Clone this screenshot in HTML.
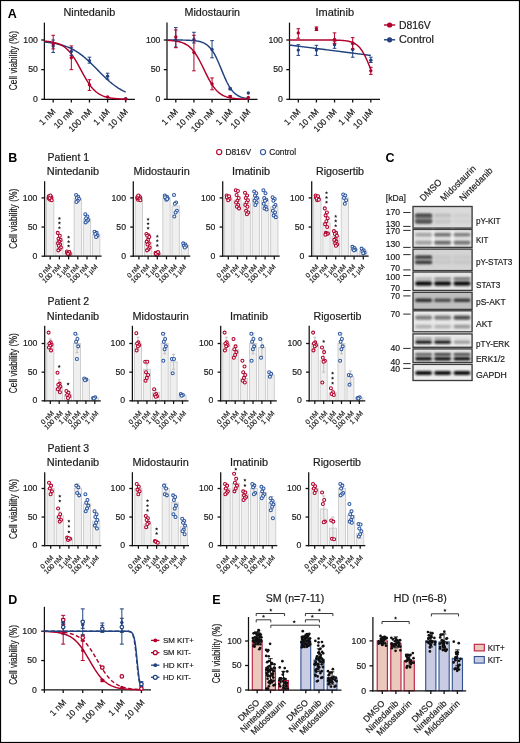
<!DOCTYPE html>
<html><head><meta charset="utf-8"><style>
html,body{margin:0;padding:0;background:#fff;}
svg{display:block;will-change:transform;}
text{font-family:"Liberation Sans", sans-serif;}
</style></head><body>
<svg width="520" height="743" viewBox="0 0 520 743">
<defs><filter id="b1" x="-20%" y="-60%" width="140%" height="220%"><feGaussianBlur stdDeviation="0.8"/></filter></defs>
<rect x="0" y="0" width="520" height="743" fill="#fff"/>
<text x="7.8" y="17.9" font-size="12.5" fill="#000" font-weight="bold">A</text>
<line x1="44.4" y1="22.6" x2="44.4" y2="99.9" stroke="#111" stroke-width="1.25"/>
<line x1="43.8" y1="99.3" x2="134.9" y2="99.3" stroke="#111" stroke-width="1.25"/>
<line x1="41.2" y1="99.3" x2="44.4" y2="99.3" stroke="#111" stroke-width="1.3"/>
<text x="37.8" y="101.8" font-size="8.7" fill="#1a1a1a" text-anchor="end" stroke="#1a1a1a" stroke-width="0.18">0</text>
<line x1="41.2" y1="69.65" x2="44.4" y2="69.65" stroke="#111" stroke-width="1.3"/>
<text x="37.8" y="72.15" font-size="8.7" fill="#1a1a1a" text-anchor="end" stroke="#1a1a1a" stroke-width="0.18">50</text>
<line x1="41.2" y1="40" x2="44.4" y2="40" stroke="#111" stroke-width="1.3"/>
<text x="37.8" y="42.5" font-size="8.7" fill="#1a1a1a" text-anchor="end" stroke="#1a1a1a" stroke-width="0.18">100</text>
<line x1="53.2" y1="99.3" x2="53.2" y2="102.5" stroke="#111" stroke-width="1.3"/>
<text x="56" y="112.2" font-size="8.6" fill="#1a1a1a" transform="rotate(-45 56 112.2)" text-anchor="end" stroke="#1a1a1a" stroke-width="0.18">1 nM</text>
<line x1="71.33" y1="99.3" x2="71.33" y2="102.5" stroke="#111" stroke-width="1.3"/>
<text x="74.13" y="112.2" font-size="8.6" fill="#1a1a1a" transform="rotate(-45 74.13 112.2)" text-anchor="end" stroke="#1a1a1a" stroke-width="0.18">10 nM</text>
<line x1="89.46" y1="99.3" x2="89.46" y2="102.5" stroke="#111" stroke-width="1.3"/>
<text x="92.26" y="112.2" font-size="8.6" fill="#1a1a1a" transform="rotate(-45 92.26 112.2)" text-anchor="end" stroke="#1a1a1a" stroke-width="0.18">100 nM</text>
<line x1="107.59" y1="99.3" x2="107.59" y2="102.5" stroke="#111" stroke-width="1.3"/>
<text x="110.39" y="112.2" font-size="8.6" fill="#1a1a1a" transform="rotate(-45 110.39 112.2)" text-anchor="end" stroke="#1a1a1a" stroke-width="0.18">1 µM</text>
<line x1="125.72" y1="99.3" x2="125.72" y2="102.5" stroke="#111" stroke-width="1.3"/>
<text x="128.52" y="112.2" font-size="8.6" fill="#1a1a1a" transform="rotate(-45 128.52 112.2)" text-anchor="end" stroke="#1a1a1a" stroke-width="0.18">10 µM</text>
<text x="89.35" y="16.3" font-size="10" fill="#1a1a1a" textLength="51.7" lengthAdjust="spacingAndGlyphs" text-anchor="middle" stroke="#1a1a1a" stroke-width="0.18">Nintedanib</text>
<path d="M44.4,41.99 L45.42,42.09 L46.43,42.19 L47.45,42.31 L48.47,42.43 L49.48,42.56 L50.5,42.7 L51.52,42.85 L52.53,43.01 L53.55,43.18 L54.56,43.36 L55.58,43.55 L56.6,43.76 L57.61,43.98 L58.63,44.21 L59.65,44.46 L60.66,44.72 L61.68,45 L62.7,45.3 L63.71,45.62 L64.73,45.96 L65.75,46.31 L66.76,46.69 L67.78,47.09 L68.8,47.51 L69.81,47.95 L70.83,48.42 L71.85,48.92 L72.86,49.44 L73.88,49.99 L74.89,50.56 L75.91,51.16 L76.93,51.79 L77.94,52.45 L78.96,53.13 L79.98,53.85 L80.99,54.59 L82.01,55.36 L83.03,56.16 L84.04,56.99 L85.06,57.84 L86.08,58.72 L87.09,59.62 L88.11,60.54 L89.13,61.49 L90.14,62.45 L91.16,63.43 L92.18,64.43 L93.19,65.44 L94.21,66.47 L95.22,67.5 L96.24,68.54 L97.26,69.58 L98.27,70.62 L99.29,71.66 L100.31,72.7 L101.32,73.72 L102.34,74.74 L103.36,75.75 L104.37,76.75 L105.39,77.72 L106.41,78.68 L107.42,79.62 L108.44,80.54 L109.46,81.44 L110.47,82.31 L111.49,83.15 L112.51,83.97 L113.52,84.76 L114.54,85.52 L115.56,86.26 L116.57,86.96 L117.59,87.64 L118.6,88.29 L119.62,88.91 L120.64,89.5 L121.65,90.07 L122.67,90.61 L123.69,91.12 L124.7,91.61 L125.72,92.07" stroke="#22427f" stroke-width="1.45" fill="none"/>
<path d="M44.4,41.15 L45.42,41.23 L46.43,41.32 L47.45,41.42 L48.47,41.53 L49.48,41.65 L50.5,41.8 L51.52,41.96 L52.53,42.14 L53.55,42.35 L54.56,42.58 L55.58,42.85 L56.6,43.14 L57.61,43.48 L58.63,43.85 L59.65,44.28 L60.66,44.75 L61.68,45.27 L62.7,45.86 L63.71,46.51 L64.73,47.24 L65.75,48.04 L66.76,48.92 L67.78,49.88 L68.8,50.94 L69.81,52.08 L70.83,53.32 L71.85,54.66 L72.86,56.09 L73.88,57.6 L74.89,59.2 L75.91,60.88 L76.93,62.63 L77.94,64.43 L78.96,66.28 L79.98,68.16 L80.99,70.05 L82.01,71.94 L83.03,73.82 L84.04,75.66 L85.06,77.46 L86.08,79.2 L87.09,80.87 L88.11,82.46 L89.13,83.97 L90.14,85.38 L91.16,86.71 L92.18,87.94 L93.19,89.07 L94.21,90.12 L95.22,91.07 L96.24,91.95 L97.26,92.74 L98.27,93.45 L99.29,94.1 L100.31,94.68 L101.32,95.2 L102.34,95.67 L103.36,96.08 L104.37,96.45 L105.39,96.78 L106.41,97.08 L107.42,97.34 L108.44,97.57 L109.46,97.77 L110.47,97.95 L111.49,98.11 L112.51,98.25 L113.52,98.38 L114.54,98.49 L115.56,98.59 L116.57,98.67 L117.59,98.75 L118.6,98.81 L119.62,98.87 L120.64,98.92 L121.65,98.97 L122.67,99.01 L123.69,99.04 L124.7,99.07 L125.72,99.1" stroke="#b0002b" stroke-width="1.45" fill="none"/>
<line x1="53.2" y1="40" x2="53.2" y2="52.45" stroke="#22427f" stroke-width="1"/>
<line x1="51.4" y1="40" x2="55" y2="40" stroke="#22427f" stroke-width="1"/>
<line x1="51.4" y1="52.45" x2="55" y2="52.45" stroke="#22427f" stroke-width="1"/>
<circle cx="53.2" cy="45.93" r="1.7" fill="#22427f" stroke="none" stroke-width="0"/>
<line x1="71.33" y1="47.71" x2="71.33" y2="55.42" stroke="#22427f" stroke-width="1"/>
<line x1="69.53" y1="47.71" x2="73.13" y2="47.71" stroke="#22427f" stroke-width="1"/>
<line x1="69.53" y1="55.42" x2="73.13" y2="55.42" stroke="#22427f" stroke-width="1"/>
<circle cx="71.33" cy="51.56" r="1.7" fill="#22427f" stroke="none" stroke-width="0"/>
<line x1="89.46" y1="57.2" x2="89.46" y2="63.13" stroke="#22427f" stroke-width="1"/>
<line x1="87.66" y1="57.2" x2="91.26" y2="57.2" stroke="#22427f" stroke-width="1"/>
<line x1="87.66" y1="63.13" x2="91.26" y2="63.13" stroke="#22427f" stroke-width="1"/>
<circle cx="89.46" cy="60.75" r="1.7" fill="#22427f" stroke="none" stroke-width="0"/>
<line x1="107.59" y1="73.21" x2="107.59" y2="79.14" stroke="#22427f" stroke-width="1"/>
<line x1="105.79" y1="73.21" x2="109.39" y2="73.21" stroke="#22427f" stroke-width="1"/>
<line x1="105.79" y1="79.14" x2="109.39" y2="79.14" stroke="#22427f" stroke-width="1"/>
<circle cx="107.59" cy="76.17" r="1.7" fill="#22427f" stroke="none" stroke-width="0"/>
<circle cx="125.72" cy="98.71" r="1.7" fill="#22427f" stroke="none" stroke-width="0"/>
<line x1="53.2" y1="35.26" x2="53.2" y2="48.89" stroke="#b0002b" stroke-width="1"/>
<line x1="51.4" y1="35.26" x2="55" y2="35.26" stroke="#b0002b" stroke-width="1"/>
<line x1="51.4" y1="48.89" x2="55" y2="48.89" stroke="#b0002b" stroke-width="1"/>
<circle cx="53.2" cy="43.85" r="1.7" fill="#b0002b" stroke="none" stroke-width="0"/>
<line x1="71.33" y1="45.93" x2="71.33" y2="69.65" stroke="#b0002b" stroke-width="1"/>
<line x1="69.53" y1="45.93" x2="73.13" y2="45.93" stroke="#b0002b" stroke-width="1"/>
<line x1="69.53" y1="69.65" x2="73.13" y2="69.65" stroke="#b0002b" stroke-width="1"/>
<circle cx="71.33" cy="57.79" r="1.7" fill="#b0002b" stroke="none" stroke-width="0"/>
<line x1="89.46" y1="79.73" x2="89.46" y2="90.41" stroke="#b0002b" stroke-width="1"/>
<line x1="87.66" y1="79.73" x2="91.26" y2="79.73" stroke="#b0002b" stroke-width="1"/>
<line x1="87.66" y1="90.41" x2="91.26" y2="90.41" stroke="#b0002b" stroke-width="1"/>
<circle cx="89.46" cy="84.77" r="1.7" fill="#b0002b" stroke="none" stroke-width="0"/>
<circle cx="107.59" cy="96.93" r="1.7" fill="#b0002b" stroke="none" stroke-width="0"/>
<circle cx="125.72" cy="99" r="1.7" fill="#b0002b" stroke="none" stroke-width="0"/>
<line x1="167" y1="22.6" x2="167" y2="99.9" stroke="#111" stroke-width="1.25"/>
<line x1="166.4" y1="99.3" x2="257.5" y2="99.3" stroke="#111" stroke-width="1.25"/>
<line x1="163.8" y1="99.3" x2="167" y2="99.3" stroke="#111" stroke-width="1.3"/>
<text x="160.4" y="101.8" font-size="8.7" fill="#1a1a1a" text-anchor="end" stroke="#1a1a1a" stroke-width="0.18">0</text>
<line x1="163.8" y1="69.65" x2="167" y2="69.65" stroke="#111" stroke-width="1.3"/>
<text x="160.4" y="72.15" font-size="8.7" fill="#1a1a1a" text-anchor="end" stroke="#1a1a1a" stroke-width="0.18">50</text>
<line x1="163.8" y1="40" x2="167" y2="40" stroke="#111" stroke-width="1.3"/>
<text x="160.4" y="42.5" font-size="8.7" fill="#1a1a1a" text-anchor="end" stroke="#1a1a1a" stroke-width="0.18">100</text>
<line x1="175.8" y1="99.3" x2="175.8" y2="102.5" stroke="#111" stroke-width="1.3"/>
<text x="178.6" y="112.2" font-size="8.6" fill="#1a1a1a" transform="rotate(-45 178.6 112.2)" text-anchor="end" stroke="#1a1a1a" stroke-width="0.18">1 nM</text>
<line x1="193.93" y1="99.3" x2="193.93" y2="102.5" stroke="#111" stroke-width="1.3"/>
<text x="196.73" y="112.2" font-size="8.6" fill="#1a1a1a" transform="rotate(-45 196.73 112.2)" text-anchor="end" stroke="#1a1a1a" stroke-width="0.18">10 nM</text>
<line x1="212.06" y1="99.3" x2="212.06" y2="102.5" stroke="#111" stroke-width="1.3"/>
<text x="214.86" y="112.2" font-size="8.6" fill="#1a1a1a" transform="rotate(-45 214.86 112.2)" text-anchor="end" stroke="#1a1a1a" stroke-width="0.18">100 nM</text>
<line x1="230.19" y1="99.3" x2="230.19" y2="102.5" stroke="#111" stroke-width="1.3"/>
<text x="232.99" y="112.2" font-size="8.6" fill="#1a1a1a" transform="rotate(-45 232.99 112.2)" text-anchor="end" stroke="#1a1a1a" stroke-width="0.18">1 µM</text>
<line x1="248.32" y1="99.3" x2="248.32" y2="102.5" stroke="#111" stroke-width="1.3"/>
<text x="251.12" y="112.2" font-size="8.6" fill="#1a1a1a" transform="rotate(-45 251.12 112.2)" text-anchor="end" stroke="#1a1a1a" stroke-width="0.18">10 µM</text>
<text x="212.25" y="16.3" font-size="10" fill="#1a1a1a" textLength="55.5" lengthAdjust="spacingAndGlyphs" text-anchor="middle" stroke="#1a1a1a" stroke-width="0.18">Midostaurin</text>
<path d="M167,40.01 L168.02,40.01 L169.03,40.01 L170.05,40.01 L171.07,40.01 L172.08,40.02 L173.1,40.02 L174.12,40.02 L175.13,40.03 L176.15,40.03 L177.16,40.04 L178.18,40.05 L179.2,40.05 L180.21,40.07 L181.23,40.08 L182.25,40.09 L183.26,40.11 L184.28,40.13 L185.3,40.15 L186.31,40.18 L187.33,40.21 L188.35,40.25 L189.36,40.29 L190.38,40.35 L191.4,40.41 L192.41,40.48 L193.43,40.57 L194.45,40.67 L195.46,40.8 L196.48,40.94 L197.5,41.11 L198.51,41.31 L199.53,41.54 L200.54,41.81 L201.56,42.13 L202.58,42.5 L203.59,42.94 L204.61,43.44 L205.63,44.03 L206.64,44.71 L207.66,45.49 L208.68,46.38 L209.69,47.4 L210.71,48.56 L211.73,49.86 L212.74,51.32 L213.76,52.94 L214.78,54.72 L215.79,56.65 L216.81,58.73 L217.82,60.95 L218.84,63.27 L219.86,65.69 L220.87,68.15 L221.89,70.64 L222.91,73.11 L223.92,75.53 L224.94,77.88 L225.96,80.12 L226.97,82.23 L227.99,84.19 L229.01,86.01 L230.02,87.66 L231.04,89.15 L232.06,90.48 L233.07,91.67 L234.09,92.72 L235.11,93.64 L236.12,94.44 L237.14,95.14 L238.16,95.74 L239.17,96.26 L240.19,96.71 L241.2,97.1 L242.22,97.43 L243.24,97.71 L244.25,97.95 L245.27,98.15 L246.29,98.33 L247.3,98.48 L248.32,98.6" stroke="#22427f" stroke-width="1.45" fill="none"/>
<path d="M167,40.33 L168.02,40.38 L169.03,40.44 L170.05,40.51 L171.07,40.58 L172.08,40.67 L173.1,40.77 L174.12,40.89 L175.13,41.02 L176.15,41.17 L177.16,41.35 L178.18,41.55 L179.2,41.78 L180.21,42.04 L181.23,42.34 L182.25,42.68 L183.26,43.07 L184.28,43.51 L185.3,44.01 L186.31,44.57 L187.33,45.21 L188.35,45.92 L189.36,46.72 L190.38,47.62 L191.4,48.61 L192.41,49.71 L193.43,50.92 L194.45,52.24 L195.46,53.68 L196.48,55.23 L197.5,56.89 L198.51,58.66 L199.53,60.52 L200.54,62.47 L201.56,64.48 L202.58,66.54 L203.59,68.64 L204.61,70.74 L205.63,72.84 L206.64,74.9 L207.66,76.91 L208.68,78.85 L209.69,80.71 L210.71,82.47 L211.73,84.13 L212.74,85.68 L213.76,87.11 L214.78,88.43 L215.79,89.63 L216.81,90.73 L217.82,91.72 L218.84,92.61 L219.86,93.41 L220.87,94.12 L221.89,94.75 L222.91,95.31 L223.92,95.81 L224.94,96.25 L225.96,96.63 L226.97,96.97 L227.99,97.27 L229.01,97.53 L230.02,97.76 L231.04,97.96 L232.06,98.13 L233.07,98.28 L234.09,98.42 L235.11,98.53 L236.12,98.63 L237.14,98.72 L238.16,98.8 L239.17,98.86 L240.19,98.92 L241.2,98.97 L242.22,99.01 L243.24,99.05 L244.25,99.08 L245.27,99.11 L246.29,99.14 L247.3,99.16 L248.32,99.18" stroke="#b0002b" stroke-width="1.45" fill="none"/>
<line x1="175.8" y1="27.55" x2="175.8" y2="47.12" stroke="#22427f" stroke-width="1"/>
<line x1="174" y1="27.55" x2="177.6" y2="27.55" stroke="#22427f" stroke-width="1"/>
<line x1="174" y1="47.12" x2="177.6" y2="47.12" stroke="#22427f" stroke-width="1"/>
<circle cx="175.8" cy="40" r="1.7" fill="#22427f" stroke="none" stroke-width="0"/>
<line x1="193.93" y1="32.29" x2="193.93" y2="42.97" stroke="#22427f" stroke-width="1"/>
<line x1="192.13" y1="32.29" x2="195.73" y2="32.29" stroke="#22427f" stroke-width="1"/>
<line x1="192.13" y1="42.97" x2="195.73" y2="42.97" stroke="#22427f" stroke-width="1"/>
<circle cx="193.93" cy="39.41" r="1.7" fill="#22427f" stroke="none" stroke-width="0"/>
<line x1="212.06" y1="40.59" x2="212.06" y2="57.79" stroke="#22427f" stroke-width="1"/>
<line x1="210.26" y1="40.59" x2="213.86" y2="40.59" stroke="#22427f" stroke-width="1"/>
<line x1="210.26" y1="57.79" x2="213.86" y2="57.79" stroke="#22427f" stroke-width="1"/>
<circle cx="212.06" cy="49.49" r="1.7" fill="#22427f" stroke="none" stroke-width="0"/>
<line x1="230.19" y1="88.03" x2="230.19" y2="89.81" stroke="#22427f" stroke-width="1"/>
<line x1="228.39" y1="88.03" x2="231.99" y2="88.03" stroke="#22427f" stroke-width="1"/>
<line x1="228.39" y1="89.81" x2="231.99" y2="89.81" stroke="#22427f" stroke-width="1"/>
<circle cx="230.19" cy="88.8" r="1.7" fill="#22427f" stroke="none" stroke-width="0"/>
<circle cx="248.32" cy="93.07" r="1.7" fill="#22427f" stroke="none" stroke-width="0"/>
<line x1="175.8" y1="29.92" x2="175.8" y2="47.71" stroke="#b0002b" stroke-width="1"/>
<line x1="174" y1="29.92" x2="177.6" y2="29.92" stroke="#b0002b" stroke-width="1"/>
<line x1="174" y1="47.71" x2="177.6" y2="47.71" stroke="#b0002b" stroke-width="1"/>
<circle cx="175.8" cy="37.03" r="1.7" fill="#b0002b" stroke="none" stroke-width="0"/>
<line x1="193.93" y1="35.26" x2="193.93" y2="70.84" stroke="#b0002b" stroke-width="1"/>
<line x1="192.13" y1="35.26" x2="195.73" y2="35.26" stroke="#b0002b" stroke-width="1"/>
<line x1="192.13" y1="70.84" x2="195.73" y2="70.84" stroke="#b0002b" stroke-width="1"/>
<circle cx="193.93" cy="52.45" r="1.7" fill="#b0002b" stroke="none" stroke-width="0"/>
<line x1="212.06" y1="77.95" x2="212.06" y2="89.81" stroke="#b0002b" stroke-width="1"/>
<line x1="210.26" y1="77.95" x2="213.86" y2="77.95" stroke="#b0002b" stroke-width="1"/>
<line x1="210.26" y1="89.81" x2="213.86" y2="89.81" stroke="#b0002b" stroke-width="1"/>
<circle cx="212.06" cy="83.88" r="1.7" fill="#b0002b" stroke="none" stroke-width="0"/>
<line x1="230.19" y1="95.74" x2="230.19" y2="97.52" stroke="#b0002b" stroke-width="1"/>
<line x1="228.39" y1="95.74" x2="231.99" y2="95.74" stroke="#b0002b" stroke-width="1"/>
<line x1="228.39" y1="97.52" x2="231.99" y2="97.52" stroke="#b0002b" stroke-width="1"/>
<circle cx="230.19" cy="96.57" r="1.7" fill="#b0002b" stroke="none" stroke-width="0"/>
<circle cx="248.32" cy="97.52" r="1.7" fill="#b0002b" stroke="none" stroke-width="0"/>
<line x1="289.5" y1="22.6" x2="289.5" y2="99.9" stroke="#111" stroke-width="1.25"/>
<line x1="288.9" y1="99.3" x2="380" y2="99.3" stroke="#111" stroke-width="1.25"/>
<line x1="286.3" y1="99.3" x2="289.5" y2="99.3" stroke="#111" stroke-width="1.3"/>
<text x="282.9" y="101.8" font-size="8.7" fill="#1a1a1a" text-anchor="end" stroke="#1a1a1a" stroke-width="0.18">0</text>
<line x1="286.3" y1="69.65" x2="289.5" y2="69.65" stroke="#111" stroke-width="1.3"/>
<text x="282.9" y="72.15" font-size="8.7" fill="#1a1a1a" text-anchor="end" stroke="#1a1a1a" stroke-width="0.18">50</text>
<line x1="286.3" y1="40" x2="289.5" y2="40" stroke="#111" stroke-width="1.3"/>
<text x="282.9" y="42.5" font-size="8.7" fill="#1a1a1a" text-anchor="end" stroke="#1a1a1a" stroke-width="0.18">100</text>
<line x1="298.3" y1="99.3" x2="298.3" y2="102.5" stroke="#111" stroke-width="1.3"/>
<text x="301.1" y="112.2" font-size="8.6" fill="#1a1a1a" transform="rotate(-45 301.1 112.2)" text-anchor="end" stroke="#1a1a1a" stroke-width="0.18">1 nM</text>
<line x1="316.43" y1="99.3" x2="316.43" y2="102.5" stroke="#111" stroke-width="1.3"/>
<text x="319.23" y="112.2" font-size="8.6" fill="#1a1a1a" transform="rotate(-45 319.23 112.2)" text-anchor="end" stroke="#1a1a1a" stroke-width="0.18">10 nM</text>
<line x1="334.56" y1="99.3" x2="334.56" y2="102.5" stroke="#111" stroke-width="1.3"/>
<text x="337.36" y="112.2" font-size="8.6" fill="#1a1a1a" transform="rotate(-45 337.36 112.2)" text-anchor="end" stroke="#1a1a1a" stroke-width="0.18">100 nM</text>
<line x1="352.69" y1="99.3" x2="352.69" y2="102.5" stroke="#111" stroke-width="1.3"/>
<text x="355.49" y="112.2" font-size="8.6" fill="#1a1a1a" transform="rotate(-45 355.49 112.2)" text-anchor="end" stroke="#1a1a1a" stroke-width="0.18">1 µM</text>
<line x1="370.82" y1="99.3" x2="370.82" y2="102.5" stroke="#111" stroke-width="1.3"/>
<text x="373.62" y="112.2" font-size="8.6" fill="#1a1a1a" transform="rotate(-45 373.62 112.2)" text-anchor="end" stroke="#1a1a1a" stroke-width="0.18">10 µM</text>
<text x="334.75" y="16.3" font-size="10" fill="#1a1a1a" textLength="38.5" lengthAdjust="spacingAndGlyphs" text-anchor="middle" stroke="#1a1a1a" stroke-width="0.18">Imatinib</text>
<path d="M289.5,45.05 L290.52,45.18 L291.53,45.31 L292.55,45.44 L293.57,45.57 L294.58,45.7 L295.6,45.83 L296.62,45.96 L297.63,46.09 L298.65,46.22 L299.67,46.35 L300.68,46.48 L301.7,46.61 L302.71,46.74 L303.73,46.87 L304.75,47 L305.76,47.13 L306.78,47.26 L307.8,47.39 L308.81,47.51 L309.83,47.64 L310.85,47.77 L311.86,47.9 L312.88,48.03 L313.9,48.16 L314.91,48.29 L315.93,48.42 L316.95,48.55 L317.96,48.68 L318.98,48.81 L320,48.94 L321.01,49.07 L322.03,49.2 L323.04,49.33 L324.06,49.46 L325.08,49.59 L326.09,49.72 L327.11,49.85 L328.13,49.98 L329.14,50.11 L330.16,50.24 L331.18,50.37 L332.19,50.5 L333.21,50.63 L334.23,50.76 L335.24,50.89 L336.26,51.02 L337.28,51.15 L338.29,51.28 L339.31,51.4 L340.32,51.53 L341.34,51.66 L342.36,51.79 L343.37,51.92 L344.39,52.05 L345.41,52.18 L346.42,52.31 L347.44,52.44 L348.46,52.57 L349.47,52.7 L350.49,52.83 L351.51,52.96 L352.52,53.09 L353.54,53.22 L354.56,53.35 L355.57,53.48 L356.59,53.61 L357.61,53.74 L358.62,53.87 L359.64,54 L360.65,54.13 L361.67,54.26 L362.69,54.39 L363.7,54.52 L364.72,54.65 L365.74,54.78 L366.75,54.91 L367.77,55.04 L368.79,55.17 L369.8,55.29 L370.82,55.42" stroke="#22427f" stroke-width="1.45" fill="none"/>
<path d="M289.5,40 L290.52,40 L291.53,40 L292.55,40 L293.57,40 L294.58,40 L295.6,40 L296.62,40 L297.63,40 L298.65,40 L299.67,40 L300.68,40 L301.7,40 L302.71,40 L303.73,40 L304.75,40 L305.76,40 L306.78,40 L307.8,40 L308.81,40 L309.83,40 L310.85,40 L311.86,40 L312.88,40 L313.9,40 L314.91,40 L315.93,40 L316.95,40.01 L317.96,40.01 L318.98,40.01 L320,40.01 L321.01,40.01 L322.03,40.01 L323.04,40.02 L324.06,40.02 L325.08,40.02 L326.09,40.03 L327.11,40.03 L328.13,40.04 L329.14,40.05 L330.16,40.06 L331.18,40.07 L332.19,40.08 L333.21,40.09 L334.23,40.11 L335.24,40.13 L336.26,40.16 L337.28,40.19 L338.29,40.22 L339.31,40.27 L340.32,40.32 L341.34,40.38 L342.36,40.45 L343.37,40.53 L344.39,40.63 L345.41,40.75 L346.42,40.89 L347.44,41.06 L348.46,41.25 L349.47,41.49 L350.49,41.76 L351.51,42.09 L352.52,42.47 L353.54,42.91 L354.56,43.44 L355.57,44.05 L356.59,44.75 L357.61,45.57 L358.62,46.52 L359.64,47.6 L360.65,48.83 L361.67,50.22 L362.69,51.78 L363.7,53.52 L364.72,55.42 L365.74,57.49 L366.75,59.71 L367.77,62.07 L368.79,64.53 L369.8,67.07 L370.82,69.65" stroke="#b0002b" stroke-width="1.45" fill="none"/>
<line x1="298.3" y1="44.74" x2="298.3" y2="55.42" stroke="#22427f" stroke-width="1"/>
<line x1="296.5" y1="44.74" x2="300.1" y2="44.74" stroke="#22427f" stroke-width="1"/>
<line x1="296.5" y1="55.42" x2="300.1" y2="55.42" stroke="#22427f" stroke-width="1"/>
<circle cx="298.3" cy="50.08" r="1.7" fill="#22427f" stroke="none" stroke-width="0"/>
<line x1="316.43" y1="45.34" x2="316.43" y2="55.42" stroke="#22427f" stroke-width="1"/>
<line x1="314.63" y1="45.34" x2="318.23" y2="45.34" stroke="#22427f" stroke-width="1"/>
<line x1="314.63" y1="55.42" x2="318.23" y2="55.42" stroke="#22427f" stroke-width="1"/>
<circle cx="316.43" cy="50.08" r="1.7" fill="#22427f" stroke="none" stroke-width="0"/>
<line x1="334.56" y1="41.78" x2="334.56" y2="48.3" stroke="#22427f" stroke-width="1"/>
<line x1="332.76" y1="41.78" x2="336.36" y2="41.78" stroke="#22427f" stroke-width="1"/>
<line x1="332.76" y1="48.3" x2="336.36" y2="48.3" stroke="#22427f" stroke-width="1"/>
<circle cx="334.56" cy="44.74" r="1.7" fill="#22427f" stroke="none" stroke-width="0"/>
<line x1="352.69" y1="44.15" x2="352.69" y2="57.2" stroke="#22427f" stroke-width="1"/>
<line x1="350.89" y1="44.15" x2="354.49" y2="44.15" stroke="#22427f" stroke-width="1"/>
<line x1="350.89" y1="57.2" x2="354.49" y2="57.2" stroke="#22427f" stroke-width="1"/>
<circle cx="352.69" cy="49.49" r="1.7" fill="#22427f" stroke="none" stroke-width="0"/>
<line x1="370.82" y1="57.2" x2="370.82" y2="62.53" stroke="#22427f" stroke-width="1"/>
<line x1="369.02" y1="57.2" x2="372.62" y2="57.2" stroke="#22427f" stroke-width="1"/>
<line x1="369.02" y1="62.53" x2="372.62" y2="62.53" stroke="#22427f" stroke-width="1"/>
<circle cx="370.82" cy="60.16" r="1.7" fill="#22427f" stroke="none" stroke-width="0"/>
<line x1="298.3" y1="28.73" x2="298.3" y2="38.22" stroke="#b0002b" stroke-width="1"/>
<line x1="296.5" y1="28.73" x2="300.1" y2="28.73" stroke="#b0002b" stroke-width="1"/>
<line x1="296.5" y1="38.22" x2="300.1" y2="38.22" stroke="#b0002b" stroke-width="1"/>
<circle cx="298.3" cy="32.88" r="1.7" fill="#b0002b" stroke="none" stroke-width="0"/>
<line x1="316.43" y1="26.95" x2="316.43" y2="30.51" stroke="#b0002b" stroke-width="1"/>
<line x1="314.63" y1="26.95" x2="318.23" y2="26.95" stroke="#b0002b" stroke-width="1"/>
<line x1="314.63" y1="30.51" x2="318.23" y2="30.51" stroke="#b0002b" stroke-width="1"/>
<circle cx="316.43" cy="28.73" r="1.7" fill="#b0002b" stroke="none" stroke-width="0"/>
<line x1="334.56" y1="32.88" x2="334.56" y2="43.56" stroke="#b0002b" stroke-width="1"/>
<line x1="332.76" y1="32.88" x2="336.36" y2="32.88" stroke="#b0002b" stroke-width="1"/>
<line x1="332.76" y1="43.56" x2="336.36" y2="43.56" stroke="#b0002b" stroke-width="1"/>
<circle cx="334.56" cy="39.41" r="1.7" fill="#b0002b" stroke="none" stroke-width="0"/>
<line x1="352.69" y1="37.63" x2="352.69" y2="48.89" stroke="#b0002b" stroke-width="1"/>
<line x1="350.89" y1="37.63" x2="354.49" y2="37.63" stroke="#b0002b" stroke-width="1"/>
<line x1="350.89" y1="48.89" x2="354.49" y2="48.89" stroke="#b0002b" stroke-width="1"/>
<circle cx="352.69" cy="42.97" r="1.7" fill="#b0002b" stroke="none" stroke-width="0"/>
<line x1="370.82" y1="67.28" x2="370.82" y2="74.39" stroke="#b0002b" stroke-width="1"/>
<line x1="369.02" y1="67.28" x2="372.62" y2="67.28" stroke="#b0002b" stroke-width="1"/>
<line x1="369.02" y1="74.39" x2="372.62" y2="74.39" stroke="#b0002b" stroke-width="1"/>
<circle cx="370.82" cy="70.84" r="1.7" fill="#b0002b" stroke="none" stroke-width="0"/>
<text x="17" y="60.6" font-size="10" fill="#1a1a1a" textLength="59.3" lengthAdjust="spacingAndGlyphs" transform="rotate(-90 17 60.6)" text-anchor="middle" stroke="#1a1a1a" stroke-width="0.18">Cell viability (%)</text>
<line x1="384" y1="25" x2="395.2" y2="25" stroke="#b0002b" stroke-width="1.4"/>
<circle cx="389.6" cy="25" r="2.6" fill="#b0002b" stroke="none" stroke-width="0"/>
<text x="399" y="28.6" font-size="10.3" fill="#1a1a1a" textLength="31.8" lengthAdjust="spacingAndGlyphs" stroke="#1a1a1a" stroke-width="0.18">D816V</text>
<line x1="384" y1="39.8" x2="395.2" y2="39.8" stroke="#22427f" stroke-width="1.4"/>
<circle cx="389.6" cy="39.8" r="2.6" fill="#22427f" stroke="none" stroke-width="0"/>
<text x="399" y="43.4" font-size="10.3" fill="#1a1a1a" textLength="35" lengthAdjust="spacingAndGlyphs" stroke="#1a1a1a" stroke-width="0.18">Control</text>
<text x="8.3" y="162" font-size="12.5" fill="#000" font-weight="bold">B</text>
<rect x="46.55" y="197.9" width="7.3" height="58.3" fill="#efefef" stroke="#cbcbcb" stroke-width="0.9"/>
<rect x="55.75" y="241.04" width="7.3" height="15.16" fill="#efefef" stroke="#cbcbcb" stroke-width="0.9"/>
<rect x="64.95" y="252.7" width="7.3" height="3.5" fill="#efefef" stroke="#cbcbcb" stroke-width="0.9"/>
<rect x="74.15" y="198.77" width="7.3" height="57.43" fill="#efefef" stroke="#cbcbcb" stroke-width="0.9"/>
<rect x="83.35" y="218.89" width="7.3" height="37.31" fill="#efefef" stroke="#cbcbcb" stroke-width="0.9"/>
<rect x="92.55" y="234.05" width="7.3" height="22.15" fill="#efefef" stroke="#cbcbcb" stroke-width="0.9"/>
<circle cx="48.5" cy="197.9" r="1.5" fill="#fff" stroke="#b0002b" stroke-width="1.05"/>
<circle cx="50.6" cy="196.73" r="1.5" fill="#fff" stroke="#b0002b" stroke-width="1.05"/>
<circle cx="49.3" cy="199.07" r="1.5" fill="#fff" stroke="#b0002b" stroke-width="1.05"/>
<circle cx="51.4" cy="197.32" r="1.5" fill="#fff" stroke="#b0002b" stroke-width="1.05"/>
<circle cx="50.1" cy="199.65" r="1.5" fill="#fff" stroke="#b0002b" stroke-width="1.05"/>
<circle cx="48.81" cy="196.15" r="1.5" fill="#fff" stroke="#b0002b" stroke-width="1.05"/>
<circle cx="50.91" cy="198.48" r="1.5" fill="#fff" stroke="#b0002b" stroke-width="1.05"/>
<circle cx="49.61" cy="197.9" r="1.5" fill="#fff" stroke="#b0002b" stroke-width="1.05"/>
<circle cx="51.71" cy="200.23" r="1.5" fill="#fff" stroke="#b0002b" stroke-width="1.05"/>
<circle cx="50.41" cy="195.57" r="1.5" fill="#fff" stroke="#b0002b" stroke-width="1.05"/>
<circle cx="57.7" cy="232.88" r="1.5" fill="#fff" stroke="#b0002b" stroke-width="1.05"/>
<circle cx="59.8" cy="235.79" r="1.5" fill="#fff" stroke="#b0002b" stroke-width="1.05"/>
<circle cx="58.5" cy="238.71" r="1.5" fill="#fff" stroke="#b0002b" stroke-width="1.05"/>
<circle cx="60.6" cy="239.88" r="1.5" fill="#fff" stroke="#b0002b" stroke-width="1.05"/>
<circle cx="59.3" cy="241.62" r="1.5" fill="#fff" stroke="#b0002b" stroke-width="1.05"/>
<circle cx="58.01" cy="243.37" r="1.5" fill="#fff" stroke="#b0002b" stroke-width="1.05"/>
<circle cx="60.11" cy="244.54" r="1.5" fill="#fff" stroke="#b0002b" stroke-width="1.05"/>
<circle cx="58.81" cy="245.71" r="1.5" fill="#fff" stroke="#b0002b" stroke-width="1.05"/>
<circle cx="60.91" cy="247.45" r="1.5" fill="#fff" stroke="#b0002b" stroke-width="1.05"/>
<circle cx="59.61" cy="249.2" r="1.5" fill="#fff" stroke="#b0002b" stroke-width="1.05"/>
<circle cx="58.31" cy="250.37" r="1.5" fill="#fff" stroke="#b0002b" stroke-width="1.05"/>
<circle cx="66.9" cy="251.54" r="1.5" fill="#fff" stroke="#b0002b" stroke-width="1.05"/>
<circle cx="69" cy="252.7" r="1.5" fill="#fff" stroke="#b0002b" stroke-width="1.05"/>
<circle cx="67.7" cy="253.28" r="1.5" fill="#fff" stroke="#b0002b" stroke-width="1.05"/>
<circle cx="69.8" cy="253.87" r="1.5" fill="#fff" stroke="#b0002b" stroke-width="1.05"/>
<circle cx="68.5" cy="254.45" r="1.5" fill="#fff" stroke="#b0002b" stroke-width="1.05"/>
<circle cx="67.21" cy="253.28" r="1.5" fill="#fff" stroke="#b0002b" stroke-width="1.05"/>
<circle cx="69.31" cy="252.12" r="1.5" fill="#fff" stroke="#b0002b" stroke-width="1.05"/>
<circle cx="68.01" cy="253.87" r="1.5" fill="#fff" stroke="#b0002b" stroke-width="1.05"/>
<circle cx="76.1" cy="194.99" r="1.5" fill="#fff" stroke="#2d57a0" stroke-width="1.05"/>
<circle cx="78.2" cy="196.73" r="1.5" fill="#fff" stroke="#2d57a0" stroke-width="1.05"/>
<circle cx="76.9" cy="197.9" r="1.5" fill="#fff" stroke="#2d57a0" stroke-width="1.05"/>
<circle cx="79" cy="199.07" r="1.5" fill="#fff" stroke="#2d57a0" stroke-width="1.05"/>
<circle cx="77.7" cy="200.81" r="1.5" fill="#fff" stroke="#2d57a0" stroke-width="1.05"/>
<circle cx="76.41" cy="201.98" r="1.5" fill="#fff" stroke="#2d57a0" stroke-width="1.05"/>
<circle cx="85.3" cy="214.22" r="1.5" fill="#fff" stroke="#2d57a0" stroke-width="1.05"/>
<circle cx="87.4" cy="216.56" r="1.5" fill="#fff" stroke="#2d57a0" stroke-width="1.05"/>
<circle cx="86.1" cy="218.31" r="1.5" fill="#fff" stroke="#2d57a0" stroke-width="1.05"/>
<circle cx="88.2" cy="220.05" r="1.5" fill="#fff" stroke="#2d57a0" stroke-width="1.05"/>
<circle cx="86.9" cy="221.22" r="1.5" fill="#fff" stroke="#2d57a0" stroke-width="1.05"/>
<circle cx="85.61" cy="222.39" r="1.5" fill="#fff" stroke="#2d57a0" stroke-width="1.05"/>
<circle cx="94.5" cy="231.71" r="1.5" fill="#fff" stroke="#2d57a0" stroke-width="1.05"/>
<circle cx="96.6" cy="232.88" r="1.5" fill="#fff" stroke="#2d57a0" stroke-width="1.05"/>
<circle cx="95.3" cy="234.05" r="1.5" fill="#fff" stroke="#2d57a0" stroke-width="1.05"/>
<circle cx="97.4" cy="235.79" r="1.5" fill="#fff" stroke="#2d57a0" stroke-width="1.05"/>
<circle cx="96.1" cy="236.96" r="1.5" fill="#fff" stroke="#2d57a0" stroke-width="1.05"/>
<polygon points="59.4,216.7 59.88,217.75 61.02,217.87 60.17,218.65 60.4,219.78 59.4,219.21 58.4,219.78 58.63,218.65 57.78,217.87 58.92,217.75" fill="#222"/>
<polygon points="59.4,221.3 59.88,222.35 61.02,222.47 60.17,223.25 60.4,224.38 59.4,223.81 58.4,224.38 58.63,223.25 57.78,222.47 58.92,222.35" fill="#222"/>
<polygon points="59.4,226.1 59.88,227.15 61.02,227.27 60.17,228.05 60.4,229.18 59.4,228.61 58.4,229.18 58.63,228.05 57.78,227.27 58.92,227.15" fill="#222"/>
<polygon points="68.6,235.5 69.08,236.55 70.22,236.67 69.37,237.45 69.6,238.58 68.6,238.01 67.6,238.58 67.83,237.45 66.98,236.67 68.12,236.55" fill="#222"/>
<polygon points="68.6,239.9 69.08,240.95 70.22,241.07 69.37,241.85 69.6,242.98 68.6,242.41 67.6,242.98 67.83,241.85 66.98,241.07 68.12,240.95" fill="#222"/>
<polygon points="68.6,244.3 69.08,245.35 70.22,245.47 69.37,246.25 69.6,247.38 68.6,246.81 67.6,247.38 67.83,246.25 66.98,245.47 68.12,245.35" fill="#222"/>
<line x1="44.6" y1="181.2" x2="44.6" y2="256.8" stroke="#111" stroke-width="1.25"/>
<line x1="44" y1="256.2" x2="101.6" y2="256.2" stroke="#111" stroke-width="1.25"/>
<line x1="41.5" y1="256.2" x2="44.6" y2="256.2" stroke="#111" stroke-width="1.3"/>
<text x="37.3" y="258.8" font-size="8.7" fill="#1a1a1a" text-anchor="end" stroke="#1a1a1a" stroke-width="0.18">0</text>
<line x1="41.5" y1="227.05" x2="44.6" y2="227.05" stroke="#111" stroke-width="1.3"/>
<text x="37.3" y="229.65" font-size="8.7" fill="#1a1a1a" text-anchor="end" stroke="#1a1a1a" stroke-width="0.18">50</text>
<line x1="41.5" y1="197.9" x2="44.6" y2="197.9" stroke="#111" stroke-width="1.3"/>
<text x="37.3" y="200.5" font-size="8.7" fill="#1a1a1a" text-anchor="end" stroke="#1a1a1a" stroke-width="0.18">100</text>
<line x1="50.2" y1="256.2" x2="50.2" y2="259.4" stroke="#111" stroke-width="1.25"/>
<text x="52" y="267.3" font-size="6.9" fill="#1a1a1a" transform="rotate(-45 52 267.3)" text-anchor="end" stroke="#1a1a1a" stroke-width="0.18">0 nM</text>
<line x1="59.4" y1="256.2" x2="59.4" y2="259.4" stroke="#111" stroke-width="1.25"/>
<text x="61.2" y="267.3" font-size="6.9" fill="#1a1a1a" transform="rotate(-45 61.2 267.3)" text-anchor="end" stroke="#1a1a1a" stroke-width="0.18">100 nM</text>
<line x1="68.6" y1="256.2" x2="68.6" y2="259.4" stroke="#111" stroke-width="1.25"/>
<text x="70.4" y="267.3" font-size="6.9" fill="#1a1a1a" transform="rotate(-45 70.4 267.3)" text-anchor="end" stroke="#1a1a1a" stroke-width="0.18">1 µM</text>
<line x1="77.8" y1="256.2" x2="77.8" y2="259.4" stroke="#111" stroke-width="1.25"/>
<text x="79.6" y="267.3" font-size="6.9" fill="#1a1a1a" transform="rotate(-45 79.6 267.3)" text-anchor="end" stroke="#1a1a1a" stroke-width="0.18">0 nM</text>
<line x1="87" y1="256.2" x2="87" y2="259.4" stroke="#111" stroke-width="1.25"/>
<text x="88.8" y="267.3" font-size="6.9" fill="#1a1a1a" transform="rotate(-45 88.8 267.3)" text-anchor="end" stroke="#1a1a1a" stroke-width="0.18">100 nM</text>
<line x1="96.2" y1="256.2" x2="96.2" y2="259.4" stroke="#111" stroke-width="1.25"/>
<text x="98" y="267.3" font-size="6.9" fill="#1a1a1a" transform="rotate(-45 98 267.3)" text-anchor="end" stroke="#1a1a1a" stroke-width="0.18">1 µM</text>
<text x="72.9" y="175.4" font-size="10" fill="#1a1a1a" textLength="52.3" lengthAdjust="spacingAndGlyphs" text-anchor="middle" stroke="#1a1a1a" stroke-width="0.18">Nintedanib</text>
<rect x="135.25" y="197.9" width="7.3" height="58.3" fill="#efefef" stroke="#cbcbcb" stroke-width="0.9"/>
<rect x="144.45" y="242.21" width="7.3" height="13.99" fill="#efefef" stroke="#cbcbcb" stroke-width="0.9"/>
<rect x="153.65" y="253.87" width="7.3" height="2.33" fill="#efefef" stroke="#cbcbcb" stroke-width="0.9"/>
<rect x="162.85" y="197.9" width="7.3" height="58.3" fill="#efefef" stroke="#cbcbcb" stroke-width="0.9"/>
<rect x="172.05" y="206.06" width="7.3" height="50.14" fill="#efefef" stroke="#cbcbcb" stroke-width="0.9"/>
<rect x="181.25" y="245.12" width="7.3" height="11.08" fill="#efefef" stroke="#cbcbcb" stroke-width="0.9"/>
<circle cx="137.2" cy="197.9" r="1.5" fill="#fff" stroke="#b0002b" stroke-width="1.05"/>
<circle cx="139.3" cy="196.15" r="1.5" fill="#fff" stroke="#b0002b" stroke-width="1.05"/>
<circle cx="138" cy="199.65" r="1.5" fill="#fff" stroke="#b0002b" stroke-width="1.05"/>
<circle cx="140.1" cy="197.32" r="1.5" fill="#fff" stroke="#b0002b" stroke-width="1.05"/>
<circle cx="138.8" cy="198.48" r="1.5" fill="#fff" stroke="#b0002b" stroke-width="1.05"/>
<circle cx="137.51" cy="196.73" r="1.5" fill="#fff" stroke="#b0002b" stroke-width="1.05"/>
<circle cx="139.61" cy="199.07" r="1.5" fill="#fff" stroke="#b0002b" stroke-width="1.05"/>
<circle cx="138.31" cy="195.57" r="1.5" fill="#fff" stroke="#b0002b" stroke-width="1.05"/>
<circle cx="140.41" cy="200.23" r="1.5" fill="#fff" stroke="#b0002b" stroke-width="1.05"/>
<circle cx="146.4" cy="234.05" r="1.5" fill="#fff" stroke="#b0002b" stroke-width="1.05"/>
<circle cx="148.5" cy="235.21" r="1.5" fill="#fff" stroke="#b0002b" stroke-width="1.05"/>
<circle cx="147.2" cy="235.79" r="1.5" fill="#fff" stroke="#b0002b" stroke-width="1.05"/>
<circle cx="149.3" cy="236.96" r="1.5" fill="#fff" stroke="#b0002b" stroke-width="1.05"/>
<circle cx="148" cy="239.88" r="1.5" fill="#fff" stroke="#b0002b" stroke-width="1.05"/>
<circle cx="146.71" cy="241.62" r="1.5" fill="#fff" stroke="#b0002b" stroke-width="1.05"/>
<circle cx="148.81" cy="243.37" r="1.5" fill="#fff" stroke="#b0002b" stroke-width="1.05"/>
<circle cx="147.51" cy="244.54" r="1.5" fill="#fff" stroke="#b0002b" stroke-width="1.05"/>
<circle cx="149.61" cy="247.45" r="1.5" fill="#fff" stroke="#b0002b" stroke-width="1.05"/>
<circle cx="148.31" cy="249.2" r="1.5" fill="#fff" stroke="#b0002b" stroke-width="1.05"/>
<circle cx="147.01" cy="250.37" r="1.5" fill="#fff" stroke="#b0002b" stroke-width="1.05"/>
<circle cx="155.6" cy="252.7" r="1.5" fill="#fff" stroke="#b0002b" stroke-width="1.05"/>
<circle cx="157.7" cy="253.87" r="1.5" fill="#fff" stroke="#b0002b" stroke-width="1.05"/>
<circle cx="156.4" cy="254.45" r="1.5" fill="#fff" stroke="#b0002b" stroke-width="1.05"/>
<circle cx="158.5" cy="253.28" r="1.5" fill="#fff" stroke="#b0002b" stroke-width="1.05"/>
<circle cx="157.2" cy="255.03" r="1.5" fill="#fff" stroke="#b0002b" stroke-width="1.05"/>
<circle cx="155.91" cy="253.87" r="1.5" fill="#fff" stroke="#b0002b" stroke-width="1.05"/>
<circle cx="158.01" cy="252.12" r="1.5" fill="#fff" stroke="#b0002b" stroke-width="1.05"/>
<circle cx="164.8" cy="195.57" r="1.5" fill="#fff" stroke="#2d57a0" stroke-width="1.05"/>
<circle cx="166.9" cy="196.73" r="1.5" fill="#fff" stroke="#2d57a0" stroke-width="1.05"/>
<circle cx="165.6" cy="197.9" r="1.5" fill="#fff" stroke="#2d57a0" stroke-width="1.05"/>
<circle cx="167.7" cy="198.48" r="1.5" fill="#fff" stroke="#2d57a0" stroke-width="1.05"/>
<circle cx="166.4" cy="199.65" r="1.5" fill="#fff" stroke="#2d57a0" stroke-width="1.05"/>
<circle cx="165.11" cy="197.32" r="1.5" fill="#fff" stroke="#2d57a0" stroke-width="1.05"/>
<circle cx="167.21" cy="199.07" r="1.5" fill="#fff" stroke="#2d57a0" stroke-width="1.05"/>
<circle cx="174" cy="194.99" r="1.5" fill="#fff" stroke="#2d57a0" stroke-width="1.05"/>
<circle cx="176.1" cy="202.56" r="1.5" fill="#fff" stroke="#2d57a0" stroke-width="1.05"/>
<circle cx="174.8" cy="203.73" r="1.5" fill="#fff" stroke="#2d57a0" stroke-width="1.05"/>
<circle cx="176.9" cy="210.73" r="1.5" fill="#fff" stroke="#2d57a0" stroke-width="1.05"/>
<circle cx="175.6" cy="212.47" r="1.5" fill="#fff" stroke="#2d57a0" stroke-width="1.05"/>
<circle cx="174.31" cy="216.56" r="1.5" fill="#fff" stroke="#2d57a0" stroke-width="1.05"/>
<circle cx="183.2" cy="243.37" r="1.5" fill="#fff" stroke="#2d57a0" stroke-width="1.05"/>
<circle cx="185.3" cy="244.54" r="1.5" fill="#fff" stroke="#2d57a0" stroke-width="1.05"/>
<circle cx="184" cy="245.71" r="1.5" fill="#fff" stroke="#2d57a0" stroke-width="1.05"/>
<circle cx="186.1" cy="246.29" r="1.5" fill="#fff" stroke="#2d57a0" stroke-width="1.05"/>
<circle cx="184.8" cy="247.45" r="1.5" fill="#fff" stroke="#2d57a0" stroke-width="1.05"/>
<polygon points="148.1,217.6 148.58,218.65 149.72,218.77 148.87,219.55 149.1,220.68 148.1,220.11 147.1,220.68 147.33,219.55 146.48,218.77 147.62,218.65" fill="#222"/>
<polygon points="148.1,222 148.58,223.05 149.72,223.17 148.87,223.95 149.1,225.08 148.1,224.51 147.1,225.08 147.33,223.95 146.48,223.17 147.62,223.05" fill="#222"/>
<polygon points="148.1,226.5 148.58,227.55 149.72,227.67 148.87,228.45 149.1,229.58 148.1,229.01 147.1,229.58 147.33,228.45 146.48,227.67 147.62,227.55" fill="#222"/>
<polygon points="157.3,234.6 157.78,235.65 158.92,235.77 158.07,236.55 158.3,237.68 157.3,237.11 156.3,237.68 156.53,236.55 155.68,235.77 156.82,235.65" fill="#222"/>
<polygon points="157.3,239.1 157.78,240.15 158.92,240.27 158.07,241.05 158.3,242.18 157.3,241.61 156.3,242.18 156.53,241.05 155.68,240.27 156.82,240.15" fill="#222"/>
<polygon points="157.3,243.8 157.78,244.85 158.92,244.97 158.07,245.75 158.3,246.88 157.3,246.31 156.3,246.88 156.53,245.75 155.68,244.97 156.82,244.85" fill="#222"/>
<line x1="133.3" y1="181.2" x2="133.3" y2="256.8" stroke="#111" stroke-width="1.25"/>
<line x1="132.7" y1="256.2" x2="190.3" y2="256.2" stroke="#111" stroke-width="1.25"/>
<line x1="130.2" y1="256.2" x2="133.3" y2="256.2" stroke="#111" stroke-width="1.3"/>
<text x="126" y="258.8" font-size="8.7" fill="#1a1a1a" text-anchor="end" stroke="#1a1a1a" stroke-width="0.18">0</text>
<line x1="130.2" y1="227.05" x2="133.3" y2="227.05" stroke="#111" stroke-width="1.3"/>
<text x="126" y="229.65" font-size="8.7" fill="#1a1a1a" text-anchor="end" stroke="#1a1a1a" stroke-width="0.18">50</text>
<line x1="130.2" y1="197.9" x2="133.3" y2="197.9" stroke="#111" stroke-width="1.3"/>
<text x="126" y="200.5" font-size="8.7" fill="#1a1a1a" text-anchor="end" stroke="#1a1a1a" stroke-width="0.18">100</text>
<line x1="138.9" y1="256.2" x2="138.9" y2="259.4" stroke="#111" stroke-width="1.25"/>
<text x="140.7" y="267.3" font-size="6.9" fill="#1a1a1a" transform="rotate(-45 140.7 267.3)" text-anchor="end" stroke="#1a1a1a" stroke-width="0.18">0 nM</text>
<line x1="148.1" y1="256.2" x2="148.1" y2="259.4" stroke="#111" stroke-width="1.25"/>
<text x="149.9" y="267.3" font-size="6.9" fill="#1a1a1a" transform="rotate(-45 149.9 267.3)" text-anchor="end" stroke="#1a1a1a" stroke-width="0.18">100 nM</text>
<line x1="157.3" y1="256.2" x2="157.3" y2="259.4" stroke="#111" stroke-width="1.25"/>
<text x="159.1" y="267.3" font-size="6.9" fill="#1a1a1a" transform="rotate(-45 159.1 267.3)" text-anchor="end" stroke="#1a1a1a" stroke-width="0.18">1 µM</text>
<line x1="166.5" y1="256.2" x2="166.5" y2="259.4" stroke="#111" stroke-width="1.25"/>
<text x="168.3" y="267.3" font-size="6.9" fill="#1a1a1a" transform="rotate(-45 168.3 267.3)" text-anchor="end" stroke="#1a1a1a" stroke-width="0.18">0 nM</text>
<line x1="175.7" y1="256.2" x2="175.7" y2="259.4" stroke="#111" stroke-width="1.25"/>
<text x="177.5" y="267.3" font-size="6.9" fill="#1a1a1a" transform="rotate(-45 177.5 267.3)" text-anchor="end" stroke="#1a1a1a" stroke-width="0.18">100 nM</text>
<line x1="184.9" y1="256.2" x2="184.9" y2="259.4" stroke="#111" stroke-width="1.25"/>
<text x="186.7" y="267.3" font-size="6.9" fill="#1a1a1a" transform="rotate(-45 186.7 267.3)" text-anchor="end" stroke="#1a1a1a" stroke-width="0.18">1 µM</text>
<text x="161.6" y="175.4" font-size="10" fill="#1a1a1a" textLength="56.3" lengthAdjust="spacingAndGlyphs" text-anchor="middle" stroke="#1a1a1a" stroke-width="0.18">Midostaurin</text>
<rect x="224.65" y="197.9" width="7.3" height="58.3" fill="#efefef" stroke="#cbcbcb" stroke-width="0.9"/>
<rect x="233.85" y="200.23" width="7.3" height="55.97" fill="#efefef" stroke="#cbcbcb" stroke-width="0.9"/>
<rect x="243.05" y="203.15" width="7.3" height="53.05" fill="#efefef" stroke="#cbcbcb" stroke-width="0.9"/>
<rect x="252.25" y="197.9" width="7.3" height="58.3" fill="#efefef" stroke="#cbcbcb" stroke-width="0.9"/>
<rect x="261.45" y="200.23" width="7.3" height="55.97" fill="#efefef" stroke="#cbcbcb" stroke-width="0.9"/>
<rect x="270.65" y="206.65" width="7.3" height="49.55" fill="#efefef" stroke="#cbcbcb" stroke-width="0.9"/>
<circle cx="226.6" cy="195.57" r="1.5" fill="#fff" stroke="#b0002b" stroke-width="1.05"/>
<circle cx="228.7" cy="196.73" r="1.5" fill="#fff" stroke="#b0002b" stroke-width="1.05"/>
<circle cx="227.4" cy="197.9" r="1.5" fill="#fff" stroke="#b0002b" stroke-width="1.05"/>
<circle cx="229.5" cy="199.07" r="1.5" fill="#fff" stroke="#b0002b" stroke-width="1.05"/>
<circle cx="228.2" cy="200.23" r="1.5" fill="#fff" stroke="#b0002b" stroke-width="1.05"/>
<circle cx="226.91" cy="197.32" r="1.5" fill="#fff" stroke="#b0002b" stroke-width="1.05"/>
<circle cx="229.01" cy="196.15" r="1.5" fill="#fff" stroke="#b0002b" stroke-width="1.05"/>
<circle cx="235.8" cy="190.32" r="1.5" fill="#fff" stroke="#b0002b" stroke-width="1.05"/>
<circle cx="237.9" cy="190.9" r="1.5" fill="#fff" stroke="#b0002b" stroke-width="1.05"/>
<circle cx="236.6" cy="194.99" r="1.5" fill="#fff" stroke="#b0002b" stroke-width="1.05"/>
<circle cx="238.7" cy="197.9" r="1.5" fill="#fff" stroke="#b0002b" stroke-width="1.05"/>
<circle cx="237.4" cy="200.81" r="1.5" fill="#fff" stroke="#b0002b" stroke-width="1.05"/>
<circle cx="236.11" cy="202.56" r="1.5" fill="#fff" stroke="#b0002b" stroke-width="1.05"/>
<circle cx="238.21" cy="204.9" r="1.5" fill="#fff" stroke="#b0002b" stroke-width="1.05"/>
<circle cx="236.91" cy="206.65" r="1.5" fill="#fff" stroke="#b0002b" stroke-width="1.05"/>
<circle cx="239.01" cy="208.39" r="1.5" fill="#fff" stroke="#b0002b" stroke-width="1.05"/>
<circle cx="245" cy="192.65" r="1.5" fill="#fff" stroke="#b0002b" stroke-width="1.05"/>
<circle cx="247.1" cy="195.57" r="1.5" fill="#fff" stroke="#b0002b" stroke-width="1.05"/>
<circle cx="245.8" cy="197.9" r="1.5" fill="#fff" stroke="#b0002b" stroke-width="1.05"/>
<circle cx="247.9" cy="200.23" r="1.5" fill="#fff" stroke="#b0002b" stroke-width="1.05"/>
<circle cx="246.6" cy="202.56" r="1.5" fill="#fff" stroke="#b0002b" stroke-width="1.05"/>
<circle cx="245.31" cy="204.9" r="1.5" fill="#fff" stroke="#b0002b" stroke-width="1.05"/>
<circle cx="247.41" cy="206.65" r="1.5" fill="#fff" stroke="#b0002b" stroke-width="1.05"/>
<circle cx="246.11" cy="210.73" r="1.5" fill="#fff" stroke="#b0002b" stroke-width="1.05"/>
<circle cx="248.21" cy="212.47" r="1.5" fill="#fff" stroke="#b0002b" stroke-width="1.05"/>
<circle cx="246.91" cy="214.22" r="1.5" fill="#fff" stroke="#b0002b" stroke-width="1.05"/>
<circle cx="254.2" cy="191.49" r="1.5" fill="#fff" stroke="#2d57a0" stroke-width="1.05"/>
<circle cx="256.3" cy="193.24" r="1.5" fill="#fff" stroke="#2d57a0" stroke-width="1.05"/>
<circle cx="255" cy="195.57" r="1.5" fill="#fff" stroke="#2d57a0" stroke-width="1.05"/>
<circle cx="257.1" cy="197.9" r="1.5" fill="#fff" stroke="#2d57a0" stroke-width="1.05"/>
<circle cx="255.8" cy="199.07" r="1.5" fill="#fff" stroke="#2d57a0" stroke-width="1.05"/>
<circle cx="254.51" cy="200.81" r="1.5" fill="#fff" stroke="#2d57a0" stroke-width="1.05"/>
<circle cx="256.61" cy="202.56" r="1.5" fill="#fff" stroke="#2d57a0" stroke-width="1.05"/>
<circle cx="255.31" cy="204.9" r="1.5" fill="#fff" stroke="#2d57a0" stroke-width="1.05"/>
<circle cx="263.4" cy="190.32" r="1.5" fill="#fff" stroke="#2d57a0" stroke-width="1.05"/>
<circle cx="265.5" cy="193.24" r="1.5" fill="#fff" stroke="#2d57a0" stroke-width="1.05"/>
<circle cx="264.2" cy="197.9" r="1.5" fill="#fff" stroke="#2d57a0" stroke-width="1.05"/>
<circle cx="266.3" cy="199.65" r="1.5" fill="#fff" stroke="#2d57a0" stroke-width="1.05"/>
<circle cx="265" cy="200.81" r="1.5" fill="#fff" stroke="#2d57a0" stroke-width="1.05"/>
<circle cx="263.71" cy="203.73" r="1.5" fill="#fff" stroke="#2d57a0" stroke-width="1.05"/>
<circle cx="265.81" cy="206.65" r="1.5" fill="#fff" stroke="#2d57a0" stroke-width="1.05"/>
<circle cx="264.51" cy="208.39" r="1.5" fill="#fff" stroke="#2d57a0" stroke-width="1.05"/>
<circle cx="266.61" cy="209.56" r="1.5" fill="#fff" stroke="#2d57a0" stroke-width="1.05"/>
<circle cx="272.6" cy="197.32" r="1.5" fill="#fff" stroke="#2d57a0" stroke-width="1.05"/>
<circle cx="274.7" cy="199.07" r="1.5" fill="#fff" stroke="#2d57a0" stroke-width="1.05"/>
<circle cx="273.4" cy="200.81" r="1.5" fill="#fff" stroke="#2d57a0" stroke-width="1.05"/>
<circle cx="275.5" cy="204.9" r="1.5" fill="#fff" stroke="#2d57a0" stroke-width="1.05"/>
<circle cx="274.2" cy="206.65" r="1.5" fill="#fff" stroke="#2d57a0" stroke-width="1.05"/>
<circle cx="272.91" cy="210.73" r="1.5" fill="#fff" stroke="#2d57a0" stroke-width="1.05"/>
<circle cx="275.01" cy="212.47" r="1.5" fill="#fff" stroke="#2d57a0" stroke-width="1.05"/>
<circle cx="273.71" cy="215.39" r="1.5" fill="#fff" stroke="#2d57a0" stroke-width="1.05"/>
<circle cx="275.81" cy="217.14" r="1.5" fill="#fff" stroke="#2d57a0" stroke-width="1.05"/>
<line x1="222.7" y1="181.2" x2="222.7" y2="256.8" stroke="#111" stroke-width="1.25"/>
<line x1="222.1" y1="256.2" x2="279.7" y2="256.2" stroke="#111" stroke-width="1.25"/>
<line x1="219.6" y1="256.2" x2="222.7" y2="256.2" stroke="#111" stroke-width="1.3"/>
<text x="215.4" y="258.8" font-size="8.7" fill="#1a1a1a" text-anchor="end" stroke="#1a1a1a" stroke-width="0.18">0</text>
<line x1="219.6" y1="227.05" x2="222.7" y2="227.05" stroke="#111" stroke-width="1.3"/>
<text x="215.4" y="229.65" font-size="8.7" fill="#1a1a1a" text-anchor="end" stroke="#1a1a1a" stroke-width="0.18">50</text>
<line x1="219.6" y1="197.9" x2="222.7" y2="197.9" stroke="#111" stroke-width="1.3"/>
<text x="215.4" y="200.5" font-size="8.7" fill="#1a1a1a" text-anchor="end" stroke="#1a1a1a" stroke-width="0.18">100</text>
<line x1="228.3" y1="256.2" x2="228.3" y2="259.4" stroke="#111" stroke-width="1.25"/>
<text x="230.1" y="267.3" font-size="6.9" fill="#1a1a1a" transform="rotate(-45 230.1 267.3)" text-anchor="end" stroke="#1a1a1a" stroke-width="0.18">0 nM</text>
<line x1="237.5" y1="256.2" x2="237.5" y2="259.4" stroke="#111" stroke-width="1.25"/>
<text x="239.3" y="267.3" font-size="6.9" fill="#1a1a1a" transform="rotate(-45 239.3 267.3)" text-anchor="end" stroke="#1a1a1a" stroke-width="0.18">100 nM</text>
<line x1="246.7" y1="256.2" x2="246.7" y2="259.4" stroke="#111" stroke-width="1.25"/>
<text x="248.5" y="267.3" font-size="6.9" fill="#1a1a1a" transform="rotate(-45 248.5 267.3)" text-anchor="end" stroke="#1a1a1a" stroke-width="0.18">1 µM</text>
<line x1="255.9" y1="256.2" x2="255.9" y2="259.4" stroke="#111" stroke-width="1.25"/>
<text x="257.7" y="267.3" font-size="6.9" fill="#1a1a1a" transform="rotate(-45 257.7 267.3)" text-anchor="end" stroke="#1a1a1a" stroke-width="0.18">0 nM</text>
<line x1="265.1" y1="256.2" x2="265.1" y2="259.4" stroke="#111" stroke-width="1.25"/>
<text x="266.9" y="267.3" font-size="6.9" fill="#1a1a1a" transform="rotate(-45 266.9 267.3)" text-anchor="end" stroke="#1a1a1a" stroke-width="0.18">100 nM</text>
<line x1="274.3" y1="256.2" x2="274.3" y2="259.4" stroke="#111" stroke-width="1.25"/>
<text x="276.1" y="267.3" font-size="6.9" fill="#1a1a1a" transform="rotate(-45 276.1 267.3)" text-anchor="end" stroke="#1a1a1a" stroke-width="0.18">1 µM</text>
<text x="251" y="175.4" font-size="10" fill="#1a1a1a" textLength="38.2" lengthAdjust="spacingAndGlyphs" text-anchor="middle" stroke="#1a1a1a" stroke-width="0.18">Imatinib</text>
<rect x="313.65" y="197.9" width="7.3" height="58.3" fill="#efefef" stroke="#cbcbcb" stroke-width="0.9"/>
<rect x="322.85" y="222.97" width="7.3" height="33.23" fill="#efefef" stroke="#cbcbcb" stroke-width="0.9"/>
<rect x="332.05" y="236.38" width="7.3" height="19.82" fill="#efefef" stroke="#cbcbcb" stroke-width="0.9"/>
<rect x="341.25" y="197.9" width="7.3" height="58.3" fill="#efefef" stroke="#cbcbcb" stroke-width="0.9"/>
<rect x="350.45" y="249.2" width="7.3" height="7" fill="#efefef" stroke="#cbcbcb" stroke-width="0.9"/>
<rect x="359.65" y="250.95" width="7.3" height="5.25" fill="#efefef" stroke="#cbcbcb" stroke-width="0.9"/>
<circle cx="315.6" cy="195.57" r="1.5" fill="#fff" stroke="#b0002b" stroke-width="1.05"/>
<circle cx="317.7" cy="196.73" r="1.5" fill="#fff" stroke="#b0002b" stroke-width="1.05"/>
<circle cx="316.4" cy="197.9" r="1.5" fill="#fff" stroke="#b0002b" stroke-width="1.05"/>
<circle cx="318.5" cy="199.07" r="1.5" fill="#fff" stroke="#b0002b" stroke-width="1.05"/>
<circle cx="317.2" cy="200.23" r="1.5" fill="#fff" stroke="#b0002b" stroke-width="1.05"/>
<circle cx="315.91" cy="197.32" r="1.5" fill="#fff" stroke="#b0002b" stroke-width="1.05"/>
<circle cx="318.01" cy="196.15" r="1.5" fill="#fff" stroke="#b0002b" stroke-width="1.05"/>
<circle cx="316.71" cy="198.48" r="1.5" fill="#fff" stroke="#b0002b" stroke-width="1.05"/>
<circle cx="318.81" cy="199.65" r="1.5" fill="#fff" stroke="#b0002b" stroke-width="1.05"/>
<circle cx="324.8" cy="208.39" r="1.5" fill="#fff" stroke="#b0002b" stroke-width="1.05"/>
<circle cx="326.9" cy="212.47" r="1.5" fill="#fff" stroke="#b0002b" stroke-width="1.05"/>
<circle cx="325.6" cy="215.39" r="1.5" fill="#fff" stroke="#b0002b" stroke-width="1.05"/>
<circle cx="327.7" cy="218.31" r="1.5" fill="#fff" stroke="#b0002b" stroke-width="1.05"/>
<circle cx="326.4" cy="221.22" r="1.5" fill="#fff" stroke="#b0002b" stroke-width="1.05"/>
<circle cx="325.11" cy="224.13" r="1.5" fill="#fff" stroke="#b0002b" stroke-width="1.05"/>
<circle cx="327.21" cy="227.05" r="1.5" fill="#fff" stroke="#b0002b" stroke-width="1.05"/>
<circle cx="325.91" cy="232.88" r="1.5" fill="#fff" stroke="#b0002b" stroke-width="1.05"/>
<circle cx="328.01" cy="233.46" r="1.5" fill="#fff" stroke="#b0002b" stroke-width="1.05"/>
<circle cx="326.71" cy="234.05" r="1.5" fill="#fff" stroke="#b0002b" stroke-width="1.05"/>
<circle cx="325.41" cy="234.63" r="1.5" fill="#fff" stroke="#b0002b" stroke-width="1.05"/>
<circle cx="334" cy="231.13" r="1.5" fill="#fff" stroke="#b0002b" stroke-width="1.05"/>
<circle cx="336.1" cy="232.88" r="1.5" fill="#fff" stroke="#b0002b" stroke-width="1.05"/>
<circle cx="334.8" cy="234.05" r="1.5" fill="#fff" stroke="#b0002b" stroke-width="1.05"/>
<circle cx="336.9" cy="235.79" r="1.5" fill="#fff" stroke="#b0002b" stroke-width="1.05"/>
<circle cx="335.6" cy="238.71" r="1.5" fill="#fff" stroke="#b0002b" stroke-width="1.05"/>
<circle cx="334.31" cy="239.88" r="1.5" fill="#fff" stroke="#b0002b" stroke-width="1.05"/>
<circle cx="336.41" cy="241.62" r="1.5" fill="#fff" stroke="#b0002b" stroke-width="1.05"/>
<circle cx="335.11" cy="243.37" r="1.5" fill="#fff" stroke="#b0002b" stroke-width="1.05"/>
<circle cx="337.21" cy="244.54" r="1.5" fill="#fff" stroke="#b0002b" stroke-width="1.05"/>
<circle cx="335.91" cy="245.71" r="1.5" fill="#fff" stroke="#b0002b" stroke-width="1.05"/>
<circle cx="343.2" cy="194.4" r="1.5" fill="#fff" stroke="#2d57a0" stroke-width="1.05"/>
<circle cx="345.3" cy="195.57" r="1.5" fill="#fff" stroke="#2d57a0" stroke-width="1.05"/>
<circle cx="344" cy="197.9" r="1.5" fill="#fff" stroke="#2d57a0" stroke-width="1.05"/>
<circle cx="346.1" cy="200.23" r="1.5" fill="#fff" stroke="#2d57a0" stroke-width="1.05"/>
<circle cx="344.8" cy="203.73" r="1.5" fill="#fff" stroke="#2d57a0" stroke-width="1.05"/>
<circle cx="352.4" cy="246.87" r="1.5" fill="#fff" stroke="#2d57a0" stroke-width="1.05"/>
<circle cx="354.5" cy="248.04" r="1.5" fill="#fff" stroke="#2d57a0" stroke-width="1.05"/>
<circle cx="353.2" cy="249.2" r="1.5" fill="#fff" stroke="#2d57a0" stroke-width="1.05"/>
<circle cx="355.3" cy="249.79" r="1.5" fill="#fff" stroke="#2d57a0" stroke-width="1.05"/>
<circle cx="354" cy="250.37" r="1.5" fill="#fff" stroke="#2d57a0" stroke-width="1.05"/>
<circle cx="361.6" cy="248.62" r="1.5" fill="#fff" stroke="#2d57a0" stroke-width="1.05"/>
<circle cx="363.7" cy="250.37" r="1.5" fill="#fff" stroke="#2d57a0" stroke-width="1.05"/>
<circle cx="362.4" cy="251.54" r="1.5" fill="#fff" stroke="#2d57a0" stroke-width="1.05"/>
<circle cx="364.5" cy="252.7" r="1.5" fill="#fff" stroke="#2d57a0" stroke-width="1.05"/>
<circle cx="363.2" cy="253.28" r="1.5" fill="#fff" stroke="#2d57a0" stroke-width="1.05"/>
<polygon points="326.5,191.1 326.98,192.15 328.12,192.27 327.27,193.05 327.5,194.18 326.5,193.61 325.5,194.18 325.73,193.05 324.88,192.27 326.02,192.15" fill="#222"/>
<polygon points="326.5,195.8 326.98,196.85 328.12,196.97 327.27,197.75 327.5,198.88 326.5,198.31 325.5,198.88 325.73,197.75 324.88,196.97 326.02,196.85" fill="#222"/>
<polygon points="326.5,200.5 326.98,201.55 328.12,201.67 327.27,202.45 327.5,203.58 326.5,203.01 325.5,203.58 325.73,202.45 324.88,201.67 326.02,201.55" fill="#222"/>
<polygon points="335.7,214.6 336.18,215.65 337.32,215.77 336.47,216.55 336.7,217.68 335.7,217.11 334.7,217.68 334.93,216.55 334.08,215.77 335.22,215.65" fill="#222"/>
<polygon points="335.7,219.3 336.18,220.35 337.32,220.47 336.47,221.25 336.7,222.38 335.7,221.81 334.7,222.38 334.93,221.25 334.08,220.47 335.22,220.35" fill="#222"/>
<polygon points="335.7,224.1 336.18,225.15 337.32,225.27 336.47,226.05 336.7,227.18 335.7,226.61 334.7,227.18 334.93,226.05 334.08,225.27 335.22,225.15" fill="#222"/>
<line x1="311.7" y1="181.2" x2="311.7" y2="256.8" stroke="#111" stroke-width="1.25"/>
<line x1="311.1" y1="256.2" x2="368.7" y2="256.2" stroke="#111" stroke-width="1.25"/>
<line x1="308.6" y1="256.2" x2="311.7" y2="256.2" stroke="#111" stroke-width="1.3"/>
<text x="304.4" y="258.8" font-size="8.7" fill="#1a1a1a" text-anchor="end" stroke="#1a1a1a" stroke-width="0.18">0</text>
<line x1="308.6" y1="227.05" x2="311.7" y2="227.05" stroke="#111" stroke-width="1.3"/>
<text x="304.4" y="229.65" font-size="8.7" fill="#1a1a1a" text-anchor="end" stroke="#1a1a1a" stroke-width="0.18">50</text>
<line x1="308.6" y1="197.9" x2="311.7" y2="197.9" stroke="#111" stroke-width="1.3"/>
<text x="304.4" y="200.5" font-size="8.7" fill="#1a1a1a" text-anchor="end" stroke="#1a1a1a" stroke-width="0.18">100</text>
<line x1="317.3" y1="256.2" x2="317.3" y2="259.4" stroke="#111" stroke-width="1.25"/>
<text x="319.1" y="267.3" font-size="6.9" fill="#1a1a1a" transform="rotate(-45 319.1 267.3)" text-anchor="end" stroke="#1a1a1a" stroke-width="0.18">0 nM</text>
<line x1="326.5" y1="256.2" x2="326.5" y2="259.4" stroke="#111" stroke-width="1.25"/>
<text x="328.3" y="267.3" font-size="6.9" fill="#1a1a1a" transform="rotate(-45 328.3 267.3)" text-anchor="end" stroke="#1a1a1a" stroke-width="0.18">100 nM</text>
<line x1="335.7" y1="256.2" x2="335.7" y2="259.4" stroke="#111" stroke-width="1.25"/>
<text x="337.5" y="267.3" font-size="6.9" fill="#1a1a1a" transform="rotate(-45 337.5 267.3)" text-anchor="end" stroke="#1a1a1a" stroke-width="0.18">1 µM</text>
<line x1="344.9" y1="256.2" x2="344.9" y2="259.4" stroke="#111" stroke-width="1.25"/>
<text x="346.7" y="267.3" font-size="6.9" fill="#1a1a1a" transform="rotate(-45 346.7 267.3)" text-anchor="end" stroke="#1a1a1a" stroke-width="0.18">0 nM</text>
<line x1="354.1" y1="256.2" x2="354.1" y2="259.4" stroke="#111" stroke-width="1.25"/>
<text x="355.9" y="267.3" font-size="6.9" fill="#1a1a1a" transform="rotate(-45 355.9 267.3)" text-anchor="end" stroke="#1a1a1a" stroke-width="0.18">100 nM</text>
<line x1="363.3" y1="256.2" x2="363.3" y2="259.4" stroke="#111" stroke-width="1.25"/>
<text x="365.1" y="267.3" font-size="6.9" fill="#1a1a1a" transform="rotate(-45 365.1 267.3)" text-anchor="end" stroke="#1a1a1a" stroke-width="0.18">1 µM</text>
<text x="340" y="175.4" font-size="10" fill="#1a1a1a" textLength="48.1" lengthAdjust="spacingAndGlyphs" text-anchor="middle" stroke="#1a1a1a" stroke-width="0.18">Rigosertib</text>
<text x="17" y="218.7" font-size="10" fill="#1a1a1a" textLength="60" lengthAdjust="spacingAndGlyphs" transform="rotate(-90 17 218.7)" text-anchor="middle" stroke="#1a1a1a" stroke-width="0.18">Cell viability (%)</text>
<text x="47.6" y="160.6" font-size="10" fill="#1a1a1a" textLength="41.5" lengthAdjust="spacingAndGlyphs" stroke="#1a1a1a" stroke-width="0.18">Patient 1</text>
<rect x="46.8" y="343.5" width="7" height="57.3" fill="#efefef" stroke="#cbcbcb" stroke-width="0.9"/>
<rect x="55.7" y="387.62" width="7" height="13.18" fill="#efefef" stroke="#cbcbcb" stroke-width="0.9"/>
<rect x="64.6" y="394.5" width="7" height="6.3" fill="#efefef" stroke="#cbcbcb" stroke-width="0.9"/>
<rect x="73.5" y="343.5" width="7" height="57.3" fill="#efefef" stroke="#cbcbcb" stroke-width="0.9"/>
<rect x="82.4" y="379.6" width="7" height="21.2" fill="#efefef" stroke="#cbcbcb" stroke-width="0.9"/>
<rect x="91.3" y="397.94" width="7" height="2.87" fill="#efefef" stroke="#cbcbcb" stroke-width="0.9"/>
<line x1="50.3" y1="338.92" x2="50.3" y2="348.08" stroke="#b4b4b4" stroke-width="0.8"/>
<line x1="48.8" y1="338.92" x2="51.8" y2="338.92" stroke="#b4b4b4" stroke-width="0.8"/>
<line x1="48.8" y1="348.08" x2="51.8" y2="348.08" stroke="#b4b4b4" stroke-width="0.8"/>
<line x1="59.2" y1="379.6" x2="59.2" y2="391.06" stroke="#b4b4b4" stroke-width="0.8"/>
<line x1="57.7" y1="379.6" x2="60.7" y2="379.6" stroke="#b4b4b4" stroke-width="0.8"/>
<line x1="57.7" y1="391.06" x2="60.7" y2="391.06" stroke="#b4b4b4" stroke-width="0.8"/>
<line x1="68.1" y1="391.06" x2="68.1" y2="397.94" stroke="#b4b4b4" stroke-width="0.8"/>
<line x1="66.6" y1="391.06" x2="69.6" y2="391.06" stroke="#b4b4b4" stroke-width="0.8"/>
<line x1="66.6" y1="397.94" x2="69.6" y2="397.94" stroke="#b4b4b4" stroke-width="0.8"/>
<line x1="77" y1="334.33" x2="77" y2="352.67" stroke="#b4b4b4" stroke-width="0.8"/>
<line x1="75.5" y1="334.33" x2="78.5" y2="334.33" stroke="#b4b4b4" stroke-width="0.8"/>
<line x1="75.5" y1="352.67" x2="78.5" y2="352.67" stroke="#b4b4b4" stroke-width="0.8"/>
<line x1="85.9" y1="378.45" x2="85.9" y2="380.75" stroke="#b4b4b4" stroke-width="0.8"/>
<line x1="84.4" y1="378.45" x2="87.4" y2="378.45" stroke="#b4b4b4" stroke-width="0.8"/>
<line x1="84.4" y1="380.75" x2="87.4" y2="380.75" stroke="#b4b4b4" stroke-width="0.8"/>
<line x1="94.8" y1="397.36" x2="94.8" y2="398.51" stroke="#b4b4b4" stroke-width="0.8"/>
<line x1="93.3" y1="397.36" x2="96.3" y2="397.36" stroke="#b4b4b4" stroke-width="0.8"/>
<line x1="93.3" y1="398.51" x2="96.3" y2="398.51" stroke="#b4b4b4" stroke-width="0.8"/>
<circle cx="48.6" cy="332.61" r="1.5" fill="#fff" stroke="#b0002b" stroke-width="1.05"/>
<circle cx="50.7" cy="342.35" r="1.5" fill="#fff" stroke="#b0002b" stroke-width="1.05"/>
<circle cx="49.4" cy="343.5" r="1.5" fill="#fff" stroke="#b0002b" stroke-width="1.05"/>
<circle cx="51.5" cy="344.65" r="1.5" fill="#fff" stroke="#b0002b" stroke-width="1.05"/>
<circle cx="50.2" cy="345.79" r="1.5" fill="#fff" stroke="#b0002b" stroke-width="1.05"/>
<circle cx="48.91" cy="347.51" r="1.5" fill="#fff" stroke="#b0002b" stroke-width="1.05"/>
<circle cx="51.01" cy="350.38" r="1.5" fill="#fff" stroke="#b0002b" stroke-width="1.05"/>
<circle cx="57.5" cy="372.72" r="1.5" fill="#fff" stroke="#b0002b" stroke-width="1.05"/>
<circle cx="59.6" cy="383.61" r="1.5" fill="#fff" stroke="#b0002b" stroke-width="1.05"/>
<circle cx="58.3" cy="384.76" r="1.5" fill="#fff" stroke="#b0002b" stroke-width="1.05"/>
<circle cx="60.4" cy="386.48" r="1.5" fill="#fff" stroke="#b0002b" stroke-width="1.05"/>
<circle cx="59.1" cy="388.19" r="1.5" fill="#fff" stroke="#b0002b" stroke-width="1.05"/>
<circle cx="57.81" cy="389.34" r="1.5" fill="#fff" stroke="#b0002b" stroke-width="1.05"/>
<circle cx="59.91" cy="392.2" r="1.5" fill="#fff" stroke="#b0002b" stroke-width="1.05"/>
<circle cx="66.4" cy="391.06" r="1.5" fill="#fff" stroke="#b0002b" stroke-width="1.05"/>
<circle cx="68.5" cy="392.78" r="1.5" fill="#fff" stroke="#b0002b" stroke-width="1.05"/>
<circle cx="67.2" cy="395.07" r="1.5" fill="#fff" stroke="#b0002b" stroke-width="1.05"/>
<circle cx="69.3" cy="396.22" r="1.5" fill="#fff" stroke="#b0002b" stroke-width="1.05"/>
<circle cx="68" cy="397.94" r="1.5" fill="#fff" stroke="#b0002b" stroke-width="1.05"/>
<circle cx="75.3" cy="333.76" r="1.5" fill="#fff" stroke="#2d57a0" stroke-width="1.05"/>
<circle cx="77.4" cy="338.92" r="1.5" fill="#fff" stroke="#2d57a0" stroke-width="1.05"/>
<circle cx="76.1" cy="341.78" r="1.5" fill="#fff" stroke="#2d57a0" stroke-width="1.05"/>
<circle cx="78.2" cy="346.37" r="1.5" fill="#fff" stroke="#2d57a0" stroke-width="1.05"/>
<circle cx="76.9" cy="358.97" r="1.5" fill="#fff" stroke="#2d57a0" stroke-width="1.05"/>
<circle cx="84.2" cy="378.45" r="1.5" fill="#fff" stroke="#2d57a0" stroke-width="1.05"/>
<circle cx="86.3" cy="379.6" r="1.5" fill="#fff" stroke="#2d57a0" stroke-width="1.05"/>
<circle cx="85" cy="380.17" r="1.5" fill="#fff" stroke="#2d57a0" stroke-width="1.05"/>
<circle cx="93.1" cy="397.94" r="1.5" fill="#fff" stroke="#2d57a0" stroke-width="1.05"/>
<circle cx="95.2" cy="397.36" r="1.5" fill="#fff" stroke="#2d57a0" stroke-width="1.05"/>
<circle cx="93.9" cy="398.51" r="1.5" fill="#fff" stroke="#2d57a0" stroke-width="1.05"/>
<polygon points="59.2,364.8 59.68,365.85 60.82,365.97 59.97,366.75 60.2,367.88 59.2,367.31 58.2,367.88 58.43,366.75 57.58,365.97 58.72,365.85" fill="#222"/>
<polygon points="68.1,382.3 68.58,383.35 69.72,383.47 68.87,384.25 69.1,385.38 68.1,384.81 67.1,385.38 67.33,384.25 66.48,383.47 67.62,383.35" fill="#222"/>
<line x1="44.7" y1="325.8" x2="44.7" y2="401.4" stroke="#111" stroke-width="1.25"/>
<line x1="44.1" y1="400.8" x2="100.8" y2="400.8" stroke="#111" stroke-width="1.25"/>
<line x1="41.6" y1="400.8" x2="44.7" y2="400.8" stroke="#111" stroke-width="1.3"/>
<text x="37.4" y="403.4" font-size="8.7" fill="#1a1a1a" text-anchor="end" stroke="#1a1a1a" stroke-width="0.18">0</text>
<line x1="41.6" y1="372.15" x2="44.7" y2="372.15" stroke="#111" stroke-width="1.3"/>
<text x="37.4" y="374.75" font-size="8.7" fill="#1a1a1a" text-anchor="end" stroke="#1a1a1a" stroke-width="0.18">50</text>
<line x1="41.6" y1="343.5" x2="44.7" y2="343.5" stroke="#111" stroke-width="1.3"/>
<text x="37.4" y="346.1" font-size="8.7" fill="#1a1a1a" text-anchor="end" stroke="#1a1a1a" stroke-width="0.18">100</text>
<line x1="50.3" y1="400.8" x2="50.3" y2="404" stroke="#111" stroke-width="1.25"/>
<text x="54.3" y="413.8" font-size="6.9" fill="#1a1a1a" transform="rotate(-45 54.3 413.8)" text-anchor="end" stroke="#1a1a1a" stroke-width="0.18">0 nM</text>
<line x1="59.2" y1="400.8" x2="59.2" y2="404" stroke="#111" stroke-width="1.25"/>
<text x="63.2" y="413.8" font-size="6.9" fill="#1a1a1a" transform="rotate(-45 63.2 413.8)" text-anchor="end" stroke="#1a1a1a" stroke-width="0.18">100 nM</text>
<line x1="68.1" y1="400.8" x2="68.1" y2="404" stroke="#111" stroke-width="1.25"/>
<text x="72.1" y="413.8" font-size="6.9" fill="#1a1a1a" transform="rotate(-45 72.1 413.8)" text-anchor="end" stroke="#1a1a1a" stroke-width="0.18">1 µM</text>
<line x1="77" y1="400.8" x2="77" y2="404" stroke="#111" stroke-width="1.25"/>
<text x="81" y="413.8" font-size="6.9" fill="#1a1a1a" transform="rotate(-45 81 413.8)" text-anchor="end" stroke="#1a1a1a" stroke-width="0.18">0 nM</text>
<line x1="85.9" y1="400.8" x2="85.9" y2="404" stroke="#111" stroke-width="1.25"/>
<text x="89.9" y="413.8" font-size="6.9" fill="#1a1a1a" transform="rotate(-45 89.9 413.8)" text-anchor="end" stroke="#1a1a1a" stroke-width="0.18">100 nM</text>
<line x1="94.8" y1="400.8" x2="94.8" y2="404" stroke="#111" stroke-width="1.25"/>
<text x="98.8" y="413.8" font-size="6.9" fill="#1a1a1a" transform="rotate(-45 98.8 413.8)" text-anchor="end" stroke="#1a1a1a" stroke-width="0.18">1 µM</text>
<text x="73" y="320" font-size="10" fill="#1a1a1a" textLength="52.3" lengthAdjust="spacingAndGlyphs" text-anchor="middle" stroke="#1a1a1a" stroke-width="0.18">Nintedanib</text>
<rect x="134.5" y="343.5" width="7" height="57.3" fill="#efefef" stroke="#cbcbcb" stroke-width="0.9"/>
<rect x="143.4" y="369.29" width="7" height="31.52" fill="#efefef" stroke="#cbcbcb" stroke-width="0.9"/>
<rect x="152.3" y="392.2" width="7" height="8.6" fill="#efefef" stroke="#cbcbcb" stroke-width="0.9"/>
<rect x="161.2" y="343.5" width="7" height="57.3" fill="#efefef" stroke="#cbcbcb" stroke-width="0.9"/>
<rect x="170.1" y="361.84" width="7" height="38.96" fill="#efefef" stroke="#cbcbcb" stroke-width="0.9"/>
<rect x="179" y="395.07" width="7" height="5.73" fill="#efefef" stroke="#cbcbcb" stroke-width="0.9"/>
<line x1="138" y1="337.2" x2="138" y2="349.8" stroke="#b4b4b4" stroke-width="0.8"/>
<line x1="136.5" y1="337.2" x2="139.5" y2="337.2" stroke="#b4b4b4" stroke-width="0.8"/>
<line x1="136.5" y1="349.8" x2="139.5" y2="349.8" stroke="#b4b4b4" stroke-width="0.8"/>
<line x1="146.9" y1="364.7" x2="146.9" y2="375.01" stroke="#b4b4b4" stroke-width="0.8"/>
<line x1="145.4" y1="364.7" x2="148.4" y2="364.7" stroke="#b4b4b4" stroke-width="0.8"/>
<line x1="145.4" y1="375.01" x2="148.4" y2="375.01" stroke="#b4b4b4" stroke-width="0.8"/>
<line x1="155.8" y1="389.34" x2="155.8" y2="395.64" stroke="#b4b4b4" stroke-width="0.8"/>
<line x1="154.3" y1="389.34" x2="157.3" y2="389.34" stroke="#b4b4b4" stroke-width="0.8"/>
<line x1="154.3" y1="395.64" x2="157.3" y2="395.64" stroke="#b4b4b4" stroke-width="0.8"/>
<line x1="164.7" y1="333.19" x2="164.7" y2="353.81" stroke="#b4b4b4" stroke-width="0.8"/>
<line x1="163.2" y1="333.19" x2="166.2" y2="333.19" stroke="#b4b4b4" stroke-width="0.8"/>
<line x1="163.2" y1="353.81" x2="166.2" y2="353.81" stroke="#b4b4b4" stroke-width="0.8"/>
<line x1="173.6" y1="354.39" x2="173.6" y2="369.29" stroke="#b4b4b4" stroke-width="0.8"/>
<line x1="172.1" y1="354.39" x2="175.1" y2="354.39" stroke="#b4b4b4" stroke-width="0.8"/>
<line x1="172.1" y1="369.29" x2="175.1" y2="369.29" stroke="#b4b4b4" stroke-width="0.8"/>
<line x1="182.5" y1="394.5" x2="182.5" y2="395.64" stroke="#b4b4b4" stroke-width="0.8"/>
<line x1="181" y1="394.5" x2="184" y2="394.5" stroke="#b4b4b4" stroke-width="0.8"/>
<line x1="181" y1="395.64" x2="184" y2="395.64" stroke="#b4b4b4" stroke-width="0.8"/>
<circle cx="136.3" cy="333.19" r="1.5" fill="#fff" stroke="#b0002b" stroke-width="1.05"/>
<circle cx="138.4" cy="342.35" r="1.5" fill="#fff" stroke="#b0002b" stroke-width="1.05"/>
<circle cx="137.1" cy="343.5" r="1.5" fill="#fff" stroke="#b0002b" stroke-width="1.05"/>
<circle cx="139.2" cy="345.22" r="1.5" fill="#fff" stroke="#b0002b" stroke-width="1.05"/>
<circle cx="137.9" cy="346.37" r="1.5" fill="#fff" stroke="#b0002b" stroke-width="1.05"/>
<circle cx="136.61" cy="350.38" r="1.5" fill="#fff" stroke="#b0002b" stroke-width="1.05"/>
<circle cx="145.2" cy="361.84" r="1.5" fill="#fff" stroke="#b0002b" stroke-width="1.05"/>
<circle cx="147.3" cy="361.84" r="1.5" fill="#fff" stroke="#b0002b" stroke-width="1.05"/>
<circle cx="146" cy="372.15" r="1.5" fill="#fff" stroke="#b0002b" stroke-width="1.05"/>
<circle cx="148.1" cy="375.01" r="1.5" fill="#fff" stroke="#b0002b" stroke-width="1.05"/>
<circle cx="146.8" cy="377.88" r="1.5" fill="#fff" stroke="#b0002b" stroke-width="1.05"/>
<circle cx="145.51" cy="380.75" r="1.5" fill="#fff" stroke="#b0002b" stroke-width="1.05"/>
<circle cx="154.1" cy="389.34" r="1.5" fill="#fff" stroke="#b0002b" stroke-width="1.05"/>
<circle cx="156.2" cy="393.92" r="1.5" fill="#fff" stroke="#b0002b" stroke-width="1.05"/>
<circle cx="154.9" cy="395.07" r="1.5" fill="#fff" stroke="#b0002b" stroke-width="1.05"/>
<circle cx="157" cy="396.22" r="1.5" fill="#fff" stroke="#b0002b" stroke-width="1.05"/>
<circle cx="155.7" cy="396.79" r="1.5" fill="#fff" stroke="#b0002b" stroke-width="1.05"/>
<circle cx="163" cy="333.76" r="1.5" fill="#fff" stroke="#2d57a0" stroke-width="1.05"/>
<circle cx="165.1" cy="338.92" r="1.5" fill="#fff" stroke="#2d57a0" stroke-width="1.05"/>
<circle cx="163.8" cy="341.78" r="1.5" fill="#fff" stroke="#2d57a0" stroke-width="1.05"/>
<circle cx="165.9" cy="346.37" r="1.5" fill="#fff" stroke="#2d57a0" stroke-width="1.05"/>
<circle cx="164.6" cy="349.23" r="1.5" fill="#fff" stroke="#2d57a0" stroke-width="1.05"/>
<circle cx="163.31" cy="360.69" r="1.5" fill="#fff" stroke="#2d57a0" stroke-width="1.05"/>
<circle cx="171.9" cy="358.97" r="1.5" fill="#fff" stroke="#2d57a0" stroke-width="1.05"/>
<circle cx="174" cy="358.97" r="1.5" fill="#fff" stroke="#2d57a0" stroke-width="1.05"/>
<circle cx="172.7" cy="373.3" r="1.5" fill="#fff" stroke="#2d57a0" stroke-width="1.05"/>
<circle cx="180.8" cy="393.92" r="1.5" fill="#fff" stroke="#2d57a0" stroke-width="1.05"/>
<circle cx="182.9" cy="395.07" r="1.5" fill="#fff" stroke="#2d57a0" stroke-width="1.05"/>
<circle cx="181.6" cy="395.64" r="1.5" fill="#fff" stroke="#2d57a0" stroke-width="1.05"/>
<line x1="132.4" y1="325.8" x2="132.4" y2="401.4" stroke="#111" stroke-width="1.25"/>
<line x1="131.8" y1="400.8" x2="188.5" y2="400.8" stroke="#111" stroke-width="1.25"/>
<line x1="129.3" y1="400.8" x2="132.4" y2="400.8" stroke="#111" stroke-width="1.3"/>
<text x="125.1" y="403.4" font-size="8.7" fill="#1a1a1a" text-anchor="end" stroke="#1a1a1a" stroke-width="0.18">0</text>
<line x1="129.3" y1="372.15" x2="132.4" y2="372.15" stroke="#111" stroke-width="1.3"/>
<text x="125.1" y="374.75" font-size="8.7" fill="#1a1a1a" text-anchor="end" stroke="#1a1a1a" stroke-width="0.18">50</text>
<line x1="129.3" y1="343.5" x2="132.4" y2="343.5" stroke="#111" stroke-width="1.3"/>
<text x="125.1" y="346.1" font-size="8.7" fill="#1a1a1a" text-anchor="end" stroke="#1a1a1a" stroke-width="0.18">100</text>
<line x1="138" y1="400.8" x2="138" y2="404" stroke="#111" stroke-width="1.25"/>
<text x="142" y="413.8" font-size="6.9" fill="#1a1a1a" transform="rotate(-45 142 413.8)" text-anchor="end" stroke="#1a1a1a" stroke-width="0.18">0 nM</text>
<line x1="146.9" y1="400.8" x2="146.9" y2="404" stroke="#111" stroke-width="1.25"/>
<text x="150.9" y="413.8" font-size="6.9" fill="#1a1a1a" transform="rotate(-45 150.9 413.8)" text-anchor="end" stroke="#1a1a1a" stroke-width="0.18">100 nM</text>
<line x1="155.8" y1="400.8" x2="155.8" y2="404" stroke="#111" stroke-width="1.25"/>
<text x="159.8" y="413.8" font-size="6.9" fill="#1a1a1a" transform="rotate(-45 159.8 413.8)" text-anchor="end" stroke="#1a1a1a" stroke-width="0.18">1 µM</text>
<line x1="164.7" y1="400.8" x2="164.7" y2="404" stroke="#111" stroke-width="1.25"/>
<text x="168.7" y="413.8" font-size="6.9" fill="#1a1a1a" transform="rotate(-45 168.7 413.8)" text-anchor="end" stroke="#1a1a1a" stroke-width="0.18">0 nM</text>
<line x1="173.6" y1="400.8" x2="173.6" y2="404" stroke="#111" stroke-width="1.25"/>
<text x="177.6" y="413.8" font-size="6.9" fill="#1a1a1a" transform="rotate(-45 177.6 413.8)" text-anchor="end" stroke="#1a1a1a" stroke-width="0.18">100 nM</text>
<line x1="182.5" y1="400.8" x2="182.5" y2="404" stroke="#111" stroke-width="1.25"/>
<text x="186.5" y="413.8" font-size="6.9" fill="#1a1a1a" transform="rotate(-45 186.5 413.8)" text-anchor="end" stroke="#1a1a1a" stroke-width="0.18">1 µM</text>
<text x="160.7" y="320" font-size="10" fill="#1a1a1a" textLength="56.3" lengthAdjust="spacingAndGlyphs" text-anchor="middle" stroke="#1a1a1a" stroke-width="0.18">Midostaurin</text>
<rect x="222.8" y="343.5" width="7" height="57.3" fill="#efefef" stroke="#cbcbcb" stroke-width="0.9"/>
<rect x="231.7" y="349.8" width="7" height="51" fill="#efefef" stroke="#cbcbcb" stroke-width="0.9"/>
<rect x="240.6" y="378.45" width="7" height="22.35" fill="#efefef" stroke="#cbcbcb" stroke-width="0.9"/>
<rect x="249.5" y="343.5" width="7" height="57.3" fill="#efefef" stroke="#cbcbcb" stroke-width="0.9"/>
<rect x="258.4" y="347.51" width="7" height="53.29" fill="#efefef" stroke="#cbcbcb" stroke-width="0.9"/>
<rect x="267.3" y="375.01" width="7" height="25.79" fill="#efefef" stroke="#cbcbcb" stroke-width="0.9"/>
<line x1="226.3" y1="337.2" x2="226.3" y2="349.8" stroke="#b4b4b4" stroke-width="0.8"/>
<line x1="224.8" y1="337.2" x2="227.8" y2="337.2" stroke="#b4b4b4" stroke-width="0.8"/>
<line x1="224.8" y1="349.8" x2="227.8" y2="349.8" stroke="#b4b4b4" stroke-width="0.8"/>
<line x1="235.2" y1="345.22" x2="235.2" y2="354.39" stroke="#b4b4b4" stroke-width="0.8"/>
<line x1="233.7" y1="345.22" x2="236.7" y2="345.22" stroke="#b4b4b4" stroke-width="0.8"/>
<line x1="233.7" y1="354.39" x2="236.7" y2="354.39" stroke="#b4b4b4" stroke-width="0.8"/>
<line x1="244.1" y1="373.3" x2="244.1" y2="382.46" stroke="#b4b4b4" stroke-width="0.8"/>
<line x1="242.6" y1="373.3" x2="245.6" y2="373.3" stroke="#b4b4b4" stroke-width="0.8"/>
<line x1="242.6" y1="382.46" x2="245.6" y2="382.46" stroke="#b4b4b4" stroke-width="0.8"/>
<line x1="253" y1="333.19" x2="253" y2="353.81" stroke="#b4b4b4" stroke-width="0.8"/>
<line x1="251.5" y1="333.19" x2="254.5" y2="333.19" stroke="#b4b4b4" stroke-width="0.8"/>
<line x1="251.5" y1="353.81" x2="254.5" y2="353.81" stroke="#b4b4b4" stroke-width="0.8"/>
<line x1="261.9" y1="338.92" x2="261.9" y2="356.11" stroke="#b4b4b4" stroke-width="0.8"/>
<line x1="260.4" y1="338.92" x2="263.4" y2="338.92" stroke="#b4b4b4" stroke-width="0.8"/>
<line x1="260.4" y1="356.11" x2="263.4" y2="356.11" stroke="#b4b4b4" stroke-width="0.8"/>
<line x1="270.8" y1="373.3" x2="270.8" y2="376.73" stroke="#b4b4b4" stroke-width="0.8"/>
<line x1="269.3" y1="373.3" x2="272.3" y2="373.3" stroke="#b4b4b4" stroke-width="0.8"/>
<line x1="269.3" y1="376.73" x2="272.3" y2="376.73" stroke="#b4b4b4" stroke-width="0.8"/>
<circle cx="224.6" cy="332.61" r="1.5" fill="#fff" stroke="#b0002b" stroke-width="1.05"/>
<circle cx="226.7" cy="342.35" r="1.5" fill="#fff" stroke="#b0002b" stroke-width="1.05"/>
<circle cx="225.4" cy="343.5" r="1.5" fill="#fff" stroke="#b0002b" stroke-width="1.05"/>
<circle cx="227.5" cy="345.22" r="1.5" fill="#fff" stroke="#b0002b" stroke-width="1.05"/>
<circle cx="226.2" cy="346.37" r="1.5" fill="#fff" stroke="#b0002b" stroke-width="1.05"/>
<circle cx="224.91" cy="350.38" r="1.5" fill="#fff" stroke="#b0002b" stroke-width="1.05"/>
<circle cx="233.5" cy="338.92" r="1.5" fill="#fff" stroke="#b0002b" stroke-width="1.05"/>
<circle cx="235.6" cy="346.37" r="1.5" fill="#fff" stroke="#b0002b" stroke-width="1.05"/>
<circle cx="234.3" cy="349.23" r="1.5" fill="#fff" stroke="#b0002b" stroke-width="1.05"/>
<circle cx="236.4" cy="352.1" r="1.5" fill="#fff" stroke="#b0002b" stroke-width="1.05"/>
<circle cx="235.1" cy="354.96" r="1.5" fill="#fff" stroke="#b0002b" stroke-width="1.05"/>
<circle cx="233.81" cy="357.82" r="1.5" fill="#fff" stroke="#b0002b" stroke-width="1.05"/>
<circle cx="242.4" cy="360.69" r="1.5" fill="#fff" stroke="#b0002b" stroke-width="1.05"/>
<circle cx="244.5" cy="366.42" r="1.5" fill="#fff" stroke="#b0002b" stroke-width="1.05"/>
<circle cx="243.2" cy="372.15" r="1.5" fill="#fff" stroke="#b0002b" stroke-width="1.05"/>
<circle cx="245.3" cy="375.01" r="1.5" fill="#fff" stroke="#b0002b" stroke-width="1.05"/>
<circle cx="244" cy="377.88" r="1.5" fill="#fff" stroke="#b0002b" stroke-width="1.05"/>
<circle cx="242.71" cy="380.75" r="1.5" fill="#fff" stroke="#b0002b" stroke-width="1.05"/>
<circle cx="244.81" cy="382.46" r="1.5" fill="#fff" stroke="#b0002b" stroke-width="1.05"/>
<circle cx="251.3" cy="333.76" r="1.5" fill="#fff" stroke="#2d57a0" stroke-width="1.05"/>
<circle cx="253.4" cy="338.92" r="1.5" fill="#fff" stroke="#2d57a0" stroke-width="1.05"/>
<circle cx="252.1" cy="341.78" r="1.5" fill="#fff" stroke="#2d57a0" stroke-width="1.05"/>
<circle cx="254.2" cy="346.37" r="1.5" fill="#fff" stroke="#2d57a0" stroke-width="1.05"/>
<circle cx="252.9" cy="349.23" r="1.5" fill="#fff" stroke="#2d57a0" stroke-width="1.05"/>
<circle cx="251.61" cy="360.69" r="1.5" fill="#fff" stroke="#2d57a0" stroke-width="1.05"/>
<circle cx="260.2" cy="338.92" r="1.5" fill="#fff" stroke="#2d57a0" stroke-width="1.05"/>
<circle cx="262.3" cy="346.37" r="1.5" fill="#fff" stroke="#2d57a0" stroke-width="1.05"/>
<circle cx="261" cy="357.82" r="1.5" fill="#fff" stroke="#2d57a0" stroke-width="1.05"/>
<circle cx="269.1" cy="372.15" r="1.5" fill="#fff" stroke="#2d57a0" stroke-width="1.05"/>
<circle cx="271.2" cy="373.87" r="1.5" fill="#fff" stroke="#2d57a0" stroke-width="1.05"/>
<circle cx="269.9" cy="376.73" r="1.5" fill="#fff" stroke="#2d57a0" stroke-width="1.05"/>
<line x1="220.7" y1="325.8" x2="220.7" y2="401.4" stroke="#111" stroke-width="1.25"/>
<line x1="220.1" y1="400.8" x2="276.8" y2="400.8" stroke="#111" stroke-width="1.25"/>
<line x1="217.6" y1="400.8" x2="220.7" y2="400.8" stroke="#111" stroke-width="1.3"/>
<text x="213.4" y="403.4" font-size="8.7" fill="#1a1a1a" text-anchor="end" stroke="#1a1a1a" stroke-width="0.18">0</text>
<line x1="217.6" y1="372.15" x2="220.7" y2="372.15" stroke="#111" stroke-width="1.3"/>
<text x="213.4" y="374.75" font-size="8.7" fill="#1a1a1a" text-anchor="end" stroke="#1a1a1a" stroke-width="0.18">50</text>
<line x1="217.6" y1="343.5" x2="220.7" y2="343.5" stroke="#111" stroke-width="1.3"/>
<text x="213.4" y="346.1" font-size="8.7" fill="#1a1a1a" text-anchor="end" stroke="#1a1a1a" stroke-width="0.18">100</text>
<line x1="226.3" y1="400.8" x2="226.3" y2="404" stroke="#111" stroke-width="1.25"/>
<text x="230.3" y="413.8" font-size="6.9" fill="#1a1a1a" transform="rotate(-45 230.3 413.8)" text-anchor="end" stroke="#1a1a1a" stroke-width="0.18">0 nM</text>
<line x1="235.2" y1="400.8" x2="235.2" y2="404" stroke="#111" stroke-width="1.25"/>
<text x="239.2" y="413.8" font-size="6.9" fill="#1a1a1a" transform="rotate(-45 239.2 413.8)" text-anchor="end" stroke="#1a1a1a" stroke-width="0.18">100 nM</text>
<line x1="244.1" y1="400.8" x2="244.1" y2="404" stroke="#111" stroke-width="1.25"/>
<text x="248.1" y="413.8" font-size="6.9" fill="#1a1a1a" transform="rotate(-45 248.1 413.8)" text-anchor="end" stroke="#1a1a1a" stroke-width="0.18">1 µM</text>
<line x1="253" y1="400.8" x2="253" y2="404" stroke="#111" stroke-width="1.25"/>
<text x="257" y="413.8" font-size="6.9" fill="#1a1a1a" transform="rotate(-45 257 413.8)" text-anchor="end" stroke="#1a1a1a" stroke-width="0.18">0 nM</text>
<line x1="261.9" y1="400.8" x2="261.9" y2="404" stroke="#111" stroke-width="1.25"/>
<text x="265.9" y="413.8" font-size="6.9" fill="#1a1a1a" transform="rotate(-45 265.9 413.8)" text-anchor="end" stroke="#1a1a1a" stroke-width="0.18">100 nM</text>
<line x1="270.8" y1="400.8" x2="270.8" y2="404" stroke="#111" stroke-width="1.25"/>
<text x="274.8" y="413.8" font-size="6.9" fill="#1a1a1a" transform="rotate(-45 274.8 413.8)" text-anchor="end" stroke="#1a1a1a" stroke-width="0.18">1 µM</text>
<text x="249" y="320" font-size="10" fill="#1a1a1a" textLength="38.2" lengthAdjust="spacingAndGlyphs" text-anchor="middle" stroke="#1a1a1a" stroke-width="0.18">Imatinib</text>
<rect x="311.3" y="343.5" width="7" height="57.3" fill="#efefef" stroke="#cbcbcb" stroke-width="0.9"/>
<rect x="320.2" y="360.69" width="7" height="40.11" fill="#efefef" stroke="#cbcbcb" stroke-width="0.9"/>
<rect x="329.1" y="392.78" width="7" height="8.02" fill="#efefef" stroke="#cbcbcb" stroke-width="0.9"/>
<rect x="338" y="343.5" width="7" height="57.3" fill="#efefef" stroke="#cbcbcb" stroke-width="0.9"/>
<rect x="346.9" y="376.73" width="7" height="24.07" fill="#efefef" stroke="#cbcbcb" stroke-width="0.9"/>
<rect x="355.8" y="397.94" width="7" height="2.87" fill="#efefef" stroke="#cbcbcb" stroke-width="0.9"/>
<line x1="314.8" y1="337.2" x2="314.8" y2="349.8" stroke="#b4b4b4" stroke-width="0.8"/>
<line x1="313.3" y1="337.2" x2="316.3" y2="337.2" stroke="#b4b4b4" stroke-width="0.8"/>
<line x1="313.3" y1="349.8" x2="316.3" y2="349.8" stroke="#b4b4b4" stroke-width="0.8"/>
<line x1="323.7" y1="349.23" x2="323.7" y2="372.15" stroke="#b4b4b4" stroke-width="0.8"/>
<line x1="322.2" y1="349.23" x2="325.2" y2="349.23" stroke="#b4b4b4" stroke-width="0.8"/>
<line x1="322.2" y1="372.15" x2="325.2" y2="372.15" stroke="#b4b4b4" stroke-width="0.8"/>
<line x1="332.6" y1="389.91" x2="332.6" y2="395.64" stroke="#b4b4b4" stroke-width="0.8"/>
<line x1="331.1" y1="389.91" x2="334.1" y2="389.91" stroke="#b4b4b4" stroke-width="0.8"/>
<line x1="331.1" y1="395.64" x2="334.1" y2="395.64" stroke="#b4b4b4" stroke-width="0.8"/>
<line x1="341.5" y1="333.19" x2="341.5" y2="353.81" stroke="#b4b4b4" stroke-width="0.8"/>
<line x1="340" y1="333.19" x2="343" y2="333.19" stroke="#b4b4b4" stroke-width="0.8"/>
<line x1="340" y1="353.81" x2="343" y2="353.81" stroke="#b4b4b4" stroke-width="0.8"/>
<line x1="350.4" y1="371" x2="350.4" y2="382.46" stroke="#b4b4b4" stroke-width="0.8"/>
<line x1="348.9" y1="371" x2="351.9" y2="371" stroke="#b4b4b4" stroke-width="0.8"/>
<line x1="348.9" y1="382.46" x2="351.9" y2="382.46" stroke="#b4b4b4" stroke-width="0.8"/>
<line x1="359.3" y1="397.36" x2="359.3" y2="398.51" stroke="#b4b4b4" stroke-width="0.8"/>
<line x1="357.8" y1="397.36" x2="360.8" y2="397.36" stroke="#b4b4b4" stroke-width="0.8"/>
<line x1="357.8" y1="398.51" x2="360.8" y2="398.51" stroke="#b4b4b4" stroke-width="0.8"/>
<circle cx="313.1" cy="332.61" r="1.5" fill="#fff" stroke="#b0002b" stroke-width="1.05"/>
<circle cx="315.2" cy="342.35" r="1.5" fill="#fff" stroke="#b0002b" stroke-width="1.05"/>
<circle cx="313.9" cy="343.5" r="1.5" fill="#fff" stroke="#b0002b" stroke-width="1.05"/>
<circle cx="316" cy="345.22" r="1.5" fill="#fff" stroke="#b0002b" stroke-width="1.05"/>
<circle cx="314.7" cy="346.37" r="1.5" fill="#fff" stroke="#b0002b" stroke-width="1.05"/>
<circle cx="313.41" cy="350.38" r="1.5" fill="#fff" stroke="#b0002b" stroke-width="1.05"/>
<circle cx="322" cy="347.51" r="1.5" fill="#fff" stroke="#b0002b" stroke-width="1.05"/>
<circle cx="324.1" cy="352.1" r="1.5" fill="#fff" stroke="#b0002b" stroke-width="1.05"/>
<circle cx="322.8" cy="357.82" r="1.5" fill="#fff" stroke="#b0002b" stroke-width="1.05"/>
<circle cx="324.9" cy="360.69" r="1.5" fill="#fff" stroke="#b0002b" stroke-width="1.05"/>
<circle cx="323.6" cy="361.84" r="1.5" fill="#fff" stroke="#b0002b" stroke-width="1.05"/>
<circle cx="322.31" cy="382.46" r="1.5" fill="#fff" stroke="#b0002b" stroke-width="1.05"/>
<circle cx="330.9" cy="388.19" r="1.5" fill="#fff" stroke="#b0002b" stroke-width="1.05"/>
<circle cx="333" cy="392.2" r="1.5" fill="#fff" stroke="#b0002b" stroke-width="1.05"/>
<circle cx="331.7" cy="393.92" r="1.5" fill="#fff" stroke="#b0002b" stroke-width="1.05"/>
<circle cx="333.8" cy="395.07" r="1.5" fill="#fff" stroke="#b0002b" stroke-width="1.05"/>
<circle cx="339.8" cy="333.76" r="1.5" fill="#fff" stroke="#2d57a0" stroke-width="1.05"/>
<circle cx="341.9" cy="338.92" r="1.5" fill="#fff" stroke="#2d57a0" stroke-width="1.05"/>
<circle cx="340.6" cy="341.78" r="1.5" fill="#fff" stroke="#2d57a0" stroke-width="1.05"/>
<circle cx="342.7" cy="346.37" r="1.5" fill="#fff" stroke="#2d57a0" stroke-width="1.05"/>
<circle cx="341.4" cy="349.23" r="1.5" fill="#fff" stroke="#2d57a0" stroke-width="1.05"/>
<circle cx="340.11" cy="360.69" r="1.5" fill="#fff" stroke="#2d57a0" stroke-width="1.05"/>
<circle cx="348.7" cy="375.01" r="1.5" fill="#fff" stroke="#2d57a0" stroke-width="1.05"/>
<circle cx="350.8" cy="375.59" r="1.5" fill="#fff" stroke="#2d57a0" stroke-width="1.05"/>
<circle cx="349.5" cy="384.76" r="1.5" fill="#fff" stroke="#2d57a0" stroke-width="1.05"/>
<circle cx="357.6" cy="397.94" r="1.5" fill="#fff" stroke="#2d57a0" stroke-width="1.05"/>
<circle cx="359.7" cy="397.36" r="1.5" fill="#fff" stroke="#2d57a0" stroke-width="1.05"/>
<circle cx="358.4" cy="398.51" r="1.5" fill="#fff" stroke="#2d57a0" stroke-width="1.05"/>
<polygon points="323.7,339.7 324.18,340.75 325.32,340.87 324.47,341.65 324.7,342.78 323.7,342.21 322.7,342.78 322.93,341.65 322.08,340.87 323.22,340.75" fill="#222"/>
<polygon points="332.6,371.5 333.08,372.55 334.22,372.67 333.37,373.45 333.6,374.58 332.6,374.01 331.6,374.58 331.83,373.45 330.98,372.67 332.12,372.55" fill="#222"/>
<polygon points="332.6,376.5 333.08,377.55 334.22,377.67 333.37,378.45 333.6,379.58 332.6,379.01 331.6,379.58 331.83,378.45 330.98,377.67 332.12,377.55" fill="#222"/>
<polygon points="332.6,381.4 333.08,382.45 334.22,382.57 333.37,383.35 333.6,384.48 332.6,383.91 331.6,384.48 331.83,383.35 330.98,382.57 332.12,382.45" fill="#222"/>
<line x1="309.2" y1="325.8" x2="309.2" y2="401.4" stroke="#111" stroke-width="1.25"/>
<line x1="308.6" y1="400.8" x2="365.3" y2="400.8" stroke="#111" stroke-width="1.25"/>
<line x1="306.1" y1="400.8" x2="309.2" y2="400.8" stroke="#111" stroke-width="1.3"/>
<text x="301.9" y="403.4" font-size="8.7" fill="#1a1a1a" text-anchor="end" stroke="#1a1a1a" stroke-width="0.18">0</text>
<line x1="306.1" y1="372.15" x2="309.2" y2="372.15" stroke="#111" stroke-width="1.3"/>
<text x="301.9" y="374.75" font-size="8.7" fill="#1a1a1a" text-anchor="end" stroke="#1a1a1a" stroke-width="0.18">50</text>
<line x1="306.1" y1="343.5" x2="309.2" y2="343.5" stroke="#111" stroke-width="1.3"/>
<text x="301.9" y="346.1" font-size="8.7" fill="#1a1a1a" text-anchor="end" stroke="#1a1a1a" stroke-width="0.18">100</text>
<line x1="314.8" y1="400.8" x2="314.8" y2="404" stroke="#111" stroke-width="1.25"/>
<text x="318.8" y="413.8" font-size="6.9" fill="#1a1a1a" transform="rotate(-45 318.8 413.8)" text-anchor="end" stroke="#1a1a1a" stroke-width="0.18">0 nM</text>
<line x1="323.7" y1="400.8" x2="323.7" y2="404" stroke="#111" stroke-width="1.25"/>
<text x="327.7" y="413.8" font-size="6.9" fill="#1a1a1a" transform="rotate(-45 327.7 413.8)" text-anchor="end" stroke="#1a1a1a" stroke-width="0.18">100 nM</text>
<line x1="332.6" y1="400.8" x2="332.6" y2="404" stroke="#111" stroke-width="1.25"/>
<text x="336.6" y="413.8" font-size="6.9" fill="#1a1a1a" transform="rotate(-45 336.6 413.8)" text-anchor="end" stroke="#1a1a1a" stroke-width="0.18">1 µM</text>
<line x1="341.5" y1="400.8" x2="341.5" y2="404" stroke="#111" stroke-width="1.25"/>
<text x="345.5" y="413.8" font-size="6.9" fill="#1a1a1a" transform="rotate(-45 345.5 413.8)" text-anchor="end" stroke="#1a1a1a" stroke-width="0.18">0 nM</text>
<line x1="350.4" y1="400.8" x2="350.4" y2="404" stroke="#111" stroke-width="1.25"/>
<text x="354.4" y="413.8" font-size="6.9" fill="#1a1a1a" transform="rotate(-45 354.4 413.8)" text-anchor="end" stroke="#1a1a1a" stroke-width="0.18">100 nM</text>
<line x1="359.3" y1="400.8" x2="359.3" y2="404" stroke="#111" stroke-width="1.25"/>
<text x="363.3" y="413.8" font-size="6.9" fill="#1a1a1a" transform="rotate(-45 363.3 413.8)" text-anchor="end" stroke="#1a1a1a" stroke-width="0.18">1 µM</text>
<text x="337.5" y="320" font-size="10" fill="#1a1a1a" textLength="48.1" lengthAdjust="spacingAndGlyphs" text-anchor="middle" stroke="#1a1a1a" stroke-width="0.18">Rigosertib</text>
<text x="17" y="363.3" font-size="10" fill="#1a1a1a" textLength="60" lengthAdjust="spacingAndGlyphs" transform="rotate(-90 17 363.3)" text-anchor="middle" stroke="#1a1a1a" stroke-width="0.18">Cell viability (%)</text>
<text x="47.6" y="305.2" font-size="10" fill="#1a1a1a" textLength="41.5" lengthAdjust="spacingAndGlyphs" stroke="#1a1a1a" stroke-width="0.18">Patient 2</text>
<rect x="47.15" y="488.5" width="7.1" height="57.1" fill="#efefef" stroke="#cbcbcb" stroke-width="0.9"/>
<rect x="56.25" y="515.91" width="7.1" height="29.69" fill="#efefef" stroke="#cbcbcb" stroke-width="0.9"/>
<rect x="65.35" y="538.75" width="7.1" height="6.85" fill="#efefef" stroke="#cbcbcb" stroke-width="0.9"/>
<rect x="74.45" y="488.5" width="7.1" height="57.1" fill="#efefef" stroke="#cbcbcb" stroke-width="0.9"/>
<rect x="83.55" y="503.92" width="7.1" height="41.68" fill="#efefef" stroke="#cbcbcb" stroke-width="0.9"/>
<rect x="92.65" y="521.05" width="7.1" height="24.55" fill="#efefef" stroke="#cbcbcb" stroke-width="0.9"/>
<line x1="50.7" y1="484.5" x2="50.7" y2="492.5" stroke="#b4b4b4" stroke-width="0.8"/>
<line x1="49.2" y1="484.5" x2="52.2" y2="484.5" stroke="#b4b4b4" stroke-width="0.8"/>
<line x1="49.2" y1="492.5" x2="52.2" y2="492.5" stroke="#b4b4b4" stroke-width="0.8"/>
<line x1="59.8" y1="511.91" x2="59.8" y2="519.9" stroke="#b4b4b4" stroke-width="0.8"/>
<line x1="58.3" y1="511.91" x2="61.3" y2="511.91" stroke="#b4b4b4" stroke-width="0.8"/>
<line x1="58.3" y1="519.9" x2="61.3" y2="519.9" stroke="#b4b4b4" stroke-width="0.8"/>
<line x1="68.9" y1="537.61" x2="68.9" y2="539.89" stroke="#b4b4b4" stroke-width="0.8"/>
<line x1="67.4" y1="537.61" x2="70.4" y2="537.61" stroke="#b4b4b4" stroke-width="0.8"/>
<line x1="67.4" y1="539.89" x2="70.4" y2="539.89" stroke="#b4b4b4" stroke-width="0.8"/>
<line x1="78" y1="483.93" x2="78" y2="493.07" stroke="#b4b4b4" stroke-width="0.8"/>
<line x1="76.5" y1="483.93" x2="79.5" y2="483.93" stroke="#b4b4b4" stroke-width="0.8"/>
<line x1="76.5" y1="493.07" x2="79.5" y2="493.07" stroke="#b4b4b4" stroke-width="0.8"/>
<line x1="87.1" y1="498.78" x2="87.1" y2="509.06" stroke="#b4b4b4" stroke-width="0.8"/>
<line x1="85.6" y1="498.78" x2="88.6" y2="498.78" stroke="#b4b4b4" stroke-width="0.8"/>
<line x1="85.6" y1="509.06" x2="88.6" y2="509.06" stroke="#b4b4b4" stroke-width="0.8"/>
<line x1="96.2" y1="515.91" x2="96.2" y2="526.19" stroke="#b4b4b4" stroke-width="0.8"/>
<line x1="94.7" y1="515.91" x2="97.7" y2="515.91" stroke="#b4b4b4" stroke-width="0.8"/>
<line x1="94.7" y1="526.19" x2="97.7" y2="526.19" stroke="#b4b4b4" stroke-width="0.8"/>
<circle cx="49" cy="482.79" r="1.5" fill="#fff" stroke="#b0002b" stroke-width="1.05"/>
<circle cx="51.1" cy="485.64" r="1.5" fill="#fff" stroke="#b0002b" stroke-width="1.05"/>
<circle cx="49.8" cy="488.5" r="1.5" fill="#fff" stroke="#b0002b" stroke-width="1.05"/>
<circle cx="51.9" cy="491.36" r="1.5" fill="#fff" stroke="#b0002b" stroke-width="1.05"/>
<circle cx="50.6" cy="494.21" r="1.5" fill="#fff" stroke="#b0002b" stroke-width="1.05"/>
<circle cx="58.1" cy="508.49" r="1.5" fill="#fff" stroke="#b0002b" stroke-width="1.05"/>
<circle cx="60.2" cy="514.2" r="1.5" fill="#fff" stroke="#b0002b" stroke-width="1.05"/>
<circle cx="58.9" cy="517.05" r="1.5" fill="#fff" stroke="#b0002b" stroke-width="1.05"/>
<circle cx="61" cy="519.9" r="1.5" fill="#fff" stroke="#b0002b" stroke-width="1.05"/>
<circle cx="59.7" cy="521.62" r="1.5" fill="#fff" stroke="#b0002b" stroke-width="1.05"/>
<circle cx="67.2" cy="537.61" r="1.5" fill="#fff" stroke="#b0002b" stroke-width="1.05"/>
<circle cx="69.3" cy="538.75" r="1.5" fill="#fff" stroke="#b0002b" stroke-width="1.05"/>
<circle cx="68" cy="539.89" r="1.5" fill="#fff" stroke="#b0002b" stroke-width="1.05"/>
<circle cx="70.1" cy="538.75" r="1.5" fill="#fff" stroke="#b0002b" stroke-width="1.05"/>
<circle cx="68.8" cy="538.18" r="1.5" fill="#fff" stroke="#b0002b" stroke-width="1.05"/>
<circle cx="76.3" cy="485.64" r="1.5" fill="#fff" stroke="#2d57a0" stroke-width="1.05"/>
<circle cx="78.4" cy="487.36" r="1.5" fill="#fff" stroke="#2d57a0" stroke-width="1.05"/>
<circle cx="77.1" cy="493.07" r="1.5" fill="#fff" stroke="#2d57a0" stroke-width="1.05"/>
<circle cx="79.2" cy="495.35" r="1.5" fill="#fff" stroke="#2d57a0" stroke-width="1.05"/>
<circle cx="85.4" cy="494.21" r="1.5" fill="#fff" stroke="#2d57a0" stroke-width="1.05"/>
<circle cx="87.5" cy="499.92" r="1.5" fill="#fff" stroke="#2d57a0" stroke-width="1.05"/>
<circle cx="86.2" cy="502.78" r="1.5" fill="#fff" stroke="#2d57a0" stroke-width="1.05"/>
<circle cx="88.3" cy="505.63" r="1.5" fill="#fff" stroke="#2d57a0" stroke-width="1.05"/>
<circle cx="87" cy="508.49" r="1.5" fill="#fff" stroke="#2d57a0" stroke-width="1.05"/>
<circle cx="85.71" cy="511.34" r="1.5" fill="#fff" stroke="#2d57a0" stroke-width="1.05"/>
<circle cx="94.5" cy="511.34" r="1.5" fill="#fff" stroke="#2d57a0" stroke-width="1.05"/>
<circle cx="96.6" cy="514.2" r="1.5" fill="#fff" stroke="#2d57a0" stroke-width="1.05"/>
<circle cx="95.3" cy="517.05" r="1.5" fill="#fff" stroke="#2d57a0" stroke-width="1.05"/>
<circle cx="97.4" cy="519.9" r="1.5" fill="#fff" stroke="#2d57a0" stroke-width="1.05"/>
<circle cx="96.1" cy="522.76" r="1.5" fill="#fff" stroke="#2d57a0" stroke-width="1.05"/>
<circle cx="94.81" cy="525.62" r="1.5" fill="#fff" stroke="#2d57a0" stroke-width="1.05"/>
<circle cx="96.91" cy="528.47" r="1.5" fill="#fff" stroke="#2d57a0" stroke-width="1.05"/>
<polygon points="59.8,494.5 60.28,495.55 61.42,495.67 60.57,496.45 60.8,497.58 59.8,497.01 58.8,497.58 59.03,496.45 58.18,495.67 59.32,495.55" fill="#222"/>
<polygon points="59.8,499.3 60.28,500.35 61.42,500.47 60.57,501.25 60.8,502.38 59.8,501.81 58.8,502.38 59.03,501.25 58.18,500.47 59.32,500.35" fill="#222"/>
<polygon points="68.9,519.4 69.38,520.45 70.52,520.57 69.67,521.35 69.9,522.48 68.9,521.91 67.9,522.48 68.13,521.35 67.28,520.57 68.42,520.45" fill="#222"/>
<polygon points="68.9,524.6 69.38,525.65 70.52,525.77 69.67,526.55 69.9,527.68 68.9,527.11 67.9,527.68 68.13,526.55 67.28,525.77 68.42,525.65" fill="#222"/>
<polygon points="68.9,530.2 69.38,531.25 70.52,531.37 69.67,532.15 69.9,533.28 68.9,532.71 67.9,533.28 68.13,532.15 67.28,531.37 68.42,531.25" fill="#222"/>
<line x1="44.7" y1="472.2" x2="44.7" y2="546.2" stroke="#111" stroke-width="1.25"/>
<line x1="44.1" y1="545.6" x2="101.3" y2="545.6" stroke="#111" stroke-width="1.25"/>
<line x1="41.6" y1="545.6" x2="44.7" y2="545.6" stroke="#111" stroke-width="1.3"/>
<text x="37.4" y="548.2" font-size="8.7" fill="#1a1a1a" text-anchor="end" stroke="#1a1a1a" stroke-width="0.18">0</text>
<line x1="41.6" y1="517.05" x2="44.7" y2="517.05" stroke="#111" stroke-width="1.3"/>
<text x="37.4" y="519.65" font-size="8.7" fill="#1a1a1a" text-anchor="end" stroke="#1a1a1a" stroke-width="0.18">50</text>
<line x1="41.6" y1="488.5" x2="44.7" y2="488.5" stroke="#111" stroke-width="1.3"/>
<text x="37.4" y="491.1" font-size="8.7" fill="#1a1a1a" text-anchor="end" stroke="#1a1a1a" stroke-width="0.18">100</text>
<line x1="50.7" y1="545.6" x2="50.7" y2="548.8" stroke="#111" stroke-width="1.25"/>
<text x="53.9" y="558.3" font-size="6.9" fill="#1a1a1a" transform="rotate(-45 53.9 558.3)" text-anchor="end" stroke="#1a1a1a" stroke-width="0.18">0 nM</text>
<line x1="59.8" y1="545.6" x2="59.8" y2="548.8" stroke="#111" stroke-width="1.25"/>
<text x="63" y="558.3" font-size="6.9" fill="#1a1a1a" transform="rotate(-45 63 558.3)" text-anchor="end" stroke="#1a1a1a" stroke-width="0.18">100 nM</text>
<line x1="68.9" y1="545.6" x2="68.9" y2="548.8" stroke="#111" stroke-width="1.25"/>
<text x="72.1" y="558.3" font-size="6.9" fill="#1a1a1a" transform="rotate(-45 72.1 558.3)" text-anchor="end" stroke="#1a1a1a" stroke-width="0.18">1 µM</text>
<line x1="78" y1="545.6" x2="78" y2="548.8" stroke="#111" stroke-width="1.25"/>
<text x="81.2" y="558.3" font-size="6.9" fill="#1a1a1a" transform="rotate(-45 81.2 558.3)" text-anchor="end" stroke="#1a1a1a" stroke-width="0.18">0 nM</text>
<line x1="87.1" y1="545.6" x2="87.1" y2="548.8" stroke="#111" stroke-width="1.25"/>
<text x="90.3" y="558.3" font-size="6.9" fill="#1a1a1a" transform="rotate(-45 90.3 558.3)" text-anchor="end" stroke="#1a1a1a" stroke-width="0.18">100 nM</text>
<line x1="96.2" y1="545.6" x2="96.2" y2="548.8" stroke="#111" stroke-width="1.25"/>
<text x="99.4" y="558.3" font-size="6.9" fill="#1a1a1a" transform="rotate(-45 99.4 558.3)" text-anchor="end" stroke="#1a1a1a" stroke-width="0.18">1 µM</text>
<text x="73" y="466.4" font-size="10" fill="#1a1a1a" textLength="52.3" lengthAdjust="spacingAndGlyphs" text-anchor="middle" stroke="#1a1a1a" stroke-width="0.18">Nintedanib</text>
<rect x="134.85" y="488.5" width="7.1" height="57.1" fill="#efefef" stroke="#cbcbcb" stroke-width="0.9"/>
<rect x="143.95" y="523.9" width="7.1" height="21.7" fill="#efefef" stroke="#cbcbcb" stroke-width="0.9"/>
<rect x="153.05" y="541.6" width="7.1" height="4" fill="#efefef" stroke="#cbcbcb" stroke-width="0.9"/>
<rect x="162.15" y="488.5" width="7.1" height="57.1" fill="#efefef" stroke="#cbcbcb" stroke-width="0.9"/>
<rect x="171.25" y="502.78" width="7.1" height="42.83" fill="#efefef" stroke="#cbcbcb" stroke-width="0.9"/>
<rect x="180.35" y="526.76" width="7.1" height="18.84" fill="#efefef" stroke="#cbcbcb" stroke-width="0.9"/>
<line x1="138.4" y1="484.5" x2="138.4" y2="492.5" stroke="#b4b4b4" stroke-width="0.8"/>
<line x1="136.9" y1="484.5" x2="139.9" y2="484.5" stroke="#b4b4b4" stroke-width="0.8"/>
<line x1="136.9" y1="492.5" x2="139.9" y2="492.5" stroke="#b4b4b4" stroke-width="0.8"/>
<line x1="147.5" y1="519.9" x2="147.5" y2="527.9" stroke="#b4b4b4" stroke-width="0.8"/>
<line x1="146" y1="519.9" x2="149" y2="519.9" stroke="#b4b4b4" stroke-width="0.8"/>
<line x1="146" y1="527.9" x2="149" y2="527.9" stroke="#b4b4b4" stroke-width="0.8"/>
<line x1="156.6" y1="540.46" x2="156.6" y2="542.75" stroke="#b4b4b4" stroke-width="0.8"/>
<line x1="155.1" y1="540.46" x2="158.1" y2="540.46" stroke="#b4b4b4" stroke-width="0.8"/>
<line x1="155.1" y1="542.75" x2="158.1" y2="542.75" stroke="#b4b4b4" stroke-width="0.8"/>
<line x1="165.7" y1="483.93" x2="165.7" y2="493.07" stroke="#b4b4b4" stroke-width="0.8"/>
<line x1="164.2" y1="483.93" x2="167.2" y2="483.93" stroke="#b4b4b4" stroke-width="0.8"/>
<line x1="164.2" y1="493.07" x2="167.2" y2="493.07" stroke="#b4b4b4" stroke-width="0.8"/>
<line x1="174.8" y1="495.35" x2="174.8" y2="510.2" stroke="#b4b4b4" stroke-width="0.8"/>
<line x1="173.3" y1="495.35" x2="176.3" y2="495.35" stroke="#b4b4b4" stroke-width="0.8"/>
<line x1="173.3" y1="510.2" x2="176.3" y2="510.2" stroke="#b4b4b4" stroke-width="0.8"/>
<line x1="183.9" y1="521.62" x2="183.9" y2="531.9" stroke="#b4b4b4" stroke-width="0.8"/>
<line x1="182.4" y1="521.62" x2="185.4" y2="521.62" stroke="#b4b4b4" stroke-width="0.8"/>
<line x1="182.4" y1="531.9" x2="185.4" y2="531.9" stroke="#b4b4b4" stroke-width="0.8"/>
<circle cx="136.7" cy="483.93" r="1.5" fill="#fff" stroke="#b0002b" stroke-width="1.05"/>
<circle cx="138.8" cy="486.79" r="1.5" fill="#fff" stroke="#b0002b" stroke-width="1.05"/>
<circle cx="137.5" cy="489.64" r="1.5" fill="#fff" stroke="#b0002b" stroke-width="1.05"/>
<circle cx="139.6" cy="491.36" r="1.5" fill="#fff" stroke="#b0002b" stroke-width="1.05"/>
<circle cx="138.3" cy="494.21" r="1.5" fill="#fff" stroke="#b0002b" stroke-width="1.05"/>
<circle cx="145.8" cy="515.91" r="1.5" fill="#fff" stroke="#b0002b" stroke-width="1.05"/>
<circle cx="147.9" cy="518.19" r="1.5" fill="#fff" stroke="#b0002b" stroke-width="1.05"/>
<circle cx="146.6" cy="519.9" r="1.5" fill="#fff" stroke="#b0002b" stroke-width="1.05"/>
<circle cx="148.7" cy="522.76" r="1.5" fill="#fff" stroke="#b0002b" stroke-width="1.05"/>
<circle cx="147.4" cy="523.9" r="1.5" fill="#fff" stroke="#b0002b" stroke-width="1.05"/>
<circle cx="146.11" cy="527.33" r="1.5" fill="#fff" stroke="#b0002b" stroke-width="1.05"/>
<circle cx="154.9" cy="541.03" r="1.5" fill="#fff" stroke="#b0002b" stroke-width="1.05"/>
<circle cx="157" cy="542.17" r="1.5" fill="#fff" stroke="#b0002b" stroke-width="1.05"/>
<circle cx="155.7" cy="541.6" r="1.5" fill="#fff" stroke="#b0002b" stroke-width="1.05"/>
<circle cx="157.8" cy="542.75" r="1.5" fill="#fff" stroke="#b0002b" stroke-width="1.05"/>
<circle cx="164" cy="485.64" r="1.5" fill="#fff" stroke="#2d57a0" stroke-width="1.05"/>
<circle cx="166.1" cy="488.5" r="1.5" fill="#fff" stroke="#2d57a0" stroke-width="1.05"/>
<circle cx="164.8" cy="494.21" r="1.5" fill="#fff" stroke="#2d57a0" stroke-width="1.05"/>
<circle cx="166.9" cy="495.35" r="1.5" fill="#fff" stroke="#2d57a0" stroke-width="1.05"/>
<circle cx="173.1" cy="495.35" r="1.5" fill="#fff" stroke="#2d57a0" stroke-width="1.05"/>
<circle cx="175.2" cy="497.06" r="1.5" fill="#fff" stroke="#2d57a0" stroke-width="1.05"/>
<circle cx="173.9" cy="499.92" r="1.5" fill="#fff" stroke="#2d57a0" stroke-width="1.05"/>
<circle cx="176" cy="505.63" r="1.5" fill="#fff" stroke="#2d57a0" stroke-width="1.05"/>
<circle cx="174.7" cy="508.49" r="1.5" fill="#fff" stroke="#2d57a0" stroke-width="1.05"/>
<circle cx="173.41" cy="514.2" r="1.5" fill="#fff" stroke="#2d57a0" stroke-width="1.05"/>
<circle cx="175.51" cy="517.05" r="1.5" fill="#fff" stroke="#2d57a0" stroke-width="1.05"/>
<circle cx="182.2" cy="518.76" r="1.5" fill="#fff" stroke="#2d57a0" stroke-width="1.05"/>
<circle cx="184.3" cy="521.05" r="1.5" fill="#fff" stroke="#2d57a0" stroke-width="1.05"/>
<circle cx="183" cy="522.76" r="1.5" fill="#fff" stroke="#2d57a0" stroke-width="1.05"/>
<circle cx="185.1" cy="525.62" r="1.5" fill="#fff" stroke="#2d57a0" stroke-width="1.05"/>
<circle cx="183.8" cy="529.61" r="1.5" fill="#fff" stroke="#2d57a0" stroke-width="1.05"/>
<circle cx="182.51" cy="531.33" r="1.5" fill="#fff" stroke="#2d57a0" stroke-width="1.05"/>
<circle cx="184.61" cy="534.18" r="1.5" fill="#fff" stroke="#2d57a0" stroke-width="1.05"/>
<polygon points="147.5,499 147.98,500.05 149.12,500.17 148.27,500.95 148.5,502.08 147.5,501.51 146.5,502.08 146.73,500.95 145.88,500.17 147.02,500.05" fill="#222"/>
<polygon points="147.5,504 147.98,505.05 149.12,505.17 148.27,505.95 148.5,507.08 147.5,506.51 146.5,507.08 146.73,505.95 145.88,505.17 147.02,505.05" fill="#222"/>
<polygon points="147.5,508.7 147.98,509.75 149.12,509.87 148.27,510.65 148.5,511.78 147.5,511.21 146.5,511.78 146.73,510.65 145.88,509.87 147.02,509.75" fill="#222"/>
<polygon points="156.6,527.3 157.08,528.35 158.22,528.47 157.37,529.25 157.6,530.38 156.6,529.81 155.6,530.38 155.83,529.25 154.98,528.47 156.12,528.35" fill="#222"/>
<polygon points="156.6,531.8 157.08,532.85 158.22,532.97 157.37,533.75 157.6,534.88 156.6,534.31 155.6,534.88 155.83,533.75 154.98,532.97 156.12,532.85" fill="#222"/>
<line x1="132.4" y1="472.2" x2="132.4" y2="546.2" stroke="#111" stroke-width="1.25"/>
<line x1="131.8" y1="545.6" x2="189" y2="545.6" stroke="#111" stroke-width="1.25"/>
<line x1="129.3" y1="545.6" x2="132.4" y2="545.6" stroke="#111" stroke-width="1.3"/>
<text x="125.1" y="548.2" font-size="8.7" fill="#1a1a1a" text-anchor="end" stroke="#1a1a1a" stroke-width="0.18">0</text>
<line x1="129.3" y1="517.05" x2="132.4" y2="517.05" stroke="#111" stroke-width="1.3"/>
<text x="125.1" y="519.65" font-size="8.7" fill="#1a1a1a" text-anchor="end" stroke="#1a1a1a" stroke-width="0.18">50</text>
<line x1="129.3" y1="488.5" x2="132.4" y2="488.5" stroke="#111" stroke-width="1.3"/>
<text x="125.1" y="491.1" font-size="8.7" fill="#1a1a1a" text-anchor="end" stroke="#1a1a1a" stroke-width="0.18">100</text>
<line x1="138.4" y1="545.6" x2="138.4" y2="548.8" stroke="#111" stroke-width="1.25"/>
<text x="141.6" y="558.3" font-size="6.9" fill="#1a1a1a" transform="rotate(-45 141.6 558.3)" text-anchor="end" stroke="#1a1a1a" stroke-width="0.18">0 nM</text>
<line x1="147.5" y1="545.6" x2="147.5" y2="548.8" stroke="#111" stroke-width="1.25"/>
<text x="150.7" y="558.3" font-size="6.9" fill="#1a1a1a" transform="rotate(-45 150.7 558.3)" text-anchor="end" stroke="#1a1a1a" stroke-width="0.18">100 nM</text>
<line x1="156.6" y1="545.6" x2="156.6" y2="548.8" stroke="#111" stroke-width="1.25"/>
<text x="159.8" y="558.3" font-size="6.9" fill="#1a1a1a" transform="rotate(-45 159.8 558.3)" text-anchor="end" stroke="#1a1a1a" stroke-width="0.18">1 µM</text>
<line x1="165.7" y1="545.6" x2="165.7" y2="548.8" stroke="#111" stroke-width="1.25"/>
<text x="168.9" y="558.3" font-size="6.9" fill="#1a1a1a" transform="rotate(-45 168.9 558.3)" text-anchor="end" stroke="#1a1a1a" stroke-width="0.18">0 nM</text>
<line x1="174.8" y1="545.6" x2="174.8" y2="548.8" stroke="#111" stroke-width="1.25"/>
<text x="178" y="558.3" font-size="6.9" fill="#1a1a1a" transform="rotate(-45 178 558.3)" text-anchor="end" stroke="#1a1a1a" stroke-width="0.18">100 nM</text>
<line x1="183.9" y1="545.6" x2="183.9" y2="548.8" stroke="#111" stroke-width="1.25"/>
<text x="187.1" y="558.3" font-size="6.9" fill="#1a1a1a" transform="rotate(-45 187.1 558.3)" text-anchor="end" stroke="#1a1a1a" stroke-width="0.18">1 µM</text>
<text x="160.7" y="466.4" font-size="10" fill="#1a1a1a" textLength="56.3" lengthAdjust="spacingAndGlyphs" text-anchor="middle" stroke="#1a1a1a" stroke-width="0.18">Midostaurin</text>
<rect x="223.15" y="488.5" width="7.1" height="57.1" fill="#efefef" stroke="#cbcbcb" stroke-width="0.9"/>
<rect x="232.25" y="483.36" width="7.1" height="62.24" fill="#efefef" stroke="#cbcbcb" stroke-width="0.9"/>
<rect x="241.35" y="494.21" width="7.1" height="51.39" fill="#efefef" stroke="#cbcbcb" stroke-width="0.9"/>
<rect x="250.45" y="488.5" width="7.1" height="57.1" fill="#efefef" stroke="#cbcbcb" stroke-width="0.9"/>
<rect x="259.55" y="492.5" width="7.1" height="53.1" fill="#efefef" stroke="#cbcbcb" stroke-width="0.9"/>
<rect x="268.65" y="502.78" width="7.1" height="42.83" fill="#efefef" stroke="#cbcbcb" stroke-width="0.9"/>
<line x1="226.7" y1="484.5" x2="226.7" y2="492.5" stroke="#b4b4b4" stroke-width="0.8"/>
<line x1="225.2" y1="484.5" x2="228.2" y2="484.5" stroke="#b4b4b4" stroke-width="0.8"/>
<line x1="225.2" y1="492.5" x2="228.2" y2="492.5" stroke="#b4b4b4" stroke-width="0.8"/>
<line x1="235.8" y1="477.08" x2="235.8" y2="489.64" stroke="#b4b4b4" stroke-width="0.8"/>
<line x1="234.3" y1="477.08" x2="237.3" y2="477.08" stroke="#b4b4b4" stroke-width="0.8"/>
<line x1="234.3" y1="489.64" x2="237.3" y2="489.64" stroke="#b4b4b4" stroke-width="0.8"/>
<line x1="244.9" y1="490.78" x2="244.9" y2="497.64" stroke="#b4b4b4" stroke-width="0.8"/>
<line x1="243.4" y1="490.78" x2="246.4" y2="490.78" stroke="#b4b4b4" stroke-width="0.8"/>
<line x1="243.4" y1="497.64" x2="246.4" y2="497.64" stroke="#b4b4b4" stroke-width="0.8"/>
<line x1="254" y1="483.93" x2="254" y2="493.07" stroke="#b4b4b4" stroke-width="0.8"/>
<line x1="252.5" y1="483.93" x2="255.5" y2="483.93" stroke="#b4b4b4" stroke-width="0.8"/>
<line x1="252.5" y1="493.07" x2="255.5" y2="493.07" stroke="#b4b4b4" stroke-width="0.8"/>
<line x1="263.1" y1="489.07" x2="263.1" y2="495.92" stroke="#b4b4b4" stroke-width="0.8"/>
<line x1="261.6" y1="489.07" x2="264.6" y2="489.07" stroke="#b4b4b4" stroke-width="0.8"/>
<line x1="261.6" y1="495.92" x2="264.6" y2="495.92" stroke="#b4b4b4" stroke-width="0.8"/>
<line x1="272.2" y1="496.49" x2="272.2" y2="509.06" stroke="#b4b4b4" stroke-width="0.8"/>
<line x1="270.7" y1="496.49" x2="273.7" y2="496.49" stroke="#b4b4b4" stroke-width="0.8"/>
<line x1="270.7" y1="509.06" x2="273.7" y2="509.06" stroke="#b4b4b4" stroke-width="0.8"/>
<circle cx="225" cy="483.93" r="1.5" fill="#fff" stroke="#b0002b" stroke-width="1.05"/>
<circle cx="227.1" cy="485.64" r="1.5" fill="#fff" stroke="#b0002b" stroke-width="1.05"/>
<circle cx="225.8" cy="488.5" r="1.5" fill="#fff" stroke="#b0002b" stroke-width="1.05"/>
<circle cx="227.9" cy="491.36" r="1.5" fill="#fff" stroke="#b0002b" stroke-width="1.05"/>
<circle cx="226.6" cy="493.07" r="1.5" fill="#fff" stroke="#b0002b" stroke-width="1.05"/>
<circle cx="225.31" cy="494.21" r="1.5" fill="#fff" stroke="#b0002b" stroke-width="1.05"/>
<circle cx="234.1" cy="473.65" r="1.5" fill="#fff" stroke="#b0002b" stroke-width="1.05"/>
<circle cx="236.2" cy="478.79" r="1.5" fill="#fff" stroke="#b0002b" stroke-width="1.05"/>
<circle cx="234.9" cy="482.79" r="1.5" fill="#fff" stroke="#b0002b" stroke-width="1.05"/>
<circle cx="237" cy="485.64" r="1.5" fill="#fff" stroke="#b0002b" stroke-width="1.05"/>
<circle cx="235.7" cy="488.5" r="1.5" fill="#fff" stroke="#b0002b" stroke-width="1.05"/>
<circle cx="234.41" cy="491.36" r="1.5" fill="#fff" stroke="#b0002b" stroke-width="1.05"/>
<circle cx="243.2" cy="491.36" r="1.5" fill="#fff" stroke="#b0002b" stroke-width="1.05"/>
<circle cx="245.3" cy="492.5" r="1.5" fill="#fff" stroke="#b0002b" stroke-width="1.05"/>
<circle cx="244" cy="495.35" r="1.5" fill="#fff" stroke="#b0002b" stroke-width="1.05"/>
<circle cx="246.1" cy="497.06" r="1.5" fill="#fff" stroke="#b0002b" stroke-width="1.05"/>
<circle cx="244.8" cy="498.21" r="1.5" fill="#fff" stroke="#b0002b" stroke-width="1.05"/>
<circle cx="243.51" cy="499.92" r="1.5" fill="#fff" stroke="#b0002b" stroke-width="1.05"/>
<circle cx="252.3" cy="483.93" r="1.5" fill="#fff" stroke="#2d57a0" stroke-width="1.05"/>
<circle cx="254.4" cy="485.64" r="1.5" fill="#fff" stroke="#2d57a0" stroke-width="1.05"/>
<circle cx="253.1" cy="487.36" r="1.5" fill="#fff" stroke="#2d57a0" stroke-width="1.05"/>
<circle cx="255.2" cy="493.07" r="1.5" fill="#fff" stroke="#2d57a0" stroke-width="1.05"/>
<circle cx="253.9" cy="494.21" r="1.5" fill="#fff" stroke="#2d57a0" stroke-width="1.05"/>
<circle cx="261.4" cy="486.79" r="1.5" fill="#fff" stroke="#2d57a0" stroke-width="1.05"/>
<circle cx="263.5" cy="488.5" r="1.5" fill="#fff" stroke="#2d57a0" stroke-width="1.05"/>
<circle cx="262.2" cy="491.36" r="1.5" fill="#fff" stroke="#2d57a0" stroke-width="1.05"/>
<circle cx="264.3" cy="494.21" r="1.5" fill="#fff" stroke="#2d57a0" stroke-width="1.05"/>
<circle cx="263" cy="495.92" r="1.5" fill="#fff" stroke="#2d57a0" stroke-width="1.05"/>
<circle cx="261.71" cy="498.21" r="1.5" fill="#fff" stroke="#2d57a0" stroke-width="1.05"/>
<circle cx="270.5" cy="498.21" r="1.5" fill="#fff" stroke="#2d57a0" stroke-width="1.05"/>
<circle cx="272.6" cy="501.06" r="1.5" fill="#fff" stroke="#2d57a0" stroke-width="1.05"/>
<circle cx="271.3" cy="502.78" r="1.5" fill="#fff" stroke="#2d57a0" stroke-width="1.05"/>
<circle cx="273.4" cy="504.49" r="1.5" fill="#fff" stroke="#2d57a0" stroke-width="1.05"/>
<circle cx="272.1" cy="506.77" r="1.5" fill="#fff" stroke="#2d57a0" stroke-width="1.05"/>
<circle cx="270.81" cy="510.2" r="1.5" fill="#fff" stroke="#2d57a0" stroke-width="1.05"/>
<circle cx="272.91" cy="518.19" r="1.5" fill="#fff" stroke="#2d57a0" stroke-width="1.05"/>
<polygon points="235.8,467.5 236.28,468.55 237.42,468.67 236.57,469.45 236.8,470.58 235.8,470.01 234.8,470.58 235.03,469.45 234.18,468.67 235.32,468.55" fill="#222"/>
<polygon points="244.9,478.4 245.38,479.45 246.52,479.57 245.67,480.35 245.9,481.48 244.9,480.91 243.9,481.48 244.13,480.35 243.28,479.57 244.42,479.45" fill="#222"/>
<polygon points="244.9,483.8 245.38,484.85 246.52,484.97 245.67,485.75 245.9,486.88 244.9,486.31 243.9,486.88 244.13,485.75 243.28,484.97 244.42,484.85" fill="#222"/>
<line x1="220.7" y1="472.2" x2="220.7" y2="546.2" stroke="#111" stroke-width="1.25"/>
<line x1="220.1" y1="545.6" x2="277.3" y2="545.6" stroke="#111" stroke-width="1.25"/>
<line x1="217.6" y1="545.6" x2="220.7" y2="545.6" stroke="#111" stroke-width="1.3"/>
<text x="213.4" y="548.2" font-size="8.7" fill="#1a1a1a" text-anchor="end" stroke="#1a1a1a" stroke-width="0.18">0</text>
<line x1="217.6" y1="517.05" x2="220.7" y2="517.05" stroke="#111" stroke-width="1.3"/>
<text x="213.4" y="519.65" font-size="8.7" fill="#1a1a1a" text-anchor="end" stroke="#1a1a1a" stroke-width="0.18">50</text>
<line x1="217.6" y1="488.5" x2="220.7" y2="488.5" stroke="#111" stroke-width="1.3"/>
<text x="213.4" y="491.1" font-size="8.7" fill="#1a1a1a" text-anchor="end" stroke="#1a1a1a" stroke-width="0.18">100</text>
<line x1="226.7" y1="545.6" x2="226.7" y2="548.8" stroke="#111" stroke-width="1.25"/>
<text x="229.9" y="558.3" font-size="6.9" fill="#1a1a1a" transform="rotate(-45 229.9 558.3)" text-anchor="end" stroke="#1a1a1a" stroke-width="0.18">0 nM</text>
<line x1="235.8" y1="545.6" x2="235.8" y2="548.8" stroke="#111" stroke-width="1.25"/>
<text x="239" y="558.3" font-size="6.9" fill="#1a1a1a" transform="rotate(-45 239 558.3)" text-anchor="end" stroke="#1a1a1a" stroke-width="0.18">100 nM</text>
<line x1="244.9" y1="545.6" x2="244.9" y2="548.8" stroke="#111" stroke-width="1.25"/>
<text x="248.1" y="558.3" font-size="6.9" fill="#1a1a1a" transform="rotate(-45 248.1 558.3)" text-anchor="end" stroke="#1a1a1a" stroke-width="0.18">1 µM</text>
<line x1="254" y1="545.6" x2="254" y2="548.8" stroke="#111" stroke-width="1.25"/>
<text x="257.2" y="558.3" font-size="6.9" fill="#1a1a1a" transform="rotate(-45 257.2 558.3)" text-anchor="end" stroke="#1a1a1a" stroke-width="0.18">0 nM</text>
<line x1="263.1" y1="545.6" x2="263.1" y2="548.8" stroke="#111" stroke-width="1.25"/>
<text x="266.3" y="558.3" font-size="6.9" fill="#1a1a1a" transform="rotate(-45 266.3 558.3)" text-anchor="end" stroke="#1a1a1a" stroke-width="0.18">100 nM</text>
<line x1="272.2" y1="545.6" x2="272.2" y2="548.8" stroke="#111" stroke-width="1.25"/>
<text x="275.4" y="558.3" font-size="6.9" fill="#1a1a1a" transform="rotate(-45 275.4 558.3)" text-anchor="end" stroke="#1a1a1a" stroke-width="0.18">1 µM</text>
<text x="249" y="466.4" font-size="10" fill="#1a1a1a" textLength="38.2" lengthAdjust="spacingAndGlyphs" text-anchor="middle" stroke="#1a1a1a" stroke-width="0.18">Imatinib</text>
<rect x="311.15" y="488.5" width="7.1" height="57.1" fill="#efefef" stroke="#cbcbcb" stroke-width="0.9"/>
<rect x="320.25" y="509.06" width="7.1" height="36.54" fill="#efefef" stroke="#cbcbcb" stroke-width="0.9"/>
<rect x="329.35" y="528.18" width="7.1" height="17.42" fill="#efefef" stroke="#cbcbcb" stroke-width="0.9"/>
<rect x="338.45" y="488.5" width="7.1" height="57.1" fill="#efefef" stroke="#cbcbcb" stroke-width="0.9"/>
<rect x="347.55" y="515.34" width="7.1" height="30.26" fill="#efefef" stroke="#cbcbcb" stroke-width="0.9"/>
<rect x="356.65" y="533.61" width="7.1" height="11.99" fill="#efefef" stroke="#cbcbcb" stroke-width="0.9"/>
<line x1="314.7" y1="484.5" x2="314.7" y2="492.5" stroke="#b4b4b4" stroke-width="0.8"/>
<line x1="313.2" y1="484.5" x2="316.2" y2="484.5" stroke="#b4b4b4" stroke-width="0.8"/>
<line x1="313.2" y1="492.5" x2="316.2" y2="492.5" stroke="#b4b4b4" stroke-width="0.8"/>
<line x1="323.8" y1="495.92" x2="323.8" y2="522.19" stroke="#b4b4b4" stroke-width="0.8"/>
<line x1="322.3" y1="495.92" x2="325.3" y2="495.92" stroke="#b4b4b4" stroke-width="0.8"/>
<line x1="322.3" y1="522.19" x2="325.3" y2="522.19" stroke="#b4b4b4" stroke-width="0.8"/>
<line x1="332.9" y1="517.05" x2="332.9" y2="539.32" stroke="#b4b4b4" stroke-width="0.8"/>
<line x1="331.4" y1="517.05" x2="334.4" y2="517.05" stroke="#b4b4b4" stroke-width="0.8"/>
<line x1="331.4" y1="539.32" x2="334.4" y2="539.32" stroke="#b4b4b4" stroke-width="0.8"/>
<line x1="342" y1="483.93" x2="342" y2="493.07" stroke="#b4b4b4" stroke-width="0.8"/>
<line x1="340.5" y1="483.93" x2="343.5" y2="483.93" stroke="#b4b4b4" stroke-width="0.8"/>
<line x1="340.5" y1="493.07" x2="343.5" y2="493.07" stroke="#b4b4b4" stroke-width="0.8"/>
<line x1="351.1" y1="510.2" x2="351.1" y2="520.48" stroke="#b4b4b4" stroke-width="0.8"/>
<line x1="349.6" y1="510.2" x2="352.6" y2="510.2" stroke="#b4b4b4" stroke-width="0.8"/>
<line x1="349.6" y1="520.48" x2="352.6" y2="520.48" stroke="#b4b4b4" stroke-width="0.8"/>
<line x1="360.2" y1="529.04" x2="360.2" y2="538.18" stroke="#b4b4b4" stroke-width="0.8"/>
<line x1="358.7" y1="529.04" x2="361.7" y2="529.04" stroke="#b4b4b4" stroke-width="0.8"/>
<line x1="358.7" y1="538.18" x2="361.7" y2="538.18" stroke="#b4b4b4" stroke-width="0.8"/>
<circle cx="313" cy="483.93" r="1.5" fill="#fff" stroke="#b0002b" stroke-width="1.05"/>
<circle cx="315.1" cy="486.22" r="1.5" fill="#fff" stroke="#b0002b" stroke-width="1.05"/>
<circle cx="313.8" cy="488.5" r="1.5" fill="#fff" stroke="#b0002b" stroke-width="1.05"/>
<circle cx="315.9" cy="490.21" r="1.5" fill="#fff" stroke="#b0002b" stroke-width="1.05"/>
<circle cx="314.6" cy="493.07" r="1.5" fill="#fff" stroke="#b0002b" stroke-width="1.05"/>
<circle cx="322.1" cy="492.5" r="1.5" fill="#fff" stroke="#b0002b" stroke-width="1.05"/>
<circle cx="324.2" cy="499.92" r="1.5" fill="#fff" stroke="#b0002b" stroke-width="1.05"/>
<circle cx="322.9" cy="503.92" r="1.5" fill="#fff" stroke="#b0002b" stroke-width="1.05"/>
<circle cx="325" cy="521.62" r="1.5" fill="#fff" stroke="#b0002b" stroke-width="1.05"/>
<circle cx="323.7" cy="522.19" r="1.5" fill="#fff" stroke="#b0002b" stroke-width="1.05"/>
<circle cx="331.2" cy="520.48" r="1.5" fill="#fff" stroke="#b0002b" stroke-width="1.05"/>
<circle cx="333.3" cy="521.62" r="1.5" fill="#fff" stroke="#b0002b" stroke-width="1.05"/>
<circle cx="332" cy="538.75" r="1.5" fill="#fff" stroke="#b0002b" stroke-width="1.05"/>
<circle cx="334.1" cy="539.32" r="1.5" fill="#fff" stroke="#b0002b" stroke-width="1.05"/>
<circle cx="340.3" cy="483.93" r="1.5" fill="#fff" stroke="#2d57a0" stroke-width="1.05"/>
<circle cx="342.4" cy="485.64" r="1.5" fill="#fff" stroke="#2d57a0" stroke-width="1.05"/>
<circle cx="341.1" cy="488.5" r="1.5" fill="#fff" stroke="#2d57a0" stroke-width="1.05"/>
<circle cx="343.2" cy="493.07" r="1.5" fill="#fff" stroke="#2d57a0" stroke-width="1.05"/>
<circle cx="341.9" cy="494.21" r="1.5" fill="#fff" stroke="#2d57a0" stroke-width="1.05"/>
<circle cx="340.61" cy="495.35" r="1.5" fill="#fff" stroke="#2d57a0" stroke-width="1.05"/>
<circle cx="349.4" cy="503.92" r="1.5" fill="#fff" stroke="#2d57a0" stroke-width="1.05"/>
<circle cx="351.5" cy="511.34" r="1.5" fill="#fff" stroke="#2d57a0" stroke-width="1.05"/>
<circle cx="350.2" cy="514.2" r="1.5" fill="#fff" stroke="#2d57a0" stroke-width="1.05"/>
<circle cx="352.3" cy="517.05" r="1.5" fill="#fff" stroke="#2d57a0" stroke-width="1.05"/>
<circle cx="351" cy="519.9" r="1.5" fill="#fff" stroke="#2d57a0" stroke-width="1.05"/>
<circle cx="349.71" cy="521.62" r="1.5" fill="#fff" stroke="#2d57a0" stroke-width="1.05"/>
<circle cx="351.81" cy="522.76" r="1.5" fill="#fff" stroke="#2d57a0" stroke-width="1.05"/>
<circle cx="358.5" cy="523.9" r="1.5" fill="#fff" stroke="#2d57a0" stroke-width="1.05"/>
<circle cx="360.6" cy="524.47" r="1.5" fill="#fff" stroke="#2d57a0" stroke-width="1.05"/>
<circle cx="359.3" cy="528.47" r="1.5" fill="#fff" stroke="#2d57a0" stroke-width="1.05"/>
<circle cx="361.4" cy="531.33" r="1.5" fill="#fff" stroke="#2d57a0" stroke-width="1.05"/>
<circle cx="360.1" cy="534.18" r="1.5" fill="#fff" stroke="#2d57a0" stroke-width="1.05"/>
<circle cx="358.81" cy="536.46" r="1.5" fill="#fff" stroke="#2d57a0" stroke-width="1.05"/>
<line x1="308.7" y1="472.2" x2="308.7" y2="546.2" stroke="#111" stroke-width="1.25"/>
<line x1="308.1" y1="545.6" x2="365.3" y2="545.6" stroke="#111" stroke-width="1.25"/>
<line x1="305.6" y1="545.6" x2="308.7" y2="545.6" stroke="#111" stroke-width="1.3"/>
<text x="301.4" y="548.2" font-size="8.7" fill="#1a1a1a" text-anchor="end" stroke="#1a1a1a" stroke-width="0.18">0</text>
<line x1="305.6" y1="517.05" x2="308.7" y2="517.05" stroke="#111" stroke-width="1.3"/>
<text x="301.4" y="519.65" font-size="8.7" fill="#1a1a1a" text-anchor="end" stroke="#1a1a1a" stroke-width="0.18">50</text>
<line x1="305.6" y1="488.5" x2="308.7" y2="488.5" stroke="#111" stroke-width="1.3"/>
<text x="301.4" y="491.1" font-size="8.7" fill="#1a1a1a" text-anchor="end" stroke="#1a1a1a" stroke-width="0.18">100</text>
<line x1="314.7" y1="545.6" x2="314.7" y2="548.8" stroke="#111" stroke-width="1.25"/>
<text x="317.9" y="558.3" font-size="6.9" fill="#1a1a1a" transform="rotate(-45 317.9 558.3)" text-anchor="end" stroke="#1a1a1a" stroke-width="0.18">0 nM</text>
<line x1="323.8" y1="545.6" x2="323.8" y2="548.8" stroke="#111" stroke-width="1.25"/>
<text x="327" y="558.3" font-size="6.9" fill="#1a1a1a" transform="rotate(-45 327 558.3)" text-anchor="end" stroke="#1a1a1a" stroke-width="0.18">100 nM</text>
<line x1="332.9" y1="545.6" x2="332.9" y2="548.8" stroke="#111" stroke-width="1.25"/>
<text x="336.1" y="558.3" font-size="6.9" fill="#1a1a1a" transform="rotate(-45 336.1 558.3)" text-anchor="end" stroke="#1a1a1a" stroke-width="0.18">1 µM</text>
<line x1="342" y1="545.6" x2="342" y2="548.8" stroke="#111" stroke-width="1.25"/>
<text x="345.2" y="558.3" font-size="6.9" fill="#1a1a1a" transform="rotate(-45 345.2 558.3)" text-anchor="end" stroke="#1a1a1a" stroke-width="0.18">0 nM</text>
<line x1="351.1" y1="545.6" x2="351.1" y2="548.8" stroke="#111" stroke-width="1.25"/>
<text x="354.3" y="558.3" font-size="6.9" fill="#1a1a1a" transform="rotate(-45 354.3 558.3)" text-anchor="end" stroke="#1a1a1a" stroke-width="0.18">100 nM</text>
<line x1="360.2" y1="545.6" x2="360.2" y2="548.8" stroke="#111" stroke-width="1.25"/>
<text x="363.4" y="558.3" font-size="6.9" fill="#1a1a1a" transform="rotate(-45 363.4 558.3)" text-anchor="end" stroke="#1a1a1a" stroke-width="0.18">1 µM</text>
<text x="337" y="466.4" font-size="10" fill="#1a1a1a" textLength="48.1" lengthAdjust="spacingAndGlyphs" text-anchor="middle" stroke="#1a1a1a" stroke-width="0.18">Rigosertib</text>
<text x="17" y="508.9" font-size="10" fill="#1a1a1a" textLength="60" lengthAdjust="spacingAndGlyphs" transform="rotate(-90 17 508.9)" text-anchor="middle" stroke="#1a1a1a" stroke-width="0.18">Cell viability (%)</text>
<text x="47.6" y="451.6" font-size="10" fill="#1a1a1a" textLength="41.5" lengthAdjust="spacingAndGlyphs" stroke="#1a1a1a" stroke-width="0.18">Patient 3</text>
<circle cx="219.2" cy="152.1" r="2.6" fill="#fff" stroke="#b0002b" stroke-width="1.1"/>
<text x="225.4" y="154.9" font-size="8.3" fill="#1a1a1a" textLength="25.6" lengthAdjust="spacingAndGlyphs" stroke="#1a1a1a" stroke-width="0.18">D816V</text>
<circle cx="263" cy="152.1" r="2.6" fill="#fff" stroke="#2d57a0" stroke-width="1.1"/>
<text x="269.2" y="154.9" font-size="8.3" fill="#1a1a1a" textLength="26.8" lengthAdjust="spacingAndGlyphs" stroke="#1a1a1a" stroke-width="0.18">Control</text>
<text x="385.6" y="162.3" font-size="12.5" fill="#000" font-weight="bold">C</text>
<text x="385.8" y="200.5" font-size="8.6" fill="#1a1a1a" textLength="20.1" lengthAdjust="spacingAndGlyphs" stroke="#1a1a1a" stroke-width="0.18">[kDa]</text>
<text x="423.6" y="201.7" font-size="9.3" fill="#1a1a1a" textLength="26.5" lengthAdjust="spacingAndGlyphs" transform="rotate(-45 423.6 201.7)" stroke="#1a1a1a" stroke-width="0.18">DMSO</text>
<text x="444" y="201.7" font-size="9.3" fill="#1a1a1a" textLength="46" lengthAdjust="spacingAndGlyphs" transform="rotate(-45 444 201.7)" stroke="#1a1a1a" stroke-width="0.18">Midostaurin</text>
<text x="463" y="201.7" font-size="9.3" fill="#1a1a1a" textLength="43" lengthAdjust="spacingAndGlyphs" transform="rotate(-45 463 201.7)" stroke="#1a1a1a" stroke-width="0.18">Nintedanib</text>
<rect x="413" y="206.5" width="59.1" height="21.6" fill="#dadada" stroke="none" stroke-width="0"/>
<rect x="415.1" y="213.75" width="17" height="9.5" rx="2" fill="#8a8a8a" opacity="1" filter="url(#b1)"/>
<rect x="434.1" y="213.75" width="17" height="9.5" rx="2" fill="#d3d3d3" opacity="1" filter="url(#b1)"/>
<rect x="453.5" y="213.75" width="17" height="9.5" rx="2" fill="#d8d8d8" opacity="1" filter="url(#b1)"/>
<rect x="415.1" y="213.7" width="17" height="3.4" rx="1.7" fill="#474747" opacity="1" filter="url(#b1)"/>
<rect x="434.1" y="213.7" width="17" height="3.4" rx="1.7" fill="#bdbdbd" opacity="1" filter="url(#b1)"/>
<rect x="453.5" y="213.7" width="17" height="3.4" rx="1.7" fill="#cfcfcf" opacity="1" filter="url(#b1)"/>
<rect x="415.1" y="219.8" width="17" height="3.6" rx="1.8" fill="#505050" opacity="1" filter="url(#b1)"/>
<rect x="434.1" y="219.8" width="17" height="3.6" rx="1.8" fill="#c6c6c6" opacity="1" filter="url(#b1)"/>
<rect x="453.5" y="219.8" width="17" height="3.6" rx="1.8" fill="#d1d1d1" opacity="1" filter="url(#b1)"/>
<rect x="413" y="206.5" width="59.1" height="21.6" fill="none" stroke="#3c3c3c" stroke-width="1.35"/>
<text x="476" y="223.5" font-size="8.3" fill="#1a1a1a" textLength="24.6" lengthAdjust="spacingAndGlyphs" stroke="#1a1a1a" stroke-width="0.18">pY-KIT</text>
<rect x="413" y="229.4" width="59.1" height="18" fill="#e3e3e3" stroke="none" stroke-width="0"/>
<rect x="431.8" y="229.4" width="2.4" height="18" fill="#f4f4f4" stroke="none" stroke-width="0" filter="url(#b1)"/>
<rect x="451.4" y="229.4" width="2.4" height="18" fill="#f4f4f4" stroke="none" stroke-width="0" filter="url(#b1)"/>
<rect x="415.1" y="233.1" width="17" height="3.4" rx="1.7" fill="#a2a2a2" opacity="1" filter="url(#b1)"/>
<rect x="434.1" y="233.1" width="17" height="3.4" rx="1.7" fill="#707070" opacity="1" filter="url(#b1)"/>
<rect x="453.5" y="233.1" width="17" height="3.4" rx="1.7" fill="#7e7e7e" opacity="1" filter="url(#b1)"/>
<rect x="415.1" y="240.8" width="17" height="3.6" rx="1.8" fill="#9c9c9c" opacity="1" filter="url(#b1)"/>
<rect x="434.1" y="240.8" width="17" height="3.6" rx="1.8" fill="#686868" opacity="1" filter="url(#b1)"/>
<rect x="453.5" y="240.8" width="17" height="3.6" rx="1.8" fill="#727272" opacity="1" filter="url(#b1)"/>
<rect x="413" y="229.4" width="59.1" height="18" fill="none" stroke="#3c3c3c" stroke-width="1.35"/>
<text x="476" y="242.7" font-size="8.3" fill="#1a1a1a" textLength="12.3" lengthAdjust="spacingAndGlyphs" stroke="#1a1a1a" stroke-width="0.18">KIT</text>
<rect x="413" y="249.1" width="59.1" height="21.5" fill="#d4d4d4" stroke="none" stroke-width="0"/>
<rect x="415.1" y="255.3" width="17" height="9" rx="2" fill="#a4a4a4" opacity="1" filter="url(#b1)"/>
<rect x="434.1" y="255.3" width="17" height="9" rx="2" fill="#cecece" opacity="1" filter="url(#b1)"/>
<rect x="453.5" y="255.3" width="17" height="9" rx="2" fill="#cecece" opacity="1" filter="url(#b1)"/>
<rect x="415.1" y="255.8" width="17" height="2.8" rx="1.4" fill="#333" opacity="1" filter="url(#b1)"/>
<rect x="434.1" y="255.8" width="17" height="2.8" rx="1.4" fill="#c8c8c8" opacity="1" filter="url(#b1)"/>
<rect x="453.5" y="255.8" width="17" height="2.8" rx="1.4" fill="#c9c9c9" opacity="1" filter="url(#b1)"/>
<rect x="415.1" y="260.9" width="17" height="2.8" rx="1.4" fill="#2e2e2e" opacity="1" filter="url(#b1)"/>
<rect x="434.1" y="260.9" width="17" height="2.8" rx="1.4" fill="#c6c6c6" opacity="1" filter="url(#b1)"/>
<rect x="453.5" y="260.9" width="17" height="2.8" rx="1.4" fill="#c6c6c6" opacity="1" filter="url(#b1)"/>
<rect x="413" y="249.1" width="59.1" height="21.5" fill="none" stroke="#3c3c3c" stroke-width="1.35"/>
<text x="476" y="265.3" font-size="8.3" fill="#1a1a1a" textLength="36.3" lengthAdjust="spacingAndGlyphs" stroke="#1a1a1a" stroke-width="0.18">pY-STAT3</text>
<rect x="413" y="272" width="59.1" height="18.4" fill="#e5e5e5" stroke="none" stroke-width="0"/>
<rect x="415.1" y="277.4" width="17" height="2.4" rx="1.2" fill="#ababab" opacity="1" filter="url(#b1)"/>
<rect x="434.1" y="277.4" width="17" height="2.4" rx="1.2" fill="#7c7c7c" opacity="1" filter="url(#b1)"/>
<rect x="453.5" y="277.4" width="17" height="2.4" rx="1.2" fill="#555" opacity="1" filter="url(#b1)"/>
<rect x="415.1" y="281.35" width="17" height="4.3" rx="2" fill="#111" opacity="1" filter="url(#b1)"/>
<rect x="434.1" y="281.35" width="17" height="4.3" rx="2" fill="#0c0c0c" opacity="1" filter="url(#b1)"/>
<rect x="453.5" y="281.35" width="17" height="4.3" rx="2" fill="#0c0c0c" opacity="1" filter="url(#b1)"/>
<rect x="413" y="272" width="59.1" height="18.4" fill="none" stroke="#3c3c3c" stroke-width="1.35"/>
<text x="476" y="287.8" font-size="8.3" fill="#1a1a1a" textLength="24.3" lengthAdjust="spacingAndGlyphs" stroke="#1a1a1a" stroke-width="0.18">STAT3</text>
<rect x="413" y="292.3" width="59.1" height="17.1" fill="#bfbfbf" stroke="none" stroke-width="0"/>
<rect x="415.1" y="298.55" width="17" height="3.5" rx="1.75" fill="#2a2a2a" opacity="1" filter="url(#b1)"/>
<rect x="434.1" y="298.55" width="17" height="3.5" rx="1.75" fill="#4a4a4a" opacity="1" filter="url(#b1)"/>
<rect x="453.5" y="298.55" width="17" height="3.5" rx="1.75" fill="#363636" opacity="1" filter="url(#b1)"/>
<rect x="413" y="292.3" width="59.1" height="17.1" fill="none" stroke="#3c3c3c" stroke-width="1.35"/>
<text x="476" y="305.3" font-size="8.3" fill="#1a1a1a" textLength="29.7" lengthAdjust="spacingAndGlyphs" stroke="#1a1a1a" stroke-width="0.18">pS-AKT</text>
<rect x="413" y="310.8" width="59.1" height="21" fill="#e8e8e8" stroke="none" stroke-width="0"/>
<rect x="415.1" y="315.5" width="17" height="4.2" rx="2" fill="#7e7e7e" opacity="1" filter="url(#b1)"/>
<rect x="434.1" y="315.5" width="17" height="4.2" rx="2" fill="#7a7a7a" opacity="1" filter="url(#b1)"/>
<rect x="453.5" y="315.5" width="17" height="4.2" rx="2" fill="#4e4e4e" opacity="1" filter="url(#b1)"/>
<rect x="415.1" y="324.8" width="17" height="3.6" rx="1.8" fill="#b0b0b0" opacity="1" filter="url(#b1)"/>
<rect x="434.1" y="324.8" width="17" height="3.6" rx="1.8" fill="#b4b4b4" opacity="1" filter="url(#b1)"/>
<rect x="453.5" y="324.8" width="17" height="3.6" rx="1.8" fill="#9a9a9a" opacity="1" filter="url(#b1)"/>
<rect x="413" y="310.8" width="59.1" height="21" fill="none" stroke="#3c3c3c" stroke-width="1.35"/>
<text x="476" y="327" font-size="8.3" fill="#1a1a1a" textLength="16.5" lengthAdjust="spacingAndGlyphs" stroke="#1a1a1a" stroke-width="0.18">AKT</text>
<rect x="413" y="333.9" width="59.1" height="13.4" fill="#ececec" stroke="none" stroke-width="0"/>
<rect x="415.1" y="337.5" width="17" height="1.8" rx="0.9" fill="#8a8a8a" opacity="1" filter="url(#b1)"/>
<rect x="434.1" y="337.5" width="17" height="1.8" rx="0.9" fill="#8a8a8a" opacity="1" filter="url(#b1)"/>
<rect x="453.5" y="337.5" width="17" height="1.8" rx="0.9" fill="#dadada" opacity="1" filter="url(#b1)"/>
<rect x="415.1" y="340.45" width="17" height="3.3" rx="1.65" fill="#111" opacity="1" filter="url(#b1)"/>
<rect x="434.1" y="340.45" width="17" height="3.3" rx="1.65" fill="#141414" opacity="1" filter="url(#b1)"/>
<rect x="453.5" y="340.45" width="17" height="3.3" rx="1.65" fill="#9a9a9a" opacity="1" filter="url(#b1)"/>
<rect x="413" y="333.9" width="59.1" height="13.4" fill="none" stroke="#3c3c3c" stroke-width="1.35"/>
<text x="476" y="346.6" font-size="8.3" fill="#1a1a1a" textLength="33.6" lengthAdjust="spacingAndGlyphs" stroke="#1a1a1a" stroke-width="0.18">pTY-ERK</text>
<rect x="413" y="348.9" width="59.1" height="13.6" fill="#e3e3e3" stroke="none" stroke-width="0"/>
<rect x="415.1" y="353" width="17" height="2.8" rx="1.4" fill="#5a5a5a" opacity="1" filter="url(#b1)"/>
<rect x="434.1" y="353" width="17" height="2.8" rx="1.4" fill="#363636" opacity="1" filter="url(#b1)"/>
<rect x="453.5" y="353" width="17" height="2.8" rx="1.4" fill="#444" opacity="1" filter="url(#b1)"/>
<rect x="415.1" y="357" width="17" height="3.4" rx="1.7" fill="#111" opacity="1" filter="url(#b1)"/>
<rect x="434.1" y="357" width="17" height="3.4" rx="1.7" fill="#0c0c0c" opacity="1" filter="url(#b1)"/>
<rect x="453.5" y="357" width="17" height="3.4" rx="1.7" fill="#111" opacity="1" filter="url(#b1)"/>
<rect x="413" y="348.9" width="59.1" height="13.6" fill="none" stroke="#3c3c3c" stroke-width="1.35"/>
<text x="476" y="362.1" font-size="8.3" fill="#1a1a1a" textLength="28.9" lengthAdjust="spacingAndGlyphs" stroke="#1a1a1a" stroke-width="0.18">ERK1/2</text>
<rect x="413" y="364.4" width="59.1" height="16.1" fill="#ededed" stroke="none" stroke-width="0"/>
<rect x="415.1" y="371.1" width="17" height="4" rx="2" fill="#0e0e0e" opacity="1" filter="url(#b1)"/>
<rect x="434.1" y="371.1" width="17" height="4" rx="2" fill="#0e0e0e" opacity="1" filter="url(#b1)"/>
<rect x="453.5" y="371.1" width="17" height="4" rx="2" fill="#0e0e0e" opacity="1" filter="url(#b1)"/>
<rect x="413" y="364.4" width="59.1" height="16.1" fill="none" stroke="#3c3c3c" stroke-width="1.35"/>
<text x="476" y="378" font-size="8.3" fill="#1a1a1a" textLength="30.9" lengthAdjust="spacingAndGlyphs" stroke="#1a1a1a" stroke-width="0.18">GAPDH</text>
<text x="400" y="215.1" font-size="8.6" fill="#1a1a1a" text-anchor="end" stroke="#1a1a1a" stroke-width="0.18">170</text>
<line x1="403.2" y1="212.5" x2="410.6" y2="212.5" stroke="#333" stroke-width="1.05"/>
<text x="400" y="227.2" font-size="8.6" fill="#1a1a1a" text-anchor="end" stroke="#1a1a1a" stroke-width="0.18">130</text>
<line x1="403.2" y1="226.4" x2="410.6" y2="226.4" stroke="#333" stroke-width="1.05"/>
<text x="400" y="234.3" font-size="8.6" fill="#1a1a1a" text-anchor="end" stroke="#1a1a1a" stroke-width="0.18">170</text>
<line x1="403.2" y1="230.4" x2="410.6" y2="230.4" stroke="#333" stroke-width="1.05"/>
<text x="400" y="246.8" font-size="8.6" fill="#1a1a1a" text-anchor="end" stroke="#1a1a1a" stroke-width="0.18">130</text>
<line x1="403.2" y1="247.4" x2="410.6" y2="247.4" stroke="#333" stroke-width="1.05"/>
<text x="400" y="259.8" font-size="8.6" fill="#1a1a1a" text-anchor="end" stroke="#1a1a1a" stroke-width="0.18">100</text>
<line x1="403.2" y1="254.6" x2="410.6" y2="254.6" stroke="#333" stroke-width="1.05"/>
<text x="400" y="270.7" font-size="8.6" fill="#1a1a1a" text-anchor="end" stroke="#1a1a1a" stroke-width="0.18">70</text>
<line x1="403.2" y1="269.9" x2="410.6" y2="269.9" stroke="#333" stroke-width="1.05"/>
<text x="400" y="279.6" font-size="8.6" fill="#1a1a1a" text-anchor="end" stroke="#1a1a1a" stroke-width="0.18">100</text>
<line x1="403.2" y1="275.5" x2="410.6" y2="275.5" stroke="#333" stroke-width="1.05"/>
<text x="400" y="290.9" font-size="8.6" fill="#1a1a1a" text-anchor="end" stroke="#1a1a1a" stroke-width="0.18">70</text>
<line x1="403.2" y1="290.5" x2="410.6" y2="290.5" stroke="#333" stroke-width="1.05"/>
<text x="400" y="298.8" font-size="8.6" fill="#1a1a1a" text-anchor="end" stroke="#1a1a1a" stroke-width="0.18">70</text>
<line x1="403.2" y1="295.9" x2="410.6" y2="295.9" stroke="#333" stroke-width="1.05"/>
<text x="400" y="317.3" font-size="8.6" fill="#1a1a1a" text-anchor="end" stroke="#1a1a1a" stroke-width="0.18">70</text>
<line x1="403.2" y1="314.1" x2="410.6" y2="314.1" stroke="#333" stroke-width="1.05"/>
<text x="400" y="350.5" font-size="8.6" fill="#1a1a1a" text-anchor="end" stroke="#1a1a1a" stroke-width="0.18">40</text>
<line x1="403.2" y1="348.4" x2="410.6" y2="348.4" stroke="#333" stroke-width="1.05"/>
<text x="400" y="364.6" font-size="8.6" fill="#1a1a1a" text-anchor="end" stroke="#1a1a1a" stroke-width="0.18">40</text>
<line x1="403.2" y1="363.6" x2="410.6" y2="363.6" stroke="#333" stroke-width="1.05"/>
<text x="400" y="372.2" font-size="8.6" fill="#1a1a1a" text-anchor="end" stroke="#1a1a1a" stroke-width="0.18">40</text>
<line x1="403.2" y1="368.4" x2="410.6" y2="368.4" stroke="#333" stroke-width="1.05"/>
<text x="8.3" y="603.8" font-size="12.5" fill="#000" font-weight="bold">D</text>
<line x1="44.4" y1="606.8" x2="44.4" y2="692.9" stroke="#111" stroke-width="1.25"/>
<line x1="43.8" y1="689.9" x2="151" y2="689.9" stroke="#111" stroke-width="1.25"/>
<line x1="41.2" y1="689.9" x2="44.4" y2="689.9" stroke="#111" stroke-width="1.3"/>
<text x="36.8" y="692.6" font-size="8.7" fill="#1a1a1a" text-anchor="end" stroke="#1a1a1a" stroke-width="0.18">0</text>
<line x1="41.2" y1="660.55" x2="44.4" y2="660.55" stroke="#111" stroke-width="1.3"/>
<text x="36.8" y="663.25" font-size="8.7" fill="#1a1a1a" text-anchor="end" stroke="#1a1a1a" stroke-width="0.18">50</text>
<line x1="41.2" y1="631.2" x2="44.4" y2="631.2" stroke="#111" stroke-width="1.3"/>
<text x="36.8" y="633.9" font-size="8.7" fill="#1a1a1a" text-anchor="end" stroke="#1a1a1a" stroke-width="0.18">100</text>
<line x1="63.2" y1="689.9" x2="63.2" y2="693.1" stroke="#111" stroke-width="1.3"/>
<text x="66.8" y="702.9" font-size="8.6" fill="#1a1a1a" transform="rotate(-45 66.8 702.9)" text-anchor="end" stroke="#1a1a1a" stroke-width="0.18">1 nM</text>
<line x1="82.75" y1="689.9" x2="82.75" y2="693.1" stroke="#111" stroke-width="1.3"/>
<text x="86.35" y="702.9" font-size="8.6" fill="#1a1a1a" transform="rotate(-45 86.35 702.9)" text-anchor="end" stroke="#1a1a1a" stroke-width="0.18">10 nM</text>
<line x1="102.3" y1="689.9" x2="102.3" y2="693.1" stroke="#111" stroke-width="1.3"/>
<text x="105.9" y="702.9" font-size="8.6" fill="#1a1a1a" transform="rotate(-45 105.9 702.9)" text-anchor="end" stroke="#1a1a1a" stroke-width="0.18">100 nM</text>
<line x1="121.85" y1="689.9" x2="121.85" y2="693.1" stroke="#111" stroke-width="1.3"/>
<text x="125.45" y="702.9" font-size="8.6" fill="#1a1a1a" transform="rotate(-45 125.45 702.9)" text-anchor="end" stroke="#1a1a1a" stroke-width="0.18">1 µM</text>
<line x1="141.4" y1="689.9" x2="141.4" y2="693.1" stroke="#111" stroke-width="1.3"/>
<text x="145" y="702.9" font-size="8.6" fill="#1a1a1a" transform="rotate(-45 145 702.9)" text-anchor="end" stroke="#1a1a1a" stroke-width="0.18">10 µM</text>
<text x="16.8" y="654.9" font-size="10" fill="#1a1a1a" textLength="59.9" lengthAdjust="spacingAndGlyphs" transform="rotate(-90 16.8 654.9)" text-anchor="middle" stroke="#1a1a1a" stroke-width="0.18">Cell viability (%)</text>
<path d="M44.4,631.31 L45.61,631.33 L46.82,631.35 L48.04,631.37 L49.25,631.4 L50.46,631.43 L51.67,631.47 L52.89,631.51 L54.1,631.56 L55.31,631.61 L56.52,631.67 L57.74,631.74 L58.95,631.83 L60.16,631.92 L61.38,632.03 L62.59,632.16 L63.8,632.3 L65.01,632.46 L66.22,632.65 L67.44,632.87 L68.65,633.12 L69.86,633.4 L71.08,633.73 L72.29,634.09 L73.5,634.51 L74.71,634.99 L75.92,635.53 L77.14,636.14 L78.35,636.82 L79.56,637.59 L80.78,638.45 L81.99,639.41 L83.2,640.47 L84.41,641.64 L85.62,642.92 L86.84,644.32 L88.05,645.83 L89.26,647.45 L90.47,649.18 L91.69,651.01 L92.9,652.93 L94.11,654.92 L95.32,656.96 L96.54,659.04 L97.75,661.13 L98.96,663.22 L100.17,665.28 L101.39,667.3 L102.6,669.25 L103.81,671.12 L105.03,672.89 L106.24,674.56 L107.45,676.13 L108.66,677.57 L109.88,678.91 L111.09,680.13 L112.3,681.24 L113.51,682.24 L114.72,683.14 L115.94,683.95 L117.15,684.67 L118.36,685.31 L119.57,685.88 L120.79,686.38 L122,686.83 L123.21,687.22 L124.43,687.56 L125.64,687.86 L126.85,688.12 L128.06,688.35 L129.28,688.55 L130.49,688.73 L131.7,688.88 L132.91,689.02 L134.12,689.13 L135.34,689.23 L136.55,689.32 L137.76,689.4 L138.97,689.46 L140.19,689.52 L141.4,689.57" stroke="#b0002b" stroke-width="1.45" fill="none" stroke-dasharray="4,2.4"/>
<path d="M44.4,631.49 L45.61,631.53 L46.82,631.58 L48.04,631.64 L49.25,631.7 L50.46,631.78 L51.67,631.87 L52.89,631.97 L54.1,632.08 L55.31,632.22 L56.52,632.37 L57.74,632.55 L58.95,632.75 L60.16,632.98 L61.38,633.24 L62.59,633.54 L63.8,633.89 L65.01,634.28 L66.22,634.72 L67.44,635.22 L68.65,635.79 L69.86,636.43 L71.08,637.16 L72.29,637.97 L73.5,638.87 L74.71,639.87 L75.92,640.98 L77.14,642.2 L78.35,643.53 L79.56,644.98 L80.78,646.55 L81.99,648.22 L83.2,650 L84.41,651.86 L85.62,653.81 L86.84,655.83 L88.05,657.89 L89.26,659.98 L90.47,662.07 L91.69,664.15 L92.9,666.2 L94.11,668.18 L95.32,670.1 L96.54,671.93 L97.75,673.66 L98.96,675.28 L100.17,676.79 L101.39,678.19 L102.6,679.47 L103.81,680.64 L105.03,681.7 L106.24,682.66 L107.45,683.51 L108.66,684.28 L109.88,684.97 L111.09,685.58 L112.3,686.11 L113.51,686.59 L114.72,687.01 L115.94,687.38 L117.15,687.7 L118.36,687.98 L119.57,688.23 L120.79,688.45 L122,688.64 L123.21,688.8 L124.43,688.95 L125.64,689.07 L126.85,689.18 L128.06,689.27 L129.28,689.36 L130.49,689.43 L131.7,689.49 L132.91,689.55 L134.12,689.59 L135.34,689.63 L136.55,689.67 L137.76,689.7 L138.97,689.73 L140.19,689.75 L141.4,689.77" stroke="#b0002b" stroke-width="1.45" fill="none"/>
<path d="M44.4,631.2 L45.61,631.2 L46.82,631.2 L48.04,631.2 L49.25,631.2 L50.46,631.2 L51.67,631.2 L52.89,631.2 L54.1,631.2 L55.31,631.2 L56.52,631.2 L57.74,631.2 L58.95,631.2 L60.16,631.2 L61.38,631.2 L62.59,631.2 L63.8,631.2 L65.01,631.2 L66.22,631.2 L67.44,631.2 L68.65,631.2 L69.86,631.2 L71.08,631.2 L72.29,631.2 L73.5,631.2 L74.71,631.2 L75.92,631.2 L77.14,631.2 L78.35,631.2 L79.56,631.2 L80.78,631.2 L81.99,631.2 L83.2,631.2 L84.41,631.2 L85.62,631.2 L86.84,631.2 L88.05,631.2 L89.26,631.2 L90.47,631.2 L91.69,631.2 L92.9,631.2 L94.11,631.2 L95.32,631.2 L96.54,631.2 L97.75,631.2 L98.96,631.2 L100.17,631.2 L101.39,631.2 L102.6,631.2 L103.81,631.2 L105.03,631.2 L106.24,631.2 L107.45,631.2 L108.66,631.2 L109.88,631.2 L111.09,631.2 L112.3,631.2 L113.51,631.2 L114.72,631.2 L115.94,631.2 L117.15,631.2 L118.36,631.2 L119.57,631.2 L120.79,631.2 L122,631.2 L123.21,631.2 L124.43,631.21 L125.64,631.22 L126.85,631.26 L128.06,631.33 L129.28,631.51 L130.49,631.91 L131.7,632.86 L132.91,634.96 L134.12,639.35 L135.34,647.35 L136.55,658.91 L137.76,671.01 L138.97,680.06 L140.19,685.27 L141.4,687.84" stroke="#22427f" stroke-width="1.45" fill="none" stroke-dasharray="4,2.4"/>
<path d="M44.4,631.2 L45.61,631.2 L46.82,631.2 L48.04,631.2 L49.25,631.2 L50.46,631.2 L51.67,631.2 L52.89,631.2 L54.1,631.2 L55.31,631.2 L56.52,631.2 L57.74,631.2 L58.95,631.2 L60.16,631.2 L61.38,631.2 L62.59,631.2 L63.8,631.2 L65.01,631.2 L66.22,631.2 L67.44,631.2 L68.65,631.2 L69.86,631.2 L71.08,631.2 L72.29,631.2 L73.5,631.2 L74.71,631.2 L75.92,631.2 L77.14,631.2 L78.35,631.2 L79.56,631.2 L80.78,631.2 L81.99,631.2 L83.2,631.2 L84.41,631.2 L85.62,631.2 L86.84,631.2 L88.05,631.2 L89.26,631.2 L90.47,631.2 L91.69,631.2 L92.9,631.2 L94.11,631.2 L95.32,631.2 L96.54,631.2 L97.75,631.2 L98.96,631.2 L100.17,631.2 L101.39,631.2 L102.6,631.2 L103.81,631.2 L105.03,631.2 L106.24,631.2 L107.45,631.2 L108.66,631.2 L109.88,631.2 L111.09,631.2 L112.3,631.2 L113.51,631.2 L114.72,631.2 L115.94,631.2 L117.15,631.2 L118.36,631.2 L119.57,631.2 L120.79,631.2 L122,631.2 L123.21,631.2 L124.43,631.21 L125.64,631.22 L126.85,631.24 L128.06,631.3 L129.28,631.43 L130.49,631.74 L131.7,632.47 L132.91,634.1 L134.12,637.59 L135.34,644.33 L136.55,654.93 L137.76,667.31 L138.97,677.58 L140.19,683.95 L141.4,687.22" stroke="#22427f" stroke-width="1.45" fill="none"/>
<line x1="63.2" y1="624.16" x2="63.2" y2="644.11" stroke="#b0002b" stroke-width="1"/>
<line x1="61.2" y1="624.16" x2="65.2" y2="624.16" stroke="#b0002b" stroke-width="1"/>
<line x1="61.2" y1="644.11" x2="65.2" y2="644.11" stroke="#b0002b" stroke-width="1"/>
<line x1="63.2" y1="615.35" x2="63.2" y2="624.16" stroke="#b0002b" stroke-width="1"/>
<line x1="61.2" y1="615.35" x2="65.2" y2="615.35" stroke="#b0002b" stroke-width="1"/>
<line x1="61.2" y1="624.16" x2="65.2" y2="624.16" stroke="#b0002b" stroke-width="1"/>
<line x1="63.2" y1="618.87" x2="63.2" y2="626.5" stroke="#22427f" stroke-width="1"/>
<line x1="61.2" y1="618.87" x2="65.2" y2="618.87" stroke="#22427f" stroke-width="1"/>
<line x1="61.2" y1="626.5" x2="65.2" y2="626.5" stroke="#22427f" stroke-width="1"/>
<line x1="63.2" y1="622.4" x2="63.2" y2="634.13" stroke="#22427f" stroke-width="1"/>
<line x1="61.2" y1="622.4" x2="65.2" y2="622.4" stroke="#22427f" stroke-width="1"/>
<line x1="61.2" y1="634.13" x2="65.2" y2="634.13" stroke="#22427f" stroke-width="1"/>
<line x1="82.75" y1="641.18" x2="82.75" y2="660.55" stroke="#b0002b" stroke-width="1"/>
<line x1="80.75" y1="641.18" x2="84.75" y2="641.18" stroke="#b0002b" stroke-width="1"/>
<line x1="80.75" y1="660.55" x2="84.75" y2="660.55" stroke="#b0002b" stroke-width="1"/>
<line x1="82.75" y1="634.72" x2="82.75" y2="640.59" stroke="#b0002b" stroke-width="1"/>
<line x1="80.75" y1="634.72" x2="84.75" y2="634.72" stroke="#b0002b" stroke-width="1"/>
<line x1="80.75" y1="640.59" x2="84.75" y2="640.59" stroke="#b0002b" stroke-width="1"/>
<line x1="82.75" y1="621.22" x2="82.75" y2="628.27" stroke="#22427f" stroke-width="1"/>
<line x1="80.75" y1="621.22" x2="84.75" y2="621.22" stroke="#22427f" stroke-width="1"/>
<line x1="80.75" y1="628.27" x2="84.75" y2="628.27" stroke="#22427f" stroke-width="1"/>
<line x1="82.75" y1="608.89" x2="82.75" y2="635.31" stroke="#22427f" stroke-width="1"/>
<line x1="80.75" y1="608.89" x2="84.75" y2="608.89" stroke="#22427f" stroke-width="1"/>
<line x1="80.75" y1="635.31" x2="84.75" y2="635.31" stroke="#22427f" stroke-width="1"/>
<line x1="102.3" y1="679.33" x2="102.3" y2="681.68" stroke="#b0002b" stroke-width="1"/>
<line x1="100.3" y1="679.33" x2="104.3" y2="679.33" stroke="#b0002b" stroke-width="1"/>
<line x1="100.3" y1="681.68" x2="104.3" y2="681.68" stroke="#b0002b" stroke-width="1"/>
<line x1="102.3" y1="666.42" x2="102.3" y2="668.77" stroke="#b0002b" stroke-width="1"/>
<line x1="100.3" y1="666.42" x2="104.3" y2="666.42" stroke="#b0002b" stroke-width="1"/>
<line x1="100.3" y1="668.77" x2="104.3" y2="668.77" stroke="#b0002b" stroke-width="1"/>
<line x1="102.3" y1="622.98" x2="102.3" y2="632.37" stroke="#22427f" stroke-width="1"/>
<line x1="100.3" y1="622.98" x2="104.3" y2="622.98" stroke="#22427f" stroke-width="1"/>
<line x1="100.3" y1="632.37" x2="104.3" y2="632.37" stroke="#22427f" stroke-width="1"/>
<line x1="102.3" y1="625.33" x2="102.3" y2="631.2" stroke="#22427f" stroke-width="1"/>
<line x1="100.3" y1="625.33" x2="104.3" y2="625.33" stroke="#22427f" stroke-width="1"/>
<line x1="100.3" y1="631.2" x2="104.3" y2="631.2" stroke="#22427f" stroke-width="1"/>
<line x1="121.85" y1="618.29" x2="121.85" y2="632.37" stroke="#22427f" stroke-width="1"/>
<line x1="119.85" y1="618.29" x2="123.85" y2="618.29" stroke="#22427f" stroke-width="1"/>
<line x1="119.85" y1="632.37" x2="123.85" y2="632.37" stroke="#22427f" stroke-width="1"/>
<line x1="121.85" y1="608.89" x2="121.85" y2="644.11" stroke="#22427f" stroke-width="1"/>
<line x1="119.85" y1="608.89" x2="123.85" y2="608.89" stroke="#22427f" stroke-width="1"/>
<line x1="119.85" y1="644.11" x2="123.85" y2="644.11" stroke="#22427f" stroke-width="1"/>
<line x1="141.4" y1="683.44" x2="141.4" y2="686.97" stroke="#22427f" stroke-width="1"/>
<line x1="139.4" y1="683.44" x2="143.4" y2="683.44" stroke="#22427f" stroke-width="1"/>
<line x1="139.4" y1="686.97" x2="143.4" y2="686.97" stroke="#22427f" stroke-width="1"/>
<line x1="141.4" y1="681.68" x2="141.4" y2="686.38" stroke="#22427f" stroke-width="1"/>
<line x1="139.4" y1="681.68" x2="143.4" y2="681.68" stroke="#22427f" stroke-width="1"/>
<line x1="139.4" y1="686.38" x2="143.4" y2="686.38" stroke="#22427f" stroke-width="1"/>
<circle cx="63.2" cy="632.96" r="1.7" fill="#b0002b" stroke="none" stroke-width="0"/>
<circle cx="63.2" cy="620.05" r="1.75" fill="#fff" stroke="#b0002b" stroke-width="1.2"/>
<circle cx="63.2" cy="622.4" r="1.7" fill="#22427f" stroke="none" stroke-width="0"/>
<circle cx="63.2" cy="627.09" r="1.75" fill="#fff" stroke="#22427f" stroke-width="1.2"/>
<circle cx="82.75" cy="650.57" r="1.7" fill="#b0002b" stroke="none" stroke-width="0"/>
<circle cx="82.75" cy="637.66" r="1.75" fill="#fff" stroke="#b0002b" stroke-width="1.2"/>
<circle cx="82.75" cy="624.74" r="1.7" fill="#22427f" stroke="none" stroke-width="0"/>
<circle cx="82.75" cy="621.81" r="1.75" fill="#fff" stroke="#22427f" stroke-width="1.2"/>
<circle cx="102.3" cy="680.51" r="1.7" fill="#b0002b" stroke="none" stroke-width="0"/>
<circle cx="102.3" cy="667.59" r="1.75" fill="#fff" stroke="#b0002b" stroke-width="1.2"/>
<circle cx="102.3" cy="628.27" r="1.7" fill="#22427f" stroke="none" stroke-width="0"/>
<circle cx="102.3" cy="628.85" r="1.75" fill="#fff" stroke="#22427f" stroke-width="1.2"/>
<circle cx="121.85" cy="687.55" r="1.7" fill="#b0002b" stroke="none" stroke-width="0"/>
<circle cx="121.85" cy="676.4" r="1.75" fill="#fff" stroke="#b0002b" stroke-width="1.2"/>
<circle cx="121.85" cy="622.4" r="1.7" fill="#22427f" stroke="none" stroke-width="0"/>
<circle cx="121.85" cy="627.09" r="1.75" fill="#fff" stroke="#22427f" stroke-width="1.2"/>
<circle cx="141.4" cy="688.73" r="1.7" fill="#b0002b" stroke="none" stroke-width="0"/>
<circle cx="141.4" cy="688.73" r="1.75" fill="#fff" stroke="#b0002b" stroke-width="1.2"/>
<circle cx="141.4" cy="685.2" r="1.7" fill="#22427f" stroke="none" stroke-width="0"/>
<circle cx="141.4" cy="684.03" r="1.75" fill="#fff" stroke="#22427f" stroke-width="1.2"/>
<line x1="151" y1="640.4" x2="159.4" y2="640.4" stroke="#b0002b" stroke-width="1.3"/>
<circle cx="155.3" cy="640.4" r="1.9" fill="#b0002b" stroke="none" stroke-width="0"/>
<text x="162.9" y="643.1" font-size="8.1" fill="#1a1a1a" textLength="31.1" lengthAdjust="spacingAndGlyphs" stroke="#1a1a1a" stroke-width="0.18">SM KIT+</text>
<line x1="151" y1="652.7" x2="159.4" y2="652.7" stroke="#b0002b" stroke-width="1.3"/>
<circle cx="155.3" cy="652.7" r="2" fill="#fff" stroke="#b0002b" stroke-width="1.2"/>
<text x="162.9" y="655.4" font-size="8.1" fill="#1a1a1a" textLength="28" lengthAdjust="spacingAndGlyphs" stroke="#1a1a1a" stroke-width="0.18">SM KIT-</text>
<line x1="151" y1="665.2" x2="159.4" y2="665.2" stroke="#22427f" stroke-width="1.3"/>
<circle cx="155.3" cy="665.2" r="1.9" fill="#22427f" stroke="none" stroke-width="0"/>
<text x="162.9" y="667.9" font-size="8.1" fill="#1a1a1a" textLength="31.1" lengthAdjust="spacingAndGlyphs" stroke="#1a1a1a" stroke-width="0.18">HD KIT+</text>
<line x1="151" y1="677.3" x2="159.4" y2="677.3" stroke="#22427f" stroke-width="1.3"/>
<circle cx="155.3" cy="677.3" r="2" fill="#fff" stroke="#22427f" stroke-width="1.2"/>
<text x="162.9" y="680" font-size="8.1" fill="#1a1a1a" textLength="28" lengthAdjust="spacingAndGlyphs" stroke="#1a1a1a" stroke-width="0.18">HD KIT-</text>
<text x="212.3" y="603.8" font-size="12.5" fill="#000" font-weight="bold">E</text>
<text x="220.4" y="653.5" font-size="10" fill="#1a1a1a" textLength="59.5" lengthAdjust="spacingAndGlyphs" transform="rotate(-90 220.4 653.5)" text-anchor="middle" stroke="#1a1a1a" stroke-width="0.18">Cell viability (%)</text>
<rect x="252.3" y="641" width="9.8" height="49" fill="#ebc8bc" stroke="#bb1a40" stroke-width="1.1"/>
<rect x="265.6" y="669.91" width="9.8" height="20.09" fill="#ebc8bc" stroke="#bb1a40" stroke-width="1.1"/>
<rect x="278.6" y="680.45" width="9.8" height="9.55" fill="#ebc8bc" stroke="#bb1a40" stroke-width="1.1"/>
<rect x="300.9" y="641" width="9.8" height="49" fill="#c9cce2" stroke="#30508f" stroke-width="1.1"/>
<rect x="314.1" y="660.11" width="9.8" height="29.89" fill="#c9cce2" stroke="#30508f" stroke-width="1.1"/>
<rect x="327.2" y="678" width="9.8" height="12" fill="#c9cce2" stroke="#30508f" stroke-width="1.1"/>
<circle cx="255.63" cy="643.72" r="1.35" fill="#111" stroke="none" stroke-width="0"/>
<circle cx="254.64" cy="646.59" r="1.35" fill="#111" stroke="none" stroke-width="0"/>
<circle cx="261.27" cy="641.61" r="1.35" fill="#111" stroke="none" stroke-width="0"/>
<circle cx="253.93" cy="645.24" r="1.35" fill="#111" stroke="none" stroke-width="0"/>
<circle cx="258.79" cy="635.14" r="1.35" fill="#111" stroke="none" stroke-width="0"/>
<circle cx="258.96" cy="630.58" r="1.35" fill="#111" stroke="none" stroke-width="0"/>
<circle cx="256.32" cy="641.36" r="1.35" fill="#111" stroke="none" stroke-width="0"/>
<circle cx="259.16" cy="642.07" r="1.35" fill="#111" stroke="none" stroke-width="0"/>
<circle cx="257.41" cy="632.47" r="1.35" fill="#111" stroke="none" stroke-width="0"/>
<circle cx="256.44" cy="633.99" r="1.35" fill="#111" stroke="none" stroke-width="0"/>
<circle cx="259.32" cy="649.23" r="1.35" fill="#111" stroke="none" stroke-width="0"/>
<circle cx="257.1" cy="640.54" r="1.35" fill="#111" stroke="none" stroke-width="0"/>
<circle cx="256.99" cy="635.56" r="1.35" fill="#111" stroke="none" stroke-width="0"/>
<circle cx="254.09" cy="642.47" r="1.35" fill="#111" stroke="none" stroke-width="0"/>
<circle cx="258.52" cy="630.06" r="1.35" fill="#111" stroke="none" stroke-width="0"/>
<circle cx="254.96" cy="640.55" r="1.35" fill="#111" stroke="none" stroke-width="0"/>
<circle cx="259.33" cy="634.15" r="1.35" fill="#111" stroke="none" stroke-width="0"/>
<circle cx="258.04" cy="641.43" r="1.35" fill="#111" stroke="none" stroke-width="0"/>
<circle cx="260.96" cy="639.77" r="1.35" fill="#111" stroke="none" stroke-width="0"/>
<circle cx="253.82" cy="646.19" r="1.35" fill="#111" stroke="none" stroke-width="0"/>
<circle cx="257.68" cy="639.12" r="1.35" fill="#111" stroke="none" stroke-width="0"/>
<circle cx="260.17" cy="648.04" r="1.35" fill="#111" stroke="none" stroke-width="0"/>
<circle cx="253.6" cy="633.29" r="1.35" fill="#111" stroke="none" stroke-width="0"/>
<circle cx="259.56" cy="637.25" r="1.35" fill="#111" stroke="none" stroke-width="0"/>
<circle cx="259.02" cy="639.7" r="1.35" fill="#111" stroke="none" stroke-width="0"/>
<circle cx="253.17" cy="638.54" r="1.35" fill="#111" stroke="none" stroke-width="0"/>
<circle cx="256.61" cy="637.86" r="1.35" fill="#111" stroke="none" stroke-width="0"/>
<circle cx="259.54" cy="639.88" r="1.35" fill="#111" stroke="none" stroke-width="0"/>
<circle cx="261.09" cy="640.26" r="1.35" fill="#111" stroke="none" stroke-width="0"/>
<circle cx="257.99" cy="643.72" r="1.35" fill="#111" stroke="none" stroke-width="0"/>
<circle cx="260.37" cy="644.27" r="1.35" fill="#111" stroke="none" stroke-width="0"/>
<circle cx="256.11" cy="639.52" r="1.35" fill="#111" stroke="none" stroke-width="0"/>
<circle cx="259.6" cy="633.64" r="1.35" fill="#111" stroke="none" stroke-width="0"/>
<circle cx="260.81" cy="634.48" r="1.35" fill="#111" stroke="none" stroke-width="0"/>
<circle cx="259.13" cy="640.84" r="1.35" fill="#111" stroke="none" stroke-width="0"/>
<circle cx="254.86" cy="637.29" r="1.35" fill="#111" stroke="none" stroke-width="0"/>
<circle cx="260.3" cy="636" r="1.35" fill="#111" stroke="none" stroke-width="0"/>
<circle cx="254.28" cy="641.41" r="1.35" fill="#111" stroke="none" stroke-width="0"/>
<circle cx="255.79" cy="639.58" r="1.35" fill="#111" stroke="none" stroke-width="0"/>
<circle cx="260.08" cy="636.99" r="1.35" fill="#111" stroke="none" stroke-width="0"/>
<circle cx="253" cy="640.83" r="1.35" fill="#111" stroke="none" stroke-width="0"/>
<circle cx="252.93" cy="637.98" r="1.35" fill="#111" stroke="none" stroke-width="0"/>
<circle cx="258" cy="641.61" r="1.35" fill="#111" stroke="none" stroke-width="0"/>
<circle cx="255.08" cy="632.69" r="1.35" fill="#111" stroke="none" stroke-width="0"/>
<circle cx="261.43" cy="637.3" r="1.35" fill="#111" stroke="none" stroke-width="0"/>
<circle cx="268.28" cy="666.77" r="1.35" fill="#111" stroke="none" stroke-width="0"/>
<circle cx="274.19" cy="667.63" r="1.35" fill="#111" stroke="none" stroke-width="0"/>
<circle cx="273.43" cy="670.73" r="1.35" fill="#111" stroke="none" stroke-width="0"/>
<circle cx="267.13" cy="662.17" r="1.35" fill="#111" stroke="none" stroke-width="0"/>
<circle cx="272.87" cy="674.04" r="1.35" fill="#111" stroke="none" stroke-width="0"/>
<circle cx="269.81" cy="669.94" r="1.35" fill="#111" stroke="none" stroke-width="0"/>
<circle cx="266.15" cy="655.97" r="1.35" fill="#111" stroke="none" stroke-width="0"/>
<circle cx="268.66" cy="656.25" r="1.35" fill="#111" stroke="none" stroke-width="0"/>
<circle cx="269.53" cy="666.09" r="1.35" fill="#111" stroke="none" stroke-width="0"/>
<circle cx="273.57" cy="685.4" r="1.35" fill="#111" stroke="none" stroke-width="0"/>
<circle cx="268.87" cy="661.1" r="1.35" fill="#111" stroke="none" stroke-width="0"/>
<circle cx="271.4" cy="668.67" r="1.35" fill="#111" stroke="none" stroke-width="0"/>
<circle cx="267.24" cy="674.11" r="1.35" fill="#111" stroke="none" stroke-width="0"/>
<circle cx="272.2" cy="673.95" r="1.35" fill="#111" stroke="none" stroke-width="0"/>
<circle cx="271.87" cy="663.93" r="1.35" fill="#111" stroke="none" stroke-width="0"/>
<circle cx="269.97" cy="676.11" r="1.35" fill="#111" stroke="none" stroke-width="0"/>
<circle cx="266.33" cy="669.58" r="1.35" fill="#111" stroke="none" stroke-width="0"/>
<circle cx="271.29" cy="662.82" r="1.35" fill="#111" stroke="none" stroke-width="0"/>
<circle cx="268.02" cy="688.56" r="1.35" fill="#111" stroke="none" stroke-width="0"/>
<circle cx="272.13" cy="663.34" r="1.35" fill="#111" stroke="none" stroke-width="0"/>
<circle cx="266.11" cy="649.97" r="1.35" fill="#111" stroke="none" stroke-width="0"/>
<circle cx="267.59" cy="675.36" r="1.35" fill="#111" stroke="none" stroke-width="0"/>
<circle cx="273.61" cy="671.22" r="1.35" fill="#111" stroke="none" stroke-width="0"/>
<circle cx="274.44" cy="664.32" r="1.35" fill="#111" stroke="none" stroke-width="0"/>
<circle cx="266.56" cy="688.81" r="1.35" fill="#111" stroke="none" stroke-width="0"/>
<circle cx="270.19" cy="666.12" r="1.35" fill="#111" stroke="none" stroke-width="0"/>
<circle cx="271.08" cy="669.35" r="1.35" fill="#111" stroke="none" stroke-width="0"/>
<circle cx="266.58" cy="667.73" r="1.35" fill="#111" stroke="none" stroke-width="0"/>
<circle cx="273.66" cy="680.73" r="1.35" fill="#111" stroke="none" stroke-width="0"/>
<circle cx="266.87" cy="688.8" r="1.35" fill="#111" stroke="none" stroke-width="0"/>
<circle cx="268.37" cy="671.75" r="1.35" fill="#111" stroke="none" stroke-width="0"/>
<circle cx="266.72" cy="673.06" r="1.35" fill="#111" stroke="none" stroke-width="0"/>
<circle cx="268.89" cy="686.24" r="1.35" fill="#111" stroke="none" stroke-width="0"/>
<circle cx="268.74" cy="682.3" r="1.35" fill="#111" stroke="none" stroke-width="0"/>
<circle cx="273.03" cy="673.66" r="1.35" fill="#111" stroke="none" stroke-width="0"/>
<circle cx="267.73" cy="675.9" r="1.35" fill="#111" stroke="none" stroke-width="0"/>
<circle cx="271.54" cy="669.34" r="1.35" fill="#111" stroke="none" stroke-width="0"/>
<circle cx="270.6" cy="681.78" r="1.35" fill="#111" stroke="none" stroke-width="0"/>
<circle cx="269.37" cy="671.01" r="1.35" fill="#111" stroke="none" stroke-width="0"/>
<circle cx="274.66" cy="668.17" r="1.35" fill="#111" stroke="none" stroke-width="0"/>
<circle cx="273.33" cy="677.62" r="1.35" fill="#111" stroke="none" stroke-width="0"/>
<circle cx="268.21" cy="650.14" r="1.35" fill="#111" stroke="none" stroke-width="0"/>
<circle cx="270.08" cy="643.85" r="1.35" fill="#111" stroke="none" stroke-width="0"/>
<circle cx="271.29" cy="680.25" r="1.35" fill="#111" stroke="none" stroke-width="0"/>
<circle cx="267.57" cy="678.73" r="1.35" fill="#111" stroke="none" stroke-width="0"/>
<circle cx="267.6" cy="670.56" r="1.35" fill="#111" stroke="none" stroke-width="0"/>
<circle cx="267.59" cy="651.31" r="1.35" fill="#111" stroke="none" stroke-width="0"/>
<circle cx="272.47" cy="675.74" r="1.35" fill="#111" stroke="none" stroke-width="0"/>
<circle cx="267.92" cy="668.75" r="1.35" fill="#111" stroke="none" stroke-width="0"/>
<circle cx="274.88" cy="684.82" r="1.35" fill="#111" stroke="none" stroke-width="0"/>
<circle cx="268.75" cy="669.76" r="1.35" fill="#111" stroke="none" stroke-width="0"/>
<circle cx="271.93" cy="682.29" r="1.35" fill="#111" stroke="none" stroke-width="0"/>
<circle cx="266.56" cy="669.3" r="1.35" fill="#111" stroke="none" stroke-width="0"/>
<circle cx="269.58" cy="681.32" r="1.35" fill="#111" stroke="none" stroke-width="0"/>
<circle cx="269.9" cy="683.38" r="1.35" fill="#111" stroke="none" stroke-width="0"/>
<circle cx="284.98" cy="683.39" r="1.35" fill="#111" stroke="none" stroke-width="0"/>
<circle cx="280.11" cy="686.35" r="1.35" fill="#111" stroke="none" stroke-width="0"/>
<circle cx="279.44" cy="680.16" r="1.35" fill="#111" stroke="none" stroke-width="0"/>
<circle cx="283.68" cy="678.61" r="1.35" fill="#111" stroke="none" stroke-width="0"/>
<circle cx="283.36" cy="672.11" r="1.35" fill="#111" stroke="none" stroke-width="0"/>
<circle cx="285.46" cy="682" r="1.35" fill="#111" stroke="none" stroke-width="0"/>
<circle cx="287.83" cy="688.5" r="1.35" fill="#111" stroke="none" stroke-width="0"/>
<circle cx="287.27" cy="671.44" r="1.35" fill="#111" stroke="none" stroke-width="0"/>
<circle cx="281.25" cy="678.66" r="1.35" fill="#111" stroke="none" stroke-width="0"/>
<circle cx="283.64" cy="685.58" r="1.35" fill="#111" stroke="none" stroke-width="0"/>
<circle cx="285.63" cy="688.53" r="1.35" fill="#111" stroke="none" stroke-width="0"/>
<circle cx="284.01" cy="678.82" r="1.35" fill="#111" stroke="none" stroke-width="0"/>
<circle cx="280.86" cy="678.41" r="1.35" fill="#111" stroke="none" stroke-width="0"/>
<circle cx="282.8" cy="674.56" r="1.35" fill="#111" stroke="none" stroke-width="0"/>
<circle cx="283.24" cy="681.4" r="1.35" fill="#111" stroke="none" stroke-width="0"/>
<circle cx="286.43" cy="685.88" r="1.35" fill="#111" stroke="none" stroke-width="0"/>
<circle cx="283.63" cy="688.05" r="1.35" fill="#111" stroke="none" stroke-width="0"/>
<circle cx="283.61" cy="687.37" r="1.35" fill="#111" stroke="none" stroke-width="0"/>
<circle cx="279.37" cy="684.11" r="1.35" fill="#111" stroke="none" stroke-width="0"/>
<circle cx="282.37" cy="661.2" r="1.35" fill="#111" stroke="none" stroke-width="0"/>
<circle cx="286.93" cy="682.96" r="1.35" fill="#111" stroke="none" stroke-width="0"/>
<circle cx="279.69" cy="667.43" r="1.35" fill="#111" stroke="none" stroke-width="0"/>
<circle cx="286.42" cy="686.49" r="1.35" fill="#111" stroke="none" stroke-width="0"/>
<circle cx="284.75" cy="668.12" r="1.35" fill="#111" stroke="none" stroke-width="0"/>
<circle cx="286.43" cy="684.93" r="1.35" fill="#111" stroke="none" stroke-width="0"/>
<circle cx="285.6" cy="679.02" r="1.35" fill="#111" stroke="none" stroke-width="0"/>
<circle cx="279.8" cy="678.47" r="1.35" fill="#111" stroke="none" stroke-width="0"/>
<circle cx="280.56" cy="681.82" r="1.35" fill="#111" stroke="none" stroke-width="0"/>
<circle cx="305.07" cy="636.57" r="1.35" fill="#111" stroke="none" stroke-width="0"/>
<circle cx="305.24" cy="643.94" r="1.35" fill="#111" stroke="none" stroke-width="0"/>
<circle cx="310.06" cy="638.28" r="1.35" fill="#111" stroke="none" stroke-width="0"/>
<circle cx="301.86" cy="637.07" r="1.35" fill="#111" stroke="none" stroke-width="0"/>
<circle cx="309.56" cy="642.43" r="1.35" fill="#111" stroke="none" stroke-width="0"/>
<circle cx="302.25" cy="645.85" r="1.35" fill="#111" stroke="none" stroke-width="0"/>
<circle cx="309.25" cy="642.09" r="1.35" fill="#111" stroke="none" stroke-width="0"/>
<circle cx="309.34" cy="633.85" r="1.35" fill="#111" stroke="none" stroke-width="0"/>
<circle cx="308.29" cy="635.52" r="1.35" fill="#111" stroke="none" stroke-width="0"/>
<circle cx="306.81" cy="646.83" r="1.35" fill="#111" stroke="none" stroke-width="0"/>
<circle cx="302.96" cy="637.46" r="1.35" fill="#111" stroke="none" stroke-width="0"/>
<circle cx="309.09" cy="640.05" r="1.35" fill="#111" stroke="none" stroke-width="0"/>
<circle cx="306.82" cy="643.78" r="1.35" fill="#111" stroke="none" stroke-width="0"/>
<circle cx="302.26" cy="637.09" r="1.35" fill="#111" stroke="none" stroke-width="0"/>
<circle cx="304.19" cy="642.67" r="1.35" fill="#111" stroke="none" stroke-width="0"/>
<circle cx="305.57" cy="638.14" r="1.35" fill="#111" stroke="none" stroke-width="0"/>
<circle cx="307.4" cy="637.77" r="1.35" fill="#111" stroke="none" stroke-width="0"/>
<circle cx="304.8" cy="637.12" r="1.35" fill="#111" stroke="none" stroke-width="0"/>
<circle cx="302.81" cy="636.92" r="1.35" fill="#111" stroke="none" stroke-width="0"/>
<circle cx="303.41" cy="636.81" r="1.35" fill="#111" stroke="none" stroke-width="0"/>
<circle cx="304.02" cy="637.35" r="1.35" fill="#111" stroke="none" stroke-width="0"/>
<circle cx="301.48" cy="642.18" r="1.35" fill="#111" stroke="none" stroke-width="0"/>
<circle cx="305.64" cy="636.79" r="1.35" fill="#111" stroke="none" stroke-width="0"/>
<circle cx="310.15" cy="644.61" r="1.35" fill="#111" stroke="none" stroke-width="0"/>
<circle cx="302.78" cy="631.15" r="1.35" fill="#111" stroke="none" stroke-width="0"/>
<circle cx="304.82" cy="639.04" r="1.35" fill="#111" stroke="none" stroke-width="0"/>
<circle cx="309.9" cy="643.31" r="1.35" fill="#111" stroke="none" stroke-width="0"/>
<circle cx="303.24" cy="640.47" r="1.35" fill="#111" stroke="none" stroke-width="0"/>
<circle cx="305.9" cy="637.94" r="1.35" fill="#111" stroke="none" stroke-width="0"/>
<circle cx="302.06" cy="638.94" r="1.35" fill="#111" stroke="none" stroke-width="0"/>
<circle cx="306.89" cy="641.43" r="1.35" fill="#111" stroke="none" stroke-width="0"/>
<circle cx="304.47" cy="647" r="1.35" fill="#111" stroke="none" stroke-width="0"/>
<circle cx="302.54" cy="644.05" r="1.35" fill="#111" stroke="none" stroke-width="0"/>
<circle cx="305.71" cy="634.93" r="1.35" fill="#111" stroke="none" stroke-width="0"/>
<circle cx="301.8" cy="647.35" r="1.35" fill="#111" stroke="none" stroke-width="0"/>
<circle cx="309.05" cy="639.42" r="1.35" fill="#111" stroke="none" stroke-width="0"/>
<circle cx="304.17" cy="640.42" r="1.35" fill="#111" stroke="none" stroke-width="0"/>
<circle cx="308.81" cy="639.48" r="1.35" fill="#111" stroke="none" stroke-width="0"/>
<circle cx="302.54" cy="644.38" r="1.35" fill="#111" stroke="none" stroke-width="0"/>
<circle cx="309.77" cy="641.92" r="1.35" fill="#111" stroke="none" stroke-width="0"/>
<circle cx="306.87" cy="640.52" r="1.35" fill="#111" stroke="none" stroke-width="0"/>
<circle cx="307.72" cy="636.36" r="1.35" fill="#111" stroke="none" stroke-width="0"/>
<circle cx="307.65" cy="646.03" r="1.35" fill="#111" stroke="none" stroke-width="0"/>
<circle cx="304.49" cy="639.57" r="1.35" fill="#111" stroke="none" stroke-width="0"/>
<circle cx="308.73" cy="645.67" r="1.35" fill="#111" stroke="none" stroke-width="0"/>
<circle cx="303.75" cy="646.38" r="1.35" fill="#111" stroke="none" stroke-width="0"/>
<circle cx="307.52" cy="645.79" r="1.35" fill="#111" stroke="none" stroke-width="0"/>
<circle cx="307.14" cy="634.16" r="1.35" fill="#111" stroke="none" stroke-width="0"/>
<circle cx="307.47" cy="643.83" r="1.35" fill="#111" stroke="none" stroke-width="0"/>
<circle cx="301.86" cy="641.84" r="1.35" fill="#111" stroke="none" stroke-width="0"/>
<circle cx="316.36" cy="658.8" r="1.35" fill="#111" stroke="none" stroke-width="0"/>
<circle cx="316.18" cy="671.7" r="1.35" fill="#111" stroke="none" stroke-width="0"/>
<circle cx="320.77" cy="655.1" r="1.35" fill="#111" stroke="none" stroke-width="0"/>
<circle cx="321.95" cy="642" r="1.35" fill="#111" stroke="none" stroke-width="0"/>
<circle cx="320.19" cy="657.02" r="1.35" fill="#111" stroke="none" stroke-width="0"/>
<circle cx="318.11" cy="666.28" r="1.35" fill="#111" stroke="none" stroke-width="0"/>
<circle cx="315.34" cy="674.78" r="1.35" fill="#111" stroke="none" stroke-width="0"/>
<circle cx="320.09" cy="658.25" r="1.35" fill="#111" stroke="none" stroke-width="0"/>
<circle cx="317.89" cy="680.77" r="1.35" fill="#111" stroke="none" stroke-width="0"/>
<circle cx="321.03" cy="661.73" r="1.35" fill="#111" stroke="none" stroke-width="0"/>
<circle cx="316" cy="663.9" r="1.35" fill="#111" stroke="none" stroke-width="0"/>
<circle cx="318.51" cy="653.12" r="1.35" fill="#111" stroke="none" stroke-width="0"/>
<circle cx="318.7" cy="652.26" r="1.35" fill="#111" stroke="none" stroke-width="0"/>
<circle cx="315.57" cy="661.72" r="1.35" fill="#111" stroke="none" stroke-width="0"/>
<circle cx="315.69" cy="670.69" r="1.35" fill="#111" stroke="none" stroke-width="0"/>
<circle cx="315.01" cy="664.64" r="1.35" fill="#111" stroke="none" stroke-width="0"/>
<circle cx="319.24" cy="667.26" r="1.35" fill="#111" stroke="none" stroke-width="0"/>
<circle cx="316.49" cy="658.3" r="1.35" fill="#111" stroke="none" stroke-width="0"/>
<circle cx="317.69" cy="668.83" r="1.35" fill="#111" stroke="none" stroke-width="0"/>
<circle cx="319.28" cy="660.15" r="1.35" fill="#111" stroke="none" stroke-width="0"/>
<circle cx="318.04" cy="664.37" r="1.35" fill="#111" stroke="none" stroke-width="0"/>
<circle cx="322.89" cy="646.36" r="1.35" fill="#111" stroke="none" stroke-width="0"/>
<circle cx="320.65" cy="657.46" r="1.35" fill="#111" stroke="none" stroke-width="0"/>
<circle cx="317.03" cy="656.26" r="1.35" fill="#111" stroke="none" stroke-width="0"/>
<circle cx="323.22" cy="661.07" r="1.35" fill="#111" stroke="none" stroke-width="0"/>
<circle cx="314.6" cy="664.14" r="1.35" fill="#111" stroke="none" stroke-width="0"/>
<circle cx="318.55" cy="642.33" r="1.35" fill="#111" stroke="none" stroke-width="0"/>
<circle cx="315.5" cy="675.78" r="1.35" fill="#111" stroke="none" stroke-width="0"/>
<circle cx="322.11" cy="651.91" r="1.35" fill="#111" stroke="none" stroke-width="0"/>
<circle cx="319.43" cy="657.77" r="1.35" fill="#111" stroke="none" stroke-width="0"/>
<circle cx="320.42" cy="648.62" r="1.35" fill="#111" stroke="none" stroke-width="0"/>
<circle cx="323.1" cy="662.37" r="1.35" fill="#111" stroke="none" stroke-width="0"/>
<circle cx="323.35" cy="645.78" r="1.35" fill="#111" stroke="none" stroke-width="0"/>
<circle cx="321.86" cy="658.7" r="1.35" fill="#111" stroke="none" stroke-width="0"/>
<circle cx="318.57" cy="638.48" r="1.35" fill="#111" stroke="none" stroke-width="0"/>
<circle cx="321.75" cy="671.16" r="1.35" fill="#111" stroke="none" stroke-width="0"/>
<circle cx="316.96" cy="681.31" r="1.35" fill="#111" stroke="none" stroke-width="0"/>
<circle cx="316.14" cy="663" r="1.35" fill="#111" stroke="none" stroke-width="0"/>
<circle cx="319.67" cy="649.23" r="1.35" fill="#111" stroke="none" stroke-width="0"/>
<circle cx="317.26" cy="668.9" r="1.35" fill="#111" stroke="none" stroke-width="0"/>
<circle cx="317.63" cy="676.46" r="1.35" fill="#111" stroke="none" stroke-width="0"/>
<circle cx="319.59" cy="653.48" r="1.35" fill="#111" stroke="none" stroke-width="0"/>
<circle cx="315.33" cy="640.96" r="1.35" fill="#111" stroke="none" stroke-width="0"/>
<circle cx="321.23" cy="677.94" r="1.35" fill="#111" stroke="none" stroke-width="0"/>
<circle cx="323.22" cy="659.77" r="1.35" fill="#111" stroke="none" stroke-width="0"/>
<circle cx="315.72" cy="669.71" r="1.35" fill="#111" stroke="none" stroke-width="0"/>
<circle cx="320.42" cy="673.1" r="1.35" fill="#111" stroke="none" stroke-width="0"/>
<circle cx="320.26" cy="661.49" r="1.35" fill="#111" stroke="none" stroke-width="0"/>
<circle cx="317.68" cy="658.57" r="1.35" fill="#111" stroke="none" stroke-width="0"/>
<circle cx="322.36" cy="677.45" r="1.35" fill="#111" stroke="none" stroke-width="0"/>
<circle cx="321.68" cy="664.29" r="1.35" fill="#111" stroke="none" stroke-width="0"/>
<circle cx="318.25" cy="645.6" r="1.35" fill="#111" stroke="none" stroke-width="0"/>
<circle cx="317.56" cy="664.85" r="1.35" fill="#111" stroke="none" stroke-width="0"/>
<circle cx="323.16" cy="653.28" r="1.35" fill="#111" stroke="none" stroke-width="0"/>
<circle cx="322.93" cy="667.03" r="1.35" fill="#111" stroke="none" stroke-width="0"/>
<circle cx="328.25" cy="680.85" r="1.35" fill="#111" stroke="none" stroke-width="0"/>
<circle cx="329.25" cy="674.68" r="1.35" fill="#111" stroke="none" stroke-width="0"/>
<circle cx="328.06" cy="671.14" r="1.35" fill="#111" stroke="none" stroke-width="0"/>
<circle cx="330.25" cy="679.93" r="1.35" fill="#111" stroke="none" stroke-width="0"/>
<circle cx="333.01" cy="678.9" r="1.35" fill="#111" stroke="none" stroke-width="0"/>
<circle cx="331.52" cy="672.51" r="1.35" fill="#111" stroke="none" stroke-width="0"/>
<circle cx="328.69" cy="675.13" r="1.35" fill="#111" stroke="none" stroke-width="0"/>
<circle cx="329.05" cy="683.92" r="1.35" fill="#111" stroke="none" stroke-width="0"/>
<circle cx="330.01" cy="679.55" r="1.35" fill="#111" stroke="none" stroke-width="0"/>
<circle cx="332.88" cy="669.19" r="1.35" fill="#111" stroke="none" stroke-width="0"/>
<circle cx="331.52" cy="677.58" r="1.35" fill="#111" stroke="none" stroke-width="0"/>
<circle cx="329.4" cy="679.18" r="1.35" fill="#111" stroke="none" stroke-width="0"/>
<circle cx="329.76" cy="672.89" r="1.35" fill="#111" stroke="none" stroke-width="0"/>
<circle cx="328.64" cy="679.1" r="1.35" fill="#111" stroke="none" stroke-width="0"/>
<circle cx="334.56" cy="686.66" r="1.35" fill="#111" stroke="none" stroke-width="0"/>
<circle cx="330.72" cy="680.86" r="1.35" fill="#111" stroke="none" stroke-width="0"/>
<circle cx="333.75" cy="676.82" r="1.35" fill="#111" stroke="none" stroke-width="0"/>
<circle cx="331.68" cy="681.33" r="1.35" fill="#111" stroke="none" stroke-width="0"/>
<circle cx="330.98" cy="686.55" r="1.35" fill="#111" stroke="none" stroke-width="0"/>
<circle cx="328.66" cy="684.13" r="1.35" fill="#111" stroke="none" stroke-width="0"/>
<circle cx="335.63" cy="685.94" r="1.35" fill="#111" stroke="none" stroke-width="0"/>
<circle cx="328.49" cy="678.09" r="1.35" fill="#111" stroke="none" stroke-width="0"/>
<circle cx="336.5" cy="681.13" r="1.35" fill="#111" stroke="none" stroke-width="0"/>
<circle cx="329.48" cy="681.92" r="1.35" fill="#111" stroke="none" stroke-width="0"/>
<circle cx="330.05" cy="681.95" r="1.35" fill="#111" stroke="none" stroke-width="0"/>
<circle cx="332.54" cy="682.59" r="1.35" fill="#111" stroke="none" stroke-width="0"/>
<circle cx="330.7" cy="681.04" r="1.35" fill="#111" stroke="none" stroke-width="0"/>
<circle cx="335.81" cy="677.67" r="1.35" fill="#111" stroke="none" stroke-width="0"/>
<circle cx="332.45" cy="678.34" r="1.35" fill="#111" stroke="none" stroke-width="0"/>
<circle cx="335.06" cy="679.89" r="1.35" fill="#111" stroke="none" stroke-width="0"/>
<line x1="257.2" y1="637.08" x2="257.2" y2="644.92" stroke="#111" stroke-width="0.9"/>
<line x1="255" y1="637.08" x2="259.4" y2="637.08" stroke="#111" stroke-width="0.9"/>
<line x1="255" y1="644.92" x2="259.4" y2="644.92" stroke="#111" stroke-width="0.9"/>
<line x1="270.5" y1="658.64" x2="270.5" y2="681.18" stroke="#111" stroke-width="0.9"/>
<line x1="268.3" y1="658.64" x2="272.7" y2="658.64" stroke="#111" stroke-width="0.9"/>
<line x1="268.3" y1="681.18" x2="272.7" y2="681.18" stroke="#111" stroke-width="0.9"/>
<line x1="283.5" y1="671.38" x2="283.5" y2="689.02" stroke="#111" stroke-width="0.9"/>
<line x1="281.3" y1="671.38" x2="285.7" y2="671.38" stroke="#111" stroke-width="0.9"/>
<line x1="281.3" y1="689.02" x2="285.7" y2="689.02" stroke="#111" stroke-width="0.9"/>
<line x1="305.8" y1="636.1" x2="305.8" y2="645.41" stroke="#111" stroke-width="0.9"/>
<line x1="303.6" y1="636.1" x2="308" y2="636.1" stroke="#111" stroke-width="0.9"/>
<line x1="303.6" y1="645.41" x2="308" y2="645.41" stroke="#111" stroke-width="0.9"/>
<line x1="319" y1="648.84" x2="319" y2="671.38" stroke="#111" stroke-width="0.9"/>
<line x1="316.8" y1="648.84" x2="321.2" y2="648.84" stroke="#111" stroke-width="0.9"/>
<line x1="316.8" y1="671.38" x2="321.2" y2="671.38" stroke="#111" stroke-width="0.9"/>
<line x1="332.1" y1="671.87" x2="332.1" y2="684.12" stroke="#111" stroke-width="0.9"/>
<line x1="329.9" y1="671.87" x2="334.3" y2="671.87" stroke="#111" stroke-width="0.9"/>
<line x1="329.9" y1="684.12" x2="334.3" y2="684.12" stroke="#111" stroke-width="0.9"/>
<line x1="248.5" y1="617" x2="248.5" y2="690.6" stroke="#111" stroke-width="1.25"/>
<line x1="247.9" y1="690" x2="341.5" y2="690" stroke="#111" stroke-width="1.25"/>
<line x1="245.1" y1="690" x2="248.5" y2="690" stroke="#111" stroke-width="1.3"/>
<text x="241.7" y="692.7" font-size="8.7" fill="#1a1a1a" text-anchor="end" stroke="#1a1a1a" stroke-width="0.18">0</text>
<line x1="245.1" y1="665.5" x2="248.5" y2="665.5" stroke="#111" stroke-width="1.3"/>
<text x="241.7" y="668.2" font-size="8.7" fill="#1a1a1a" text-anchor="end" stroke="#1a1a1a" stroke-width="0.18">50</text>
<line x1="245.1" y1="641" x2="248.5" y2="641" stroke="#111" stroke-width="1.3"/>
<text x="241.7" y="643.7" font-size="8.7" fill="#1a1a1a" text-anchor="end" stroke="#1a1a1a" stroke-width="0.18">100</text>
<line x1="257.2" y1="690" x2="257.2" y2="693.2" stroke="#111" stroke-width="1.3"/>
<text x="260.2" y="703.2" font-size="8.8" fill="#1a1a1a" transform="rotate(-45 260.2 703.2)" text-anchor="end" stroke="#1a1a1a" stroke-width="0.18">DMSO</text>
<line x1="270.5" y1="690" x2="270.5" y2="693.2" stroke="#111" stroke-width="1.3"/>
<text x="273.5" y="703.2" font-size="8.8" fill="#1a1a1a" transform="rotate(-45 273.5 703.2)" text-anchor="end" stroke="#1a1a1a" stroke-width="0.18">Nintedanib</text>
<line x1="283.5" y1="690" x2="283.5" y2="693.2" stroke="#111" stroke-width="1.3"/>
<text x="286.5" y="703.2" font-size="8.8" fill="#1a1a1a" transform="rotate(-45 286.5 703.2)" text-anchor="end" stroke="#1a1a1a" stroke-width="0.18">Midostaurin</text>
<line x1="305.8" y1="690" x2="305.8" y2="693.2" stroke="#111" stroke-width="1.3"/>
<text x="308.8" y="703.2" font-size="8.8" fill="#1a1a1a" transform="rotate(-45 308.8 703.2)" text-anchor="end" stroke="#1a1a1a" stroke-width="0.18">DMSO</text>
<line x1="319" y1="690" x2="319" y2="693.2" stroke="#111" stroke-width="1.3"/>
<text x="322" y="703.2" font-size="8.8" fill="#1a1a1a" transform="rotate(-45 322 703.2)" text-anchor="end" stroke="#1a1a1a" stroke-width="0.18">Nintedanib</text>
<line x1="332.1" y1="690" x2="332.1" y2="693.2" stroke="#111" stroke-width="1.3"/>
<text x="335.1" y="703.2" font-size="8.8" fill="#1a1a1a" transform="rotate(-45 335.1 703.2)" text-anchor="end" stroke="#1a1a1a" stroke-width="0.18">Midostaurin</text>
<path d="M256.2,616.1 L256.2,613.5 L284.6,613.5 L284.6,616.1" stroke="#222" stroke-width="0.9" fill="none"/>
<polygon points="270.8,608.3 271.3,609.41 272.51,609.54 271.62,610.36 271.86,611.56 270.8,610.96 269.74,611.56 269.98,610.36 269.09,609.54 270.3,609.41" fill="#222"/>
<path d="M256.2,622.4 L256.2,619.8 L270.8,619.8 L270.8,622.4" stroke="#222" stroke-width="0.9" fill="none"/>
<polygon points="263.5,614.6 264,615.71 265.21,615.84 264.32,616.66 264.56,617.86 263.5,617.26 262.44,617.86 262.68,616.66 261.79,615.84 263,615.71" fill="#222"/>
<path d="M270.8,627.8 L270.8,625.2 L319.4,625.2 L319.4,627.8" stroke="#222" stroke-width="0.9" fill="none"/>
<polygon points="294.2,620 294.7,621.11 295.91,621.24 295.02,622.06 295.26,623.26 294.2,622.66 293.14,623.26 293.38,622.06 292.49,621.24 293.7,621.11" fill="#222"/>
<path d="M305.4,616.1 L305.4,613.5 L332.9,613.5 L332.9,616.1" stroke="#222" stroke-width="0.9" fill="none"/>
<polygon points="319.4,608.3 319.9,609.41 321.11,609.54 320.22,610.36 320.46,611.56 319.4,610.96 318.34,611.56 318.58,610.36 317.69,609.54 318.9,609.41" fill="#222"/>
<path d="M305.4,622.4 L305.4,619.8 L319.4,619.8 L319.4,622.4" stroke="#222" stroke-width="0.9" fill="none"/>
<polygon points="312.3,614.6 312.8,615.71 314.01,615.84 313.12,616.66 313.36,617.86 312.3,617.26 311.24,617.86 311.48,616.66 310.59,615.84 311.8,615.71" fill="#222"/>
<text x="295" y="602.4" font-size="10" fill="#1a1a1a" textLength="58.4" lengthAdjust="spacingAndGlyphs" text-anchor="middle" stroke="#1a1a1a" stroke-width="0.18">SM (n=7-11)</text>
<rect x="377.2" y="640.9" width="10.2" height="49.9" fill="#ebc8bc" stroke="#bb1a40" stroke-width="1.1"/>
<rect x="390.8" y="643.39" width="10.2" height="47.4" fill="#ebc8bc" stroke="#bb1a40" stroke-width="1.1"/>
<rect x="404.1" y="660.86" width="10.2" height="29.94" fill="#ebc8bc" stroke="#bb1a40" stroke-width="1.1"/>
<rect x="425.7" y="640.9" width="10.2" height="49.9" fill="#c9cce2" stroke="#30508f" stroke-width="1.1"/>
<rect x="439" y="641.9" width="10.2" height="48.9" fill="#c9cce2" stroke="#30508f" stroke-width="1.1"/>
<rect x="452.3" y="658.37" width="10.2" height="32.43" fill="#c9cce2" stroke="#30508f" stroke-width="1.1"/>
<circle cx="382.91" cy="641.07" r="1.35" fill="#111" stroke="none" stroke-width="0"/>
<circle cx="382.35" cy="645.02" r="1.35" fill="#111" stroke="none" stroke-width="0"/>
<circle cx="386.4" cy="638.24" r="1.35" fill="#111" stroke="none" stroke-width="0"/>
<circle cx="384.96" cy="638.26" r="1.35" fill="#111" stroke="none" stroke-width="0"/>
<circle cx="381.59" cy="643.59" r="1.35" fill="#111" stroke="none" stroke-width="0"/>
<circle cx="383.08" cy="642.82" r="1.35" fill="#111" stroke="none" stroke-width="0"/>
<circle cx="378.72" cy="643.54" r="1.35" fill="#111" stroke="none" stroke-width="0"/>
<circle cx="379.57" cy="642.64" r="1.35" fill="#111" stroke="none" stroke-width="0"/>
<circle cx="382.48" cy="637.94" r="1.35" fill="#111" stroke="none" stroke-width="0"/>
<circle cx="386.01" cy="645.66" r="1.35" fill="#111" stroke="none" stroke-width="0"/>
<circle cx="382.43" cy="637.52" r="1.35" fill="#111" stroke="none" stroke-width="0"/>
<circle cx="385.18" cy="638.65" r="1.35" fill="#111" stroke="none" stroke-width="0"/>
<circle cx="382.34" cy="642.99" r="1.35" fill="#111" stroke="none" stroke-width="0"/>
<circle cx="380.89" cy="638.88" r="1.35" fill="#111" stroke="none" stroke-width="0"/>
<circle cx="385.11" cy="637.31" r="1.35" fill="#111" stroke="none" stroke-width="0"/>
<circle cx="385.23" cy="643.28" r="1.35" fill="#111" stroke="none" stroke-width="0"/>
<circle cx="381.18" cy="641.24" r="1.35" fill="#111" stroke="none" stroke-width="0"/>
<circle cx="382.94" cy="639.41" r="1.35" fill="#111" stroke="none" stroke-width="0"/>
<circle cx="386.61" cy="637.88" r="1.35" fill="#111" stroke="none" stroke-width="0"/>
<circle cx="382.92" cy="641.13" r="1.35" fill="#111" stroke="none" stroke-width="0"/>
<circle cx="381.01" cy="640.05" r="1.35" fill="#111" stroke="none" stroke-width="0"/>
<circle cx="384.71" cy="636.97" r="1.35" fill="#111" stroke="none" stroke-width="0"/>
<circle cx="378.77" cy="641.46" r="1.35" fill="#111" stroke="none" stroke-width="0"/>
<circle cx="380.55" cy="635.9" r="1.35" fill="#111" stroke="none" stroke-width="0"/>
<circle cx="383.91" cy="639.9" r="1.35" fill="#111" stroke="none" stroke-width="0"/>
<circle cx="383.14" cy="640.74" r="1.35" fill="#111" stroke="none" stroke-width="0"/>
<circle cx="383.91" cy="637" r="1.35" fill="#111" stroke="none" stroke-width="0"/>
<circle cx="382.46" cy="644.44" r="1.35" fill="#111" stroke="none" stroke-width="0"/>
<circle cx="399.15" cy="644.87" r="1.35" fill="#111" stroke="none" stroke-width="0"/>
<circle cx="394.96" cy="641.23" r="1.35" fill="#111" stroke="none" stroke-width="0"/>
<circle cx="392.15" cy="646.43" r="1.35" fill="#111" stroke="none" stroke-width="0"/>
<circle cx="391.74" cy="648.24" r="1.35" fill="#111" stroke="none" stroke-width="0"/>
<circle cx="391.34" cy="637.86" r="1.35" fill="#111" stroke="none" stroke-width="0"/>
<circle cx="396.7" cy="640.48" r="1.35" fill="#111" stroke="none" stroke-width="0"/>
<circle cx="393.72" cy="645.62" r="1.35" fill="#111" stroke="none" stroke-width="0"/>
<circle cx="400.09" cy="640.13" r="1.35" fill="#111" stroke="none" stroke-width="0"/>
<circle cx="395.55" cy="650.86" r="1.35" fill="#111" stroke="none" stroke-width="0"/>
<circle cx="399.22" cy="642.56" r="1.35" fill="#111" stroke="none" stroke-width="0"/>
<circle cx="395.54" cy="638.23" r="1.35" fill="#111" stroke="none" stroke-width="0"/>
<circle cx="397.18" cy="642.9" r="1.35" fill="#111" stroke="none" stroke-width="0"/>
<circle cx="394.26" cy="645.07" r="1.35" fill="#111" stroke="none" stroke-width="0"/>
<circle cx="391.63" cy="643.42" r="1.35" fill="#111" stroke="none" stroke-width="0"/>
<circle cx="398.92" cy="643.98" r="1.35" fill="#111" stroke="none" stroke-width="0"/>
<circle cx="398.04" cy="640.64" r="1.35" fill="#111" stroke="none" stroke-width="0"/>
<circle cx="400.44" cy="650.31" r="1.35" fill="#111" stroke="none" stroke-width="0"/>
<circle cx="398.66" cy="646.46" r="1.35" fill="#111" stroke="none" stroke-width="0"/>
<circle cx="394.09" cy="646.51" r="1.35" fill="#111" stroke="none" stroke-width="0"/>
<circle cx="395.9" cy="645.19" r="1.35" fill="#111" stroke="none" stroke-width="0"/>
<circle cx="392.59" cy="644.91" r="1.35" fill="#111" stroke="none" stroke-width="0"/>
<circle cx="392.99" cy="639.38" r="1.35" fill="#111" stroke="none" stroke-width="0"/>
<circle cx="394.19" cy="644.44" r="1.35" fill="#111" stroke="none" stroke-width="0"/>
<circle cx="398.42" cy="646.08" r="1.35" fill="#111" stroke="none" stroke-width="0"/>
<circle cx="400.37" cy="646.54" r="1.35" fill="#111" stroke="none" stroke-width="0"/>
<circle cx="396.37" cy="639.63" r="1.35" fill="#111" stroke="none" stroke-width="0"/>
<circle cx="391.86" cy="644.27" r="1.35" fill="#111" stroke="none" stroke-width="0"/>
<circle cx="396.27" cy="643.51" r="1.35" fill="#111" stroke="none" stroke-width="0"/>
<circle cx="407.17" cy="660.46" r="1.35" fill="#111" stroke="none" stroke-width="0"/>
<circle cx="406.43" cy="655.24" r="1.35" fill="#111" stroke="none" stroke-width="0"/>
<circle cx="412.82" cy="653.09" r="1.35" fill="#111" stroke="none" stroke-width="0"/>
<circle cx="406.58" cy="656.36" r="1.35" fill="#111" stroke="none" stroke-width="0"/>
<circle cx="406.68" cy="667.73" r="1.35" fill="#111" stroke="none" stroke-width="0"/>
<circle cx="409.53" cy="655.43" r="1.35" fill="#111" stroke="none" stroke-width="0"/>
<circle cx="413.51" cy="658.2" r="1.35" fill="#111" stroke="none" stroke-width="0"/>
<circle cx="411.73" cy="662.68" r="1.35" fill="#111" stroke="none" stroke-width="0"/>
<circle cx="407.94" cy="654.79" r="1.35" fill="#111" stroke="none" stroke-width="0"/>
<circle cx="410.95" cy="664" r="1.35" fill="#111" stroke="none" stroke-width="0"/>
<circle cx="410.45" cy="662.63" r="1.35" fill="#111" stroke="none" stroke-width="0"/>
<circle cx="407.12" cy="666.17" r="1.35" fill="#111" stroke="none" stroke-width="0"/>
<circle cx="406.21" cy="661.19" r="1.35" fill="#111" stroke="none" stroke-width="0"/>
<circle cx="410.55" cy="654.75" r="1.35" fill="#111" stroke="none" stroke-width="0"/>
<circle cx="408.57" cy="659.4" r="1.35" fill="#111" stroke="none" stroke-width="0"/>
<circle cx="407.25" cy="657.8" r="1.35" fill="#111" stroke="none" stroke-width="0"/>
<circle cx="408.45" cy="658.16" r="1.35" fill="#111" stroke="none" stroke-width="0"/>
<circle cx="413.65" cy="662.72" r="1.35" fill="#111" stroke="none" stroke-width="0"/>
<circle cx="405.77" cy="661.2" r="1.35" fill="#111" stroke="none" stroke-width="0"/>
<circle cx="410.86" cy="660.41" r="1.35" fill="#111" stroke="none" stroke-width="0"/>
<circle cx="410.04" cy="661.99" r="1.35" fill="#111" stroke="none" stroke-width="0"/>
<circle cx="406.22" cy="654.81" r="1.35" fill="#111" stroke="none" stroke-width="0"/>
<circle cx="410.04" cy="667.2" r="1.35" fill="#111" stroke="none" stroke-width="0"/>
<circle cx="408.98" cy="658.15" r="1.35" fill="#111" stroke="none" stroke-width="0"/>
<circle cx="431.07" cy="636.69" r="1.35" fill="#111" stroke="none" stroke-width="0"/>
<circle cx="428.46" cy="638.48" r="1.35" fill="#111" stroke="none" stroke-width="0"/>
<circle cx="427.95" cy="632.02" r="1.35" fill="#111" stroke="none" stroke-width="0"/>
<circle cx="426.95" cy="641.86" r="1.35" fill="#111" stroke="none" stroke-width="0"/>
<circle cx="434.9" cy="644.52" r="1.35" fill="#111" stroke="none" stroke-width="0"/>
<circle cx="431.67" cy="641.21" r="1.35" fill="#111" stroke="none" stroke-width="0"/>
<circle cx="428.8" cy="635.26" r="1.35" fill="#111" stroke="none" stroke-width="0"/>
<circle cx="435.2" cy="642.57" r="1.35" fill="#111" stroke="none" stroke-width="0"/>
<circle cx="428.18" cy="642.41" r="1.35" fill="#111" stroke="none" stroke-width="0"/>
<circle cx="430.39" cy="644.8" r="1.35" fill="#111" stroke="none" stroke-width="0"/>
<circle cx="428.39" cy="638.71" r="1.35" fill="#111" stroke="none" stroke-width="0"/>
<circle cx="432.41" cy="633.15" r="1.35" fill="#111" stroke="none" stroke-width="0"/>
<circle cx="431.53" cy="637.13" r="1.35" fill="#111" stroke="none" stroke-width="0"/>
<circle cx="431.48" cy="641.97" r="1.35" fill="#111" stroke="none" stroke-width="0"/>
<circle cx="429.2" cy="643.33" r="1.35" fill="#111" stroke="none" stroke-width="0"/>
<circle cx="430.55" cy="632.8" r="1.35" fill="#111" stroke="none" stroke-width="0"/>
<circle cx="430.02" cy="647.41" r="1.35" fill="#111" stroke="none" stroke-width="0"/>
<circle cx="429.14" cy="637.72" r="1.35" fill="#111" stroke="none" stroke-width="0"/>
<circle cx="431.02" cy="635.77" r="1.35" fill="#111" stroke="none" stroke-width="0"/>
<circle cx="429.99" cy="640.96" r="1.35" fill="#111" stroke="none" stroke-width="0"/>
<circle cx="431.99" cy="642.5" r="1.35" fill="#111" stroke="none" stroke-width="0"/>
<circle cx="429.9" cy="651.39" r="1.35" fill="#111" stroke="none" stroke-width="0"/>
<circle cx="431.15" cy="640.79" r="1.35" fill="#111" stroke="none" stroke-width="0"/>
<circle cx="431.08" cy="645.09" r="1.35" fill="#111" stroke="none" stroke-width="0"/>
<circle cx="435.19" cy="641.87" r="1.35" fill="#111" stroke="none" stroke-width="0"/>
<circle cx="430.46" cy="637.66" r="1.35" fill="#111" stroke="none" stroke-width="0"/>
<circle cx="434.38" cy="637.97" r="1.35" fill="#111" stroke="none" stroke-width="0"/>
<circle cx="432.58" cy="641.62" r="1.35" fill="#111" stroke="none" stroke-width="0"/>
<circle cx="444.83" cy="647.51" r="1.35" fill="#111" stroke="none" stroke-width="0"/>
<circle cx="439.89" cy="643.65" r="1.35" fill="#111" stroke="none" stroke-width="0"/>
<circle cx="446.97" cy="638.26" r="1.35" fill="#111" stroke="none" stroke-width="0"/>
<circle cx="442.97" cy="646.56" r="1.35" fill="#111" stroke="none" stroke-width="0"/>
<circle cx="446.39" cy="638.84" r="1.35" fill="#111" stroke="none" stroke-width="0"/>
<circle cx="446.79" cy="649.67" r="1.35" fill="#111" stroke="none" stroke-width="0"/>
<circle cx="440.18" cy="637.45" r="1.35" fill="#111" stroke="none" stroke-width="0"/>
<circle cx="443.28" cy="646.69" r="1.35" fill="#111" stroke="none" stroke-width="0"/>
<circle cx="440.88" cy="634.51" r="1.35" fill="#111" stroke="none" stroke-width="0"/>
<circle cx="444.81" cy="649.84" r="1.35" fill="#111" stroke="none" stroke-width="0"/>
<circle cx="440.12" cy="648.62" r="1.35" fill="#111" stroke="none" stroke-width="0"/>
<circle cx="447.05" cy="643.22" r="1.35" fill="#111" stroke="none" stroke-width="0"/>
<circle cx="443.1" cy="640.81" r="1.35" fill="#111" stroke="none" stroke-width="0"/>
<circle cx="445.79" cy="650.98" r="1.35" fill="#111" stroke="none" stroke-width="0"/>
<circle cx="440.65" cy="635.1" r="1.35" fill="#111" stroke="none" stroke-width="0"/>
<circle cx="444.46" cy="646.46" r="1.35" fill="#111" stroke="none" stroke-width="0"/>
<circle cx="442.73" cy="634.48" r="1.35" fill="#111" stroke="none" stroke-width="0"/>
<circle cx="441.78" cy="640.17" r="1.35" fill="#111" stroke="none" stroke-width="0"/>
<circle cx="440.18" cy="646.98" r="1.35" fill="#111" stroke="none" stroke-width="0"/>
<circle cx="443.65" cy="643.72" r="1.35" fill="#111" stroke="none" stroke-width="0"/>
<circle cx="444.31" cy="631.66" r="1.35" fill="#111" stroke="none" stroke-width="0"/>
<circle cx="441.7" cy="642.58" r="1.35" fill="#111" stroke="none" stroke-width="0"/>
<circle cx="442.81" cy="650.04" r="1.35" fill="#111" stroke="none" stroke-width="0"/>
<circle cx="443.91" cy="644.03" r="1.35" fill="#111" stroke="none" stroke-width="0"/>
<circle cx="445.08" cy="650.35" r="1.35" fill="#111" stroke="none" stroke-width="0"/>
<circle cx="442.77" cy="644.89" r="1.35" fill="#111" stroke="none" stroke-width="0"/>
<circle cx="444.4" cy="641.83" r="1.35" fill="#111" stroke="none" stroke-width="0"/>
<circle cx="443.22" cy="642.4" r="1.35" fill="#111" stroke="none" stroke-width="0"/>
<circle cx="458.24" cy="666.88" r="1.35" fill="#111" stroke="none" stroke-width="0"/>
<circle cx="454.59" cy="669.05" r="1.35" fill="#111" stroke="none" stroke-width="0"/>
<circle cx="458.04" cy="665.53" r="1.35" fill="#111" stroke="none" stroke-width="0"/>
<circle cx="457" cy="657.36" r="1.35" fill="#111" stroke="none" stroke-width="0"/>
<circle cx="455.42" cy="660.3" r="1.35" fill="#111" stroke="none" stroke-width="0"/>
<circle cx="455.78" cy="657.95" r="1.35" fill="#111" stroke="none" stroke-width="0"/>
<circle cx="456.53" cy="654.27" r="1.35" fill="#111" stroke="none" stroke-width="0"/>
<circle cx="457.71" cy="669.46" r="1.35" fill="#111" stroke="none" stroke-width="0"/>
<circle cx="456.24" cy="652.25" r="1.35" fill="#111" stroke="none" stroke-width="0"/>
<circle cx="455.07" cy="659.51" r="1.35" fill="#111" stroke="none" stroke-width="0"/>
<circle cx="459.04" cy="660.81" r="1.35" fill="#111" stroke="none" stroke-width="0"/>
<circle cx="453.76" cy="641.68" r="1.35" fill="#111" stroke="none" stroke-width="0"/>
<circle cx="460.5" cy="658.89" r="1.35" fill="#111" stroke="none" stroke-width="0"/>
<circle cx="457.82" cy="652.47" r="1.35" fill="#111" stroke="none" stroke-width="0"/>
<circle cx="455.56" cy="657.24" r="1.35" fill="#111" stroke="none" stroke-width="0"/>
<circle cx="458.74" cy="643.22" r="1.35" fill="#111" stroke="none" stroke-width="0"/>
<circle cx="457.23" cy="670.8" r="1.35" fill="#111" stroke="none" stroke-width="0"/>
<circle cx="455.2" cy="668.56" r="1.35" fill="#111" stroke="none" stroke-width="0"/>
<circle cx="456.19" cy="653.09" r="1.35" fill="#111" stroke="none" stroke-width="0"/>
<circle cx="459.02" cy="669.5" r="1.35" fill="#111" stroke="none" stroke-width="0"/>
<circle cx="456.13" cy="668.69" r="1.35" fill="#111" stroke="none" stroke-width="0"/>
<circle cx="453.59" cy="662.45" r="1.35" fill="#111" stroke="none" stroke-width="0"/>
<circle cx="457.46" cy="654.24" r="1.35" fill="#111" stroke="none" stroke-width="0"/>
<circle cx="459.56" cy="664.91" r="1.35" fill="#111" stroke="none" stroke-width="0"/>
<line x1="382.3" y1="637.91" x2="382.3" y2="643.89" stroke="#111" stroke-width="0.9"/>
<line x1="380.1" y1="637.91" x2="384.5" y2="637.91" stroke="#111" stroke-width="0.9"/>
<line x1="380.1" y1="643.89" x2="384.5" y2="643.89" stroke="#111" stroke-width="0.9"/>
<line x1="395.9" y1="636.91" x2="395.9" y2="647.89" stroke="#111" stroke-width="0.9"/>
<line x1="393.7" y1="636.91" x2="398.1" y2="636.91" stroke="#111" stroke-width="0.9"/>
<line x1="393.7" y1="647.89" x2="398.1" y2="647.89" stroke="#111" stroke-width="0.9"/>
<line x1="409.2" y1="655.87" x2="409.2" y2="665.85" stroke="#111" stroke-width="0.9"/>
<line x1="407" y1="655.87" x2="411.4" y2="655.87" stroke="#111" stroke-width="0.9"/>
<line x1="407" y1="665.85" x2="411.4" y2="665.85" stroke="#111" stroke-width="0.9"/>
<line x1="430.8" y1="634.91" x2="430.8" y2="646.89" stroke="#111" stroke-width="0.9"/>
<line x1="428.6" y1="634.91" x2="433" y2="634.91" stroke="#111" stroke-width="0.9"/>
<line x1="428.6" y1="646.89" x2="433" y2="646.89" stroke="#111" stroke-width="0.9"/>
<line x1="444.1" y1="633.91" x2="444.1" y2="648.88" stroke="#111" stroke-width="0.9"/>
<line x1="441.9" y1="633.91" x2="446.3" y2="633.91" stroke="#111" stroke-width="0.9"/>
<line x1="441.9" y1="648.88" x2="446.3" y2="648.88" stroke="#111" stroke-width="0.9"/>
<line x1="457.4" y1="649.88" x2="457.4" y2="665.85" stroke="#111" stroke-width="0.9"/>
<line x1="455.2" y1="649.88" x2="459.6" y2="649.88" stroke="#111" stroke-width="0.9"/>
<line x1="455.2" y1="665.85" x2="459.6" y2="665.85" stroke="#111" stroke-width="0.9"/>
<line x1="372.9" y1="616.9" x2="372.9" y2="691.4" stroke="#111" stroke-width="1.25"/>
<line x1="372.3" y1="690.8" x2="466.2" y2="690.8" stroke="#111" stroke-width="1.25"/>
<line x1="369.5" y1="690.8" x2="372.9" y2="690.8" stroke="#111" stroke-width="1.3"/>
<text x="366.1" y="693.5" font-size="8.7" fill="#1a1a1a" text-anchor="end" stroke="#1a1a1a" stroke-width="0.18">0</text>
<line x1="369.5" y1="665.85" x2="372.9" y2="665.85" stroke="#111" stroke-width="1.3"/>
<text x="366.1" y="668.55" font-size="8.7" fill="#1a1a1a" text-anchor="end" stroke="#1a1a1a" stroke-width="0.18">50</text>
<line x1="369.5" y1="640.9" x2="372.9" y2="640.9" stroke="#111" stroke-width="1.3"/>
<text x="366.1" y="643.6" font-size="8.7" fill="#1a1a1a" text-anchor="end" stroke="#1a1a1a" stroke-width="0.18">100</text>
<line x1="382.3" y1="690.8" x2="382.3" y2="694" stroke="#111" stroke-width="1.3"/>
<text x="385.3" y="704" font-size="8.8" fill="#1a1a1a" transform="rotate(-45 385.3 704)" text-anchor="end" stroke="#1a1a1a" stroke-width="0.18">DMSO</text>
<line x1="395.9" y1="690.8" x2="395.9" y2="694" stroke="#111" stroke-width="1.3"/>
<text x="398.9" y="704" font-size="8.8" fill="#1a1a1a" transform="rotate(-45 398.9 704)" text-anchor="end" stroke="#1a1a1a" stroke-width="0.18">Nintedanib</text>
<line x1="409.2" y1="690.8" x2="409.2" y2="694" stroke="#111" stroke-width="1.3"/>
<text x="412.2" y="704" font-size="8.8" fill="#1a1a1a" transform="rotate(-45 412.2 704)" text-anchor="end" stroke="#1a1a1a" stroke-width="0.18">Midostaurin</text>
<line x1="430.8" y1="690.8" x2="430.8" y2="694" stroke="#111" stroke-width="1.3"/>
<text x="433.8" y="704" font-size="8.8" fill="#1a1a1a" transform="rotate(-45 433.8 704)" text-anchor="end" stroke="#1a1a1a" stroke-width="0.18">DMSO</text>
<line x1="444.1" y1="690.8" x2="444.1" y2="694" stroke="#111" stroke-width="1.3"/>
<text x="447.1" y="704" font-size="8.8" fill="#1a1a1a" transform="rotate(-45 447.1 704)" text-anchor="end" stroke="#1a1a1a" stroke-width="0.18">Nintedanib</text>
<line x1="457.4" y1="690.8" x2="457.4" y2="694" stroke="#111" stroke-width="1.3"/>
<text x="460.4" y="704" font-size="8.8" fill="#1a1a1a" transform="rotate(-45 460.4 704)" text-anchor="end" stroke="#1a1a1a" stroke-width="0.18">Midostaurin</text>
<path d="M382,624.1 L382,621.5 L409.2,621.5 L409.2,624.1" stroke="#222" stroke-width="0.9" fill="none"/>
<polygon points="395.6,616.3 396.1,617.41 397.31,617.54 396.42,618.36 396.66,619.56 395.6,618.96 394.54,619.56 394.78,618.36 393.89,617.54 395.1,617.41" fill="#222"/>
<path d="M431.4,616.4 L431.4,613.8 L458.5,613.8 L458.5,616.4" stroke="#222" stroke-width="0.9" fill="none"/>
<polygon points="444.9,608.6 445.4,609.71 446.61,609.84 445.72,610.66 445.96,611.86 444.9,611.26 443.84,611.86 444.08,610.66 443.19,609.84 444.4,609.71" fill="#222"/>
<text x="420.3" y="602.4" font-size="10" fill="#1a1a1a" textLength="53" lengthAdjust="spacingAndGlyphs" text-anchor="middle" stroke="#1a1a1a" stroke-width="0.18">HD (n=6-8)</text>
<rect x="474.3" y="644.3" width="10" height="6.6" fill="#ebc8bc" stroke="#bb1a40" stroke-width="1.1"/>
<text x="487.7" y="650.9" font-size="8.6" fill="#1a1a1a" textLength="17" lengthAdjust="spacingAndGlyphs" stroke="#1a1a1a" stroke-width="0.18">KIT+</text>
<rect x="474.3" y="656.5" width="10" height="6.6" fill="#c9cce2" stroke="#30508f" stroke-width="1.1"/>
<text x="487.7" y="663.1" font-size="8.6" fill="#1a1a1a" textLength="14.8" lengthAdjust="spacingAndGlyphs" stroke="#1a1a1a" stroke-width="0.18">KIT-</text>
<rect x="0.5" y="0.5" width="519" height="742" fill="none" stroke="#000" stroke-width="1.2"/>
</svg>
</body></html>
